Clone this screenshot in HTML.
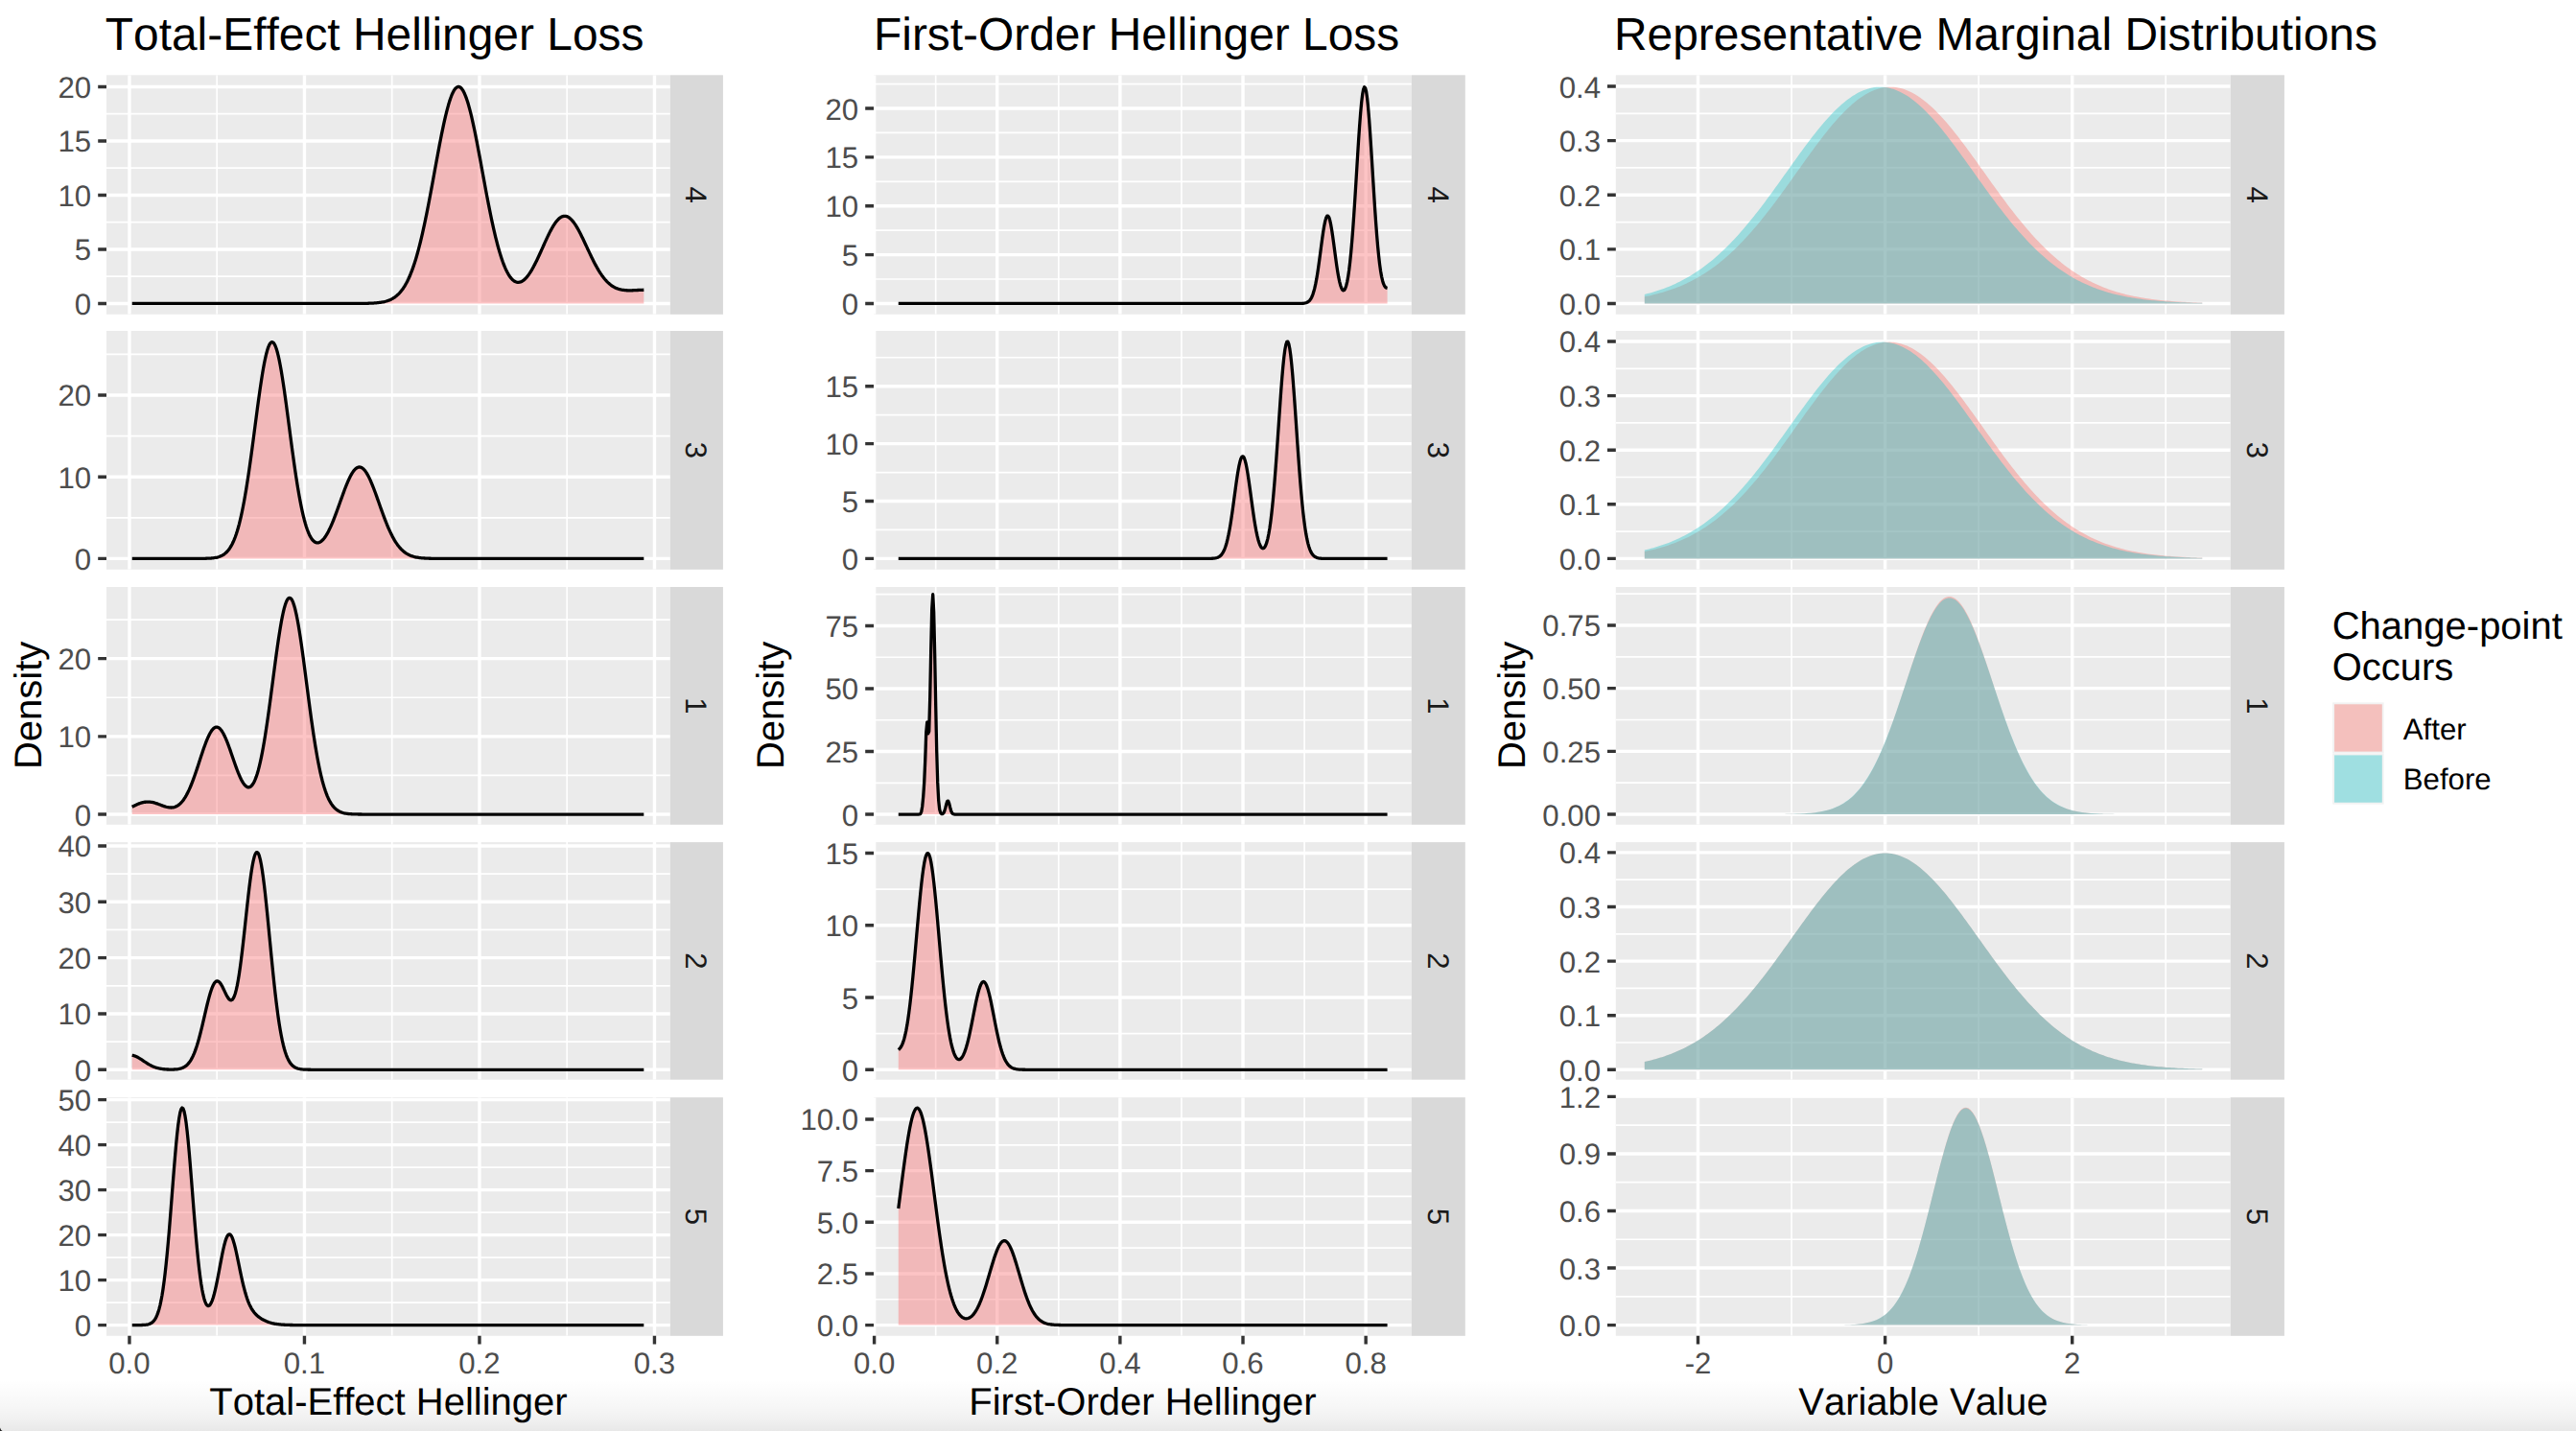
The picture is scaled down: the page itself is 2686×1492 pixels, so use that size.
<!DOCTYPE html>
<html lang="en"><head><meta charset="utf-8"><title>Hellinger loss densities</title>
<style>html,body{margin:0;padding:0;background:#fff;}body{width:2686px;height:1492px;overflow:hidden;}svg{display:block;}</style></head>
<body>
<svg width="2686" height="1492" viewBox="0 0 2686 1492" font-family='"Liberation Sans", sans-serif' style="font-kerning:none;text-rendering:geometricPrecision">
<defs><linearGradient id="shade" x1="0" y1="0" x2="0" y2="1"><stop offset="0" stop-color="#000" stop-opacity="0"/><stop offset="0.3" stop-color="#000" stop-opacity="0.018"/><stop offset="0.55" stop-color="#000" stop-opacity="0.035"/><stop offset="0.8" stop-color="#000" stop-opacity="0.06"/><stop offset="1" stop-color="#000" stop-opacity="0.09"/></linearGradient>
<clipPath id="cp00"><rect x="111" y="78.3" width="587.9" height="249.5"/></clipPath>
<clipPath id="cp01"><rect x="111" y="345" width="587.9" height="248.8"/></clipPath>
<clipPath id="cp02"><rect x="111" y="612" width="587.9" height="247.8"/></clipPath>
<clipPath id="cp03"><rect x="111" y="878.1" width="587.9" height="247.6"/></clipPath>
<clipPath id="cp04"><rect x="111" y="1144.2" width="587.9" height="248.6"/></clipPath>
<clipPath id="cp10"><rect x="911" y="78.3" width="560.9" height="249.5"/></clipPath>
<clipPath id="cp11"><rect x="911" y="345" width="560.9" height="248.8"/></clipPath>
<clipPath id="cp12"><rect x="911" y="612" width="560.9" height="247.8"/></clipPath>
<clipPath id="cp13"><rect x="911" y="878.1" width="560.9" height="247.6"/></clipPath>
<clipPath id="cp14"><rect x="911" y="1144.2" width="560.9" height="248.6"/></clipPath>
<clipPath id="cp20"><rect x="1684.8" y="78.3" width="641" height="249.5"/></clipPath>
<clipPath id="cp21"><rect x="1684.8" y="345" width="641" height="248.8"/></clipPath>
<clipPath id="cp22"><rect x="1684.8" y="612" width="641" height="247.8"/></clipPath>
<clipPath id="cp23"><rect x="1684.8" y="878.1" width="641" height="247.6"/></clipPath>
<clipPath id="cp24"><rect x="1684.8" y="1144.2" width="641" height="248.6"/></clipPath>
</defs>
<rect width="2686" height="1492" fill="#FFFFFF"/>
<text x="109.8" y="51.6" font-size="47.9" fill="#000">Total-Effect Hellinger Loss</text>
<g>
<rect x="111" y="78.3" width="587.9" height="249.5" fill="#EBEBEB"/>
<g clip-path="url(#cp00)">
<path d="M111 288.2H698.9M111 231.7H698.9M111 175.2H698.9M111 118.7H698.9M226.2 78.3V327.8M408.7 78.3V327.8M591.2 78.3V327.8" stroke="#fff" stroke-width="1.7" fill="none"/>
<path d="M111 316.45H698.9M111 259.95H698.9M111 203.45H698.9M111 146.95H698.9M111 90.45H698.9M134.95 78.3V327.8M317.45 78.3V327.8M499.95 78.3V327.8M682.45 78.3V327.8" stroke="#fff" stroke-width="3.4" fill="none"/>
<path d="M137.69 316.45L138.73 316.45L139.78 316.45L140.82 316.45L141.86 316.45L142.91 316.45L143.95 316.45L145 316.45L146.04 316.45L147.09 316.45L148.13 316.45L149.17 316.45L150.22 316.45L151.26 316.45L152.31 316.45L153.35 316.45L154.4 316.45L155.44 316.45L156.48 316.45L157.53 316.45L158.57 316.45L159.62 316.45L160.66 316.45L161.71 316.45L162.75 316.45L163.79 316.45L164.84 316.45L165.88 316.45L166.93 316.45L167.97 316.45L169.02 316.45L170.06 316.45L171.1 316.45L172.15 316.45L173.19 316.45L174.24 316.45L175.28 316.45L176.33 316.45L177.37 316.45L178.41 316.45L179.46 316.45L180.5 316.45L181.55 316.45L182.59 316.45L183.64 316.45L184.68 316.45L185.72 316.45L186.77 316.45L187.81 316.45L188.86 316.45L189.9 316.45L190.95 316.45L191.99 316.45L193.03 316.45L194.08 316.45L195.12 316.45L196.17 316.45L197.21 316.45L198.26 316.45L199.3 316.45L200.34 316.45L201.39 316.45L202.43 316.45L203.48 316.45L204.52 316.45L205.57 316.45L206.61 316.45L207.65 316.45L208.7 316.45L209.74 316.45L210.79 316.45L211.83 316.45L212.88 316.45L213.92 316.45L214.96 316.45L216.01 316.45L217.05 316.45L218.1 316.45L219.14 316.45L220.19 316.45L221.23 316.45L222.27 316.45L223.32 316.45L224.36 316.45L225.41 316.45L226.45 316.45L227.5 316.45L228.54 316.45L229.58 316.45L230.63 316.45L231.67 316.45L232.72 316.45L233.76 316.45L234.81 316.45L235.85 316.45L236.89 316.45L237.94 316.45L238.98 316.45L240.03 316.45L241.07 316.45L242.12 316.45L243.16 316.45L244.2 316.45L245.25 316.45L246.29 316.45L247.34 316.45L248.38 316.45L249.43 316.45L250.47 316.45L251.51 316.45L252.56 316.45L253.6 316.45L254.65 316.45L255.69 316.45L256.74 316.45L257.78 316.45L258.82 316.45L259.87 316.45L260.91 316.45L261.96 316.45L263 316.45L264.05 316.45L265.09 316.45L266.13 316.45L267.18 316.45L268.22 316.45L269.27 316.45L270.31 316.45L271.36 316.45L272.4 316.45L273.44 316.45L274.49 316.45L275.53 316.45L276.58 316.45L277.62 316.45L278.67 316.45L279.71 316.45L280.75 316.45L281.8 316.45L282.84 316.45L283.89 316.45L284.93 316.45L285.98 316.45L287.02 316.45L288.06 316.45L289.11 316.45L290.15 316.45L291.2 316.45L292.24 316.45L293.29 316.45L294.33 316.45L295.37 316.45L296.42 316.45L297.46 316.45L298.51 316.45L299.55 316.45L300.6 316.45L301.64 316.45L302.68 316.45L303.73 316.45L304.77 316.45L305.82 316.45L306.86 316.45L307.91 316.45L308.95 316.45L309.99 316.45L311.04 316.45L312.08 316.45L313.13 316.45L314.17 316.45L315.22 316.45L316.26 316.45L317.3 316.45L318.35 316.45L319.39 316.45L320.44 316.45L321.48 316.45L322.53 316.45L323.57 316.45L324.61 316.45L325.66 316.45L326.7 316.45L327.75 316.45L328.79 316.45L329.84 316.45L330.88 316.45L331.92 316.45L332.97 316.45L334.01 316.45L335.06 316.45L336.1 316.45L337.15 316.45L338.19 316.45L339.23 316.45L340.28 316.45L341.32 316.45L342.37 316.45L343.41 316.45L344.46 316.45L345.5 316.45L346.54 316.45L347.59 316.45L348.63 316.45L349.68 316.45L350.72 316.45L351.77 316.45L352.81 316.45L353.85 316.45L354.9 316.45L355.94 316.45L356.99 316.45L358.03 316.45L359.08 316.45L360.12 316.45L361.16 316.45L362.21 316.45L363.25 316.44L364.3 316.44L365.34 316.44L366.39 316.44L367.43 316.44L368.47 316.43L369.52 316.43L370.56 316.43L371.61 316.42L372.65 316.42L373.7 316.41L374.74 316.41L375.78 316.4L376.83 316.39L377.87 316.38L378.92 316.36L379.96 316.35L381.01 316.33L382.05 316.31L383.09 316.28L384.14 316.25L385.18 316.22L386.23 316.18L387.27 316.14L388.32 316.09L389.36 316.03L390.4 315.96L391.45 315.89L392.49 315.8L393.54 315.7L394.58 315.59L395.63 315.46L396.67 315.32L397.71 315.15L398.76 314.97L399.8 314.76L400.85 314.53L401.89 314.27L402.94 313.97L403.98 313.64L405.02 313.28L406.07 312.87L407.11 312.41L408.16 311.91L409.2 311.35L410.25 310.73L411.29 310.05L412.33 309.3L413.38 308.48L414.42 307.58L415.47 306.6L416.51 305.52L417.56 304.35L418.6 303.07L419.64 301.69L420.69 300.19L421.73 298.57L422.78 296.82L423.82 294.94L424.87 292.92L425.91 290.76L426.95 288.45L428 285.98L429.04 283.35L430.09 280.56L431.13 277.6L432.18 274.46L433.22 271.16L434.26 267.68L435.31 264.02L436.35 260.19L437.4 256.19L438.44 252.01L439.49 247.66L440.53 243.15L441.57 238.48L442.62 233.65L443.66 228.68L444.71 223.57L445.75 218.33L446.8 212.98L447.84 207.53L448.88 202L449.93 196.39L450.97 190.72L452.02 185.02L453.06 179.3L454.11 173.57L455.15 167.87L456.19 162.21L457.24 156.62L458.28 151.11L459.33 145.71L460.37 140.43L461.42 135.32L462.46 130.38L463.5 125.63L464.55 121.11L465.59 116.83L466.64 112.81L467.68 109.07L468.73 105.63L469.77 102.51L470.81 99.72L471.86 97.27L472.9 95.19L473.95 93.47L474.99 92.13L476.04 91.18L477.08 90.62L478.12 90.45L479.17 90.67L480.21 91.29L481.26 92.3L482.3 93.69L483.35 95.46L484.39 97.59L485.43 100.09L486.48 102.92L487.52 106.09L488.57 109.57L489.61 113.35L490.66 117.4L491.7 121.72L492.74 126.27L493.79 131.04L494.83 136L495.88 141.13L496.92 146.41L497.97 151.82L499.01 157.33L500.05 162.92L501.1 168.57L502.14 174.26L503.19 179.96L504.23 185.65L505.28 191.32L506.32 196.94L507.36 202.5L508.41 207.99L509.45 213.37L510.5 218.64L511.54 223.79L512.59 228.81L513.63 233.67L514.67 238.38L515.72 242.92L516.76 247.29L517.81 251.47L518.85 255.47L519.9 259.27L520.94 262.88L521.98 266.29L523.03 269.5L524.07 272.52L525.12 275.32L526.16 277.93L527.21 280.34L528.25 282.54L529.29 284.55L530.34 286.37L531.38 287.99L532.43 289.42L533.47 290.66L534.52 291.71L535.56 292.59L536.6 293.28L537.65 293.8L538.69 294.15L539.74 294.34L540.78 294.36L541.83 294.22L542.87 293.92L543.91 293.47L544.96 292.87L546 292.13L547.05 291.25L548.09 290.23L549.14 289.08L550.18 287.81L551.22 286.42L552.27 284.91L553.31 283.29L554.36 281.58L555.4 279.76L556.45 277.86L557.49 275.87L558.53 273.81L559.58 271.69L560.62 269.5L561.67 267.27L562.71 265L563.76 262.7L564.8 260.38L565.84 258.05L566.89 255.72L567.93 253.41L568.98 251.12L570.02 248.86L571.07 246.64L572.11 244.49L573.15 242.39L574.2 240.38L575.24 238.46L576.29 236.63L577.33 234.91L578.38 233.31L579.42 231.83L580.46 230.49L581.51 229.29L582.55 228.24L583.6 227.34L584.64 226.6L585.69 226.02L586.73 225.6L587.77 225.36L588.82 225.28L589.86 225.38L590.91 225.64L591.95 226.06L593 226.65L594.04 227.4L595.08 228.31L596.13 229.36L597.17 230.56L598.22 231.89L599.26 233.35L600.31 234.93L601.35 236.62L602.39 238.42L603.44 240.3L604.48 242.26L605.53 244.3L606.57 246.4L607.62 248.54L608.66 250.73L609.7 252.95L610.75 255.18L611.79 257.43L612.84 259.68L613.88 261.91L614.93 264.13L615.97 266.32L617.01 268.48L618.06 270.6L619.1 272.67L620.15 274.68L621.19 276.64L622.24 278.53L623.28 280.36L624.32 282.11L625.37 283.79L626.41 285.39L627.46 286.92L628.5 288.36L629.55 289.73L630.59 291.01L631.63 292.22L632.68 293.34L633.72 294.39L634.77 295.36L635.81 296.25L636.86 297.08L637.9 297.83L638.94 298.51L639.99 299.14L641.03 299.69L642.08 300.19L643.12 300.64L644.17 301.03L645.21 301.37L646.25 301.67L647.3 301.93L648.34 302.14L649.39 302.32L650.43 302.46L651.48 302.58L652.52 302.67L653.56 302.73L654.61 302.78L655.65 302.8L656.7 302.81L657.74 302.8L658.79 302.78L659.83 302.75L660.87 302.71L661.92 302.67L662.96 302.62L664.01 302.58L665.05 302.52L666.1 302.47L667.14 302.43L668.18 302.38L669.23 302.34L670.27 302.3L671.32 302.27L671.32 316.45L137.69 316.45Z" fill="#F96B6E" fill-opacity="0.4" stroke="none"/>
<path d="M137.69 316.45L138.73 316.45L139.78 316.45L140.82 316.45L141.86 316.45L142.91 316.45L143.95 316.45L145 316.45L146.04 316.45L147.09 316.45L148.13 316.45L149.17 316.45L150.22 316.45L151.26 316.45L152.31 316.45L153.35 316.45L154.4 316.45L155.44 316.45L156.48 316.45L157.53 316.45L158.57 316.45L159.62 316.45L160.66 316.45L161.71 316.45L162.75 316.45L163.79 316.45L164.84 316.45L165.88 316.45L166.93 316.45L167.97 316.45L169.02 316.45L170.06 316.45L171.1 316.45L172.15 316.45L173.19 316.45L174.24 316.45L175.28 316.45L176.33 316.45L177.37 316.45L178.41 316.45L179.46 316.45L180.5 316.45L181.55 316.45L182.59 316.45L183.64 316.45L184.68 316.45L185.72 316.45L186.77 316.45L187.81 316.45L188.86 316.45L189.9 316.45L190.95 316.45L191.99 316.45L193.03 316.45L194.08 316.45L195.12 316.45L196.17 316.45L197.21 316.45L198.26 316.45L199.3 316.45L200.34 316.45L201.39 316.45L202.43 316.45L203.48 316.45L204.52 316.45L205.57 316.45L206.61 316.45L207.65 316.45L208.7 316.45L209.74 316.45L210.79 316.45L211.83 316.45L212.88 316.45L213.92 316.45L214.96 316.45L216.01 316.45L217.05 316.45L218.1 316.45L219.14 316.45L220.19 316.45L221.23 316.45L222.27 316.45L223.32 316.45L224.36 316.45L225.41 316.45L226.45 316.45L227.5 316.45L228.54 316.45L229.58 316.45L230.63 316.45L231.67 316.45L232.72 316.45L233.76 316.45L234.81 316.45L235.85 316.45L236.89 316.45L237.94 316.45L238.98 316.45L240.03 316.45L241.07 316.45L242.12 316.45L243.16 316.45L244.2 316.45L245.25 316.45L246.29 316.45L247.34 316.45L248.38 316.45L249.43 316.45L250.47 316.45L251.51 316.45L252.56 316.45L253.6 316.45L254.65 316.45L255.69 316.45L256.74 316.45L257.78 316.45L258.82 316.45L259.87 316.45L260.91 316.45L261.96 316.45L263 316.45L264.05 316.45L265.09 316.45L266.13 316.45L267.18 316.45L268.22 316.45L269.27 316.45L270.31 316.45L271.36 316.45L272.4 316.45L273.44 316.45L274.49 316.45L275.53 316.45L276.58 316.45L277.62 316.45L278.67 316.45L279.71 316.45L280.75 316.45L281.8 316.45L282.84 316.45L283.89 316.45L284.93 316.45L285.98 316.45L287.02 316.45L288.06 316.45L289.11 316.45L290.15 316.45L291.2 316.45L292.24 316.45L293.29 316.45L294.33 316.45L295.37 316.45L296.42 316.45L297.46 316.45L298.51 316.45L299.55 316.45L300.6 316.45L301.64 316.45L302.68 316.45L303.73 316.45L304.77 316.45L305.82 316.45L306.86 316.45L307.91 316.45L308.95 316.45L309.99 316.45L311.04 316.45L312.08 316.45L313.13 316.45L314.17 316.45L315.22 316.45L316.26 316.45L317.3 316.45L318.35 316.45L319.39 316.45L320.44 316.45L321.48 316.45L322.53 316.45L323.57 316.45L324.61 316.45L325.66 316.45L326.7 316.45L327.75 316.45L328.79 316.45L329.84 316.45L330.88 316.45L331.92 316.45L332.97 316.45L334.01 316.45L335.06 316.45L336.1 316.45L337.15 316.45L338.19 316.45L339.23 316.45L340.28 316.45L341.32 316.45L342.37 316.45L343.41 316.45L344.46 316.45L345.5 316.45L346.54 316.45L347.59 316.45L348.63 316.45L349.68 316.45L350.72 316.45L351.77 316.45L352.81 316.45L353.85 316.45L354.9 316.45L355.94 316.45L356.99 316.45L358.03 316.45L359.08 316.45L360.12 316.45L361.16 316.45L362.21 316.45L363.25 316.44L364.3 316.44L365.34 316.44L366.39 316.44L367.43 316.44L368.47 316.43L369.52 316.43L370.56 316.43L371.61 316.42L372.65 316.42L373.7 316.41L374.74 316.41L375.78 316.4L376.83 316.39L377.87 316.38L378.92 316.36L379.96 316.35L381.01 316.33L382.05 316.31L383.09 316.28L384.14 316.25L385.18 316.22L386.23 316.18L387.27 316.14L388.32 316.09L389.36 316.03L390.4 315.96L391.45 315.89L392.49 315.8L393.54 315.7L394.58 315.59L395.63 315.46L396.67 315.32L397.71 315.15L398.76 314.97L399.8 314.76L400.85 314.53L401.89 314.27L402.94 313.97L403.98 313.64L405.02 313.28L406.07 312.87L407.11 312.41L408.16 311.91L409.2 311.35L410.25 310.73L411.29 310.05L412.33 309.3L413.38 308.48L414.42 307.58L415.47 306.6L416.51 305.52L417.56 304.35L418.6 303.07L419.64 301.69L420.69 300.19L421.73 298.57L422.78 296.82L423.82 294.94L424.87 292.92L425.91 290.76L426.95 288.45L428 285.98L429.04 283.35L430.09 280.56L431.13 277.6L432.18 274.46L433.22 271.16L434.26 267.68L435.31 264.02L436.35 260.19L437.4 256.19L438.44 252.01L439.49 247.66L440.53 243.15L441.57 238.48L442.62 233.65L443.66 228.68L444.71 223.57L445.75 218.33L446.8 212.98L447.84 207.53L448.88 202L449.93 196.39L450.97 190.72L452.02 185.02L453.06 179.3L454.11 173.57L455.15 167.87L456.19 162.21L457.24 156.62L458.28 151.11L459.33 145.71L460.37 140.43L461.42 135.32L462.46 130.38L463.5 125.63L464.55 121.11L465.59 116.83L466.64 112.81L467.68 109.07L468.73 105.63L469.77 102.51L470.81 99.72L471.86 97.27L472.9 95.19L473.95 93.47L474.99 92.13L476.04 91.18L477.08 90.62L478.12 90.45L479.17 90.67L480.21 91.29L481.26 92.3L482.3 93.69L483.35 95.46L484.39 97.59L485.43 100.09L486.48 102.92L487.52 106.09L488.57 109.57L489.61 113.35L490.66 117.4L491.7 121.72L492.74 126.27L493.79 131.04L494.83 136L495.88 141.13L496.92 146.41L497.97 151.82L499.01 157.33L500.05 162.92L501.1 168.57L502.14 174.26L503.19 179.96L504.23 185.65L505.28 191.32L506.32 196.94L507.36 202.5L508.41 207.99L509.45 213.37L510.5 218.64L511.54 223.79L512.59 228.81L513.63 233.67L514.67 238.38L515.72 242.92L516.76 247.29L517.81 251.47L518.85 255.47L519.9 259.27L520.94 262.88L521.98 266.29L523.03 269.5L524.07 272.52L525.12 275.32L526.16 277.93L527.21 280.34L528.25 282.54L529.29 284.55L530.34 286.37L531.38 287.99L532.43 289.42L533.47 290.66L534.52 291.71L535.56 292.59L536.6 293.28L537.65 293.8L538.69 294.15L539.74 294.34L540.78 294.36L541.83 294.22L542.87 293.92L543.91 293.47L544.96 292.87L546 292.13L547.05 291.25L548.09 290.23L549.14 289.08L550.18 287.81L551.22 286.42L552.27 284.91L553.31 283.29L554.36 281.58L555.4 279.76L556.45 277.86L557.49 275.87L558.53 273.81L559.58 271.69L560.62 269.5L561.67 267.27L562.71 265L563.76 262.7L564.8 260.38L565.84 258.05L566.89 255.72L567.93 253.41L568.98 251.12L570.02 248.86L571.07 246.64L572.11 244.49L573.15 242.39L574.2 240.38L575.24 238.46L576.29 236.63L577.33 234.91L578.38 233.31L579.42 231.83L580.46 230.49L581.51 229.29L582.55 228.24L583.6 227.34L584.64 226.6L585.69 226.02L586.73 225.6L587.77 225.36L588.82 225.28L589.86 225.38L590.91 225.64L591.95 226.06L593 226.65L594.04 227.4L595.08 228.31L596.13 229.36L597.17 230.56L598.22 231.89L599.26 233.35L600.31 234.93L601.35 236.62L602.39 238.42L603.44 240.3L604.48 242.26L605.53 244.3L606.57 246.4L607.62 248.54L608.66 250.73L609.7 252.95L610.75 255.18L611.79 257.43L612.84 259.68L613.88 261.91L614.93 264.13L615.97 266.32L617.01 268.48L618.06 270.6L619.1 272.67L620.15 274.68L621.19 276.64L622.24 278.53L623.28 280.36L624.32 282.11L625.37 283.79L626.41 285.39L627.46 286.92L628.5 288.36L629.55 289.73L630.59 291.01L631.63 292.22L632.68 293.34L633.72 294.39L634.77 295.36L635.81 296.25L636.86 297.08L637.9 297.83L638.94 298.51L639.99 299.14L641.03 299.69L642.08 300.19L643.12 300.64L644.17 301.03L645.21 301.37L646.25 301.67L647.3 301.93L648.34 302.14L649.39 302.32L650.43 302.46L651.48 302.58L652.52 302.67L653.56 302.73L654.61 302.78L655.65 302.8L656.7 302.81L657.74 302.8L658.79 302.78L659.83 302.75L660.87 302.71L661.92 302.67L662.96 302.62L664.01 302.58L665.05 302.52L666.1 302.47L667.14 302.43L668.18 302.38L669.23 302.34L670.27 302.3L671.32 302.27" fill="none" stroke="#000" stroke-width="3.3" stroke-linejoin="round" stroke-linecap="butt"/>
</g>
<rect x="698.9" y="78.3" width="55" height="249.5" fill="#D9D9D9"/>
<text transform="translate(726.4 203.05) rotate(90)" x="0" y="11.17" text-anchor="middle" font-size="31.2" fill="#1A1A1A">4</text>
<text x="95.2" y="327.92" text-anchor="end" font-size="31.2" fill="#4D4D4D">0</text>
<text x="95.2" y="271.42" text-anchor="end" font-size="31.2" fill="#4D4D4D">5</text>
<text x="95.2" y="214.92" text-anchor="end" font-size="31.2" fill="#4D4D4D">10</text>
<text x="95.2" y="158.42" text-anchor="end" font-size="31.2" fill="#4D4D4D">15</text>
<text x="95.2" y="101.92" text-anchor="end" font-size="31.2" fill="#4D4D4D">20</text>
<path d="M102.2 316.45H111M102.2 259.95H111M102.2 203.45H111M102.2 146.95H111M102.2 90.45H111" stroke="#333333" stroke-width="3.4" fill="none"/>
</g>
<g>
<rect x="111" y="345" width="587.9" height="248.8" fill="#EBEBEB"/>
<g clip-path="url(#cp01)">
<path d="M111 539.8H698.9M111 454.6H698.9M111 369.4H698.9M226.2 345V593.8M408.7 345V593.8M591.2 345V593.8" stroke="#fff" stroke-width="1.7" fill="none"/>
<path d="M111 582.4H698.9M111 497.2H698.9M111 412H698.9M134.95 345V593.8M317.45 345V593.8M499.95 345V593.8M682.45 345V593.8" stroke="#fff" stroke-width="3.4" fill="none"/>
<path d="M137.69 582.4L138.73 582.4L139.78 582.4L140.82 582.4L141.86 582.4L142.91 582.4L143.95 582.4L145 582.4L146.04 582.4L147.09 582.4L148.13 582.4L149.17 582.4L150.22 582.4L151.26 582.4L152.31 582.4L153.35 582.4L154.4 582.4L155.44 582.4L156.48 582.4L157.53 582.4L158.57 582.4L159.62 582.4L160.66 582.4L161.71 582.4L162.75 582.4L163.79 582.4L164.84 582.4L165.88 582.4L166.93 582.4L167.97 582.4L169.02 582.4L170.06 582.4L171.1 582.4L172.15 582.4L173.19 582.4L174.24 582.4L175.28 582.4L176.33 582.4L177.37 582.4L178.41 582.4L179.46 582.4L180.5 582.4L181.55 582.4L182.59 582.4L183.64 582.4L184.68 582.4L185.72 582.4L186.77 582.4L187.81 582.4L188.86 582.4L189.9 582.4L190.95 582.4L191.99 582.4L193.03 582.4L194.08 582.4L195.12 582.4L196.17 582.4L197.21 582.4L198.26 582.4L199.3 582.4L200.34 582.4L201.39 582.39L202.43 582.39L203.48 582.39L204.52 582.39L205.57 582.38L206.61 582.38L207.65 582.37L208.7 582.37L209.74 582.36L210.79 582.34L211.83 582.33L212.88 582.31L213.92 582.29L214.96 582.26L216.01 582.22L217.05 582.18L218.1 582.13L219.14 582.06L220.19 581.99L221.23 581.89L222.27 581.78L223.32 581.64L224.36 581.48L225.41 581.28L226.45 581.05L227.5 580.78L228.54 580.45L229.58 580.07L230.63 579.63L231.67 579.11L232.72 578.51L233.76 577.81L234.81 577.01L235.85 576.09L236.89 575.03L237.94 573.83L238.98 572.47L240.03 570.93L241.07 569.19L242.12 567.25L243.16 565.07L244.2 562.66L245.25 559.98L246.29 557.02L247.34 553.78L248.38 550.23L249.43 546.36L250.47 542.16L251.51 537.63L252.56 532.75L253.6 527.54L254.65 521.98L255.69 516.08L256.74 509.86L257.78 503.32L258.82 496.49L259.87 489.38L260.91 482.03L261.96 474.47L263 466.73L264.05 458.86L265.09 450.91L266.13 442.91L267.18 434.94L268.22 427.04L269.27 419.27L270.31 411.7L271.36 404.38L272.4 397.39L273.44 390.77L274.49 384.59L275.53 378.91L276.58 373.77L277.62 369.24L278.67 365.34L279.71 362.13L280.75 359.63L281.8 357.87L282.84 356.87L283.89 356.63L284.93 357.16L285.98 358.45L287.02 360.5L288.06 363.27L289.11 366.74L290.15 370.88L291.2 375.65L292.24 381L293.29 386.87L294.33 393.22L295.37 399.98L296.42 407.09L297.46 414.5L298.51 422.14L299.55 429.94L300.6 437.86L301.64 445.82L302.68 453.77L303.73 461.66L304.77 469.44L305.82 477.07L306.86 484.49L307.91 491.68L308.95 498.6L309.99 505.23L311.04 511.54L312.08 517.51L313.13 523.13L314.17 528.4L315.22 533.29L316.26 537.81L317.3 541.97L318.35 545.76L319.39 549.19L320.44 552.26L321.48 554.99L322.53 557.39L323.57 559.46L324.61 561.22L325.66 562.69L326.7 563.86L327.75 564.76L328.79 565.4L329.84 565.78L330.88 565.92L331.92 565.83L332.97 565.52L334.01 565L335.06 564.28L336.1 563.36L337.15 562.25L338.19 560.96L339.23 559.5L340.28 557.88L341.32 556.1L342.37 554.17L343.41 552.1L344.46 549.89L345.5 547.56L346.54 545.12L347.59 542.56L348.63 539.92L349.68 537.19L350.72 534.4L351.77 531.54L352.81 528.65L353.85 525.72L354.9 522.79L355.94 519.86L356.99 516.95L358.03 514.08L359.08 511.27L360.12 508.53L361.16 505.88L362.21 503.35L363.25 500.94L364.3 498.67L365.34 496.57L366.39 494.64L367.43 492.91L368.47 491.37L369.52 490.05L370.56 488.96L371.61 488.1L372.65 487.48L373.7 487.1L374.74 486.98L375.78 487.1L376.83 487.47L377.87 488.08L378.92 488.93L379.96 490.02L381.01 491.34L382.05 492.86L383.09 494.6L384.14 496.52L385.18 498.62L386.23 500.88L387.27 503.29L388.32 505.83L389.36 508.48L390.4 511.22L391.45 514.04L392.49 516.92L393.54 519.84L394.58 522.79L395.63 525.74L396.67 528.69L397.71 531.62L398.76 534.52L399.8 537.36L400.85 540.15L401.89 542.87L402.94 545.51L403.98 548.07L405.02 550.53L406.07 552.89L407.11 555.14L408.16 557.29L409.2 559.34L410.25 561.27L411.29 563.09L412.33 564.79L413.38 566.39L414.42 567.89L415.47 569.27L416.51 570.56L417.56 571.75L418.6 572.84L419.64 573.84L420.69 574.76L421.73 575.6L422.78 576.36L423.82 577.05L424.87 577.67L425.91 578.24L426.95 578.74L428 579.19L429.04 579.6L430.09 579.95L431.13 580.27L432.18 580.56L433.22 580.8L434.26 581.02L435.31 581.21L436.35 581.38L437.4 581.53L438.44 581.66L439.49 581.77L440.53 581.86L441.57 581.94L442.62 582.01L443.66 582.08L444.71 582.13L445.75 582.17L446.8 582.21L447.84 582.24L448.88 582.27L449.93 582.29L450.97 582.31L452.02 582.32L453.06 582.34L454.11 582.35L455.15 582.36L456.19 582.37L457.24 582.37L458.28 582.38L459.33 582.38L460.37 582.39L461.42 582.39L462.46 582.39L463.5 582.39L464.55 582.39L465.59 582.4L466.64 582.4L467.68 582.4L468.73 582.4L469.77 582.4L470.81 582.4L471.86 582.4L472.9 582.4L473.95 582.4L474.99 582.4L476.04 582.4L477.08 582.4L478.12 582.4L479.17 582.4L480.21 582.4L481.26 582.4L482.3 582.4L483.35 582.4L484.39 582.4L485.43 582.4L486.48 582.4L487.52 582.4L488.57 582.4L489.61 582.4L490.66 582.4L491.7 582.4L492.74 582.4L493.79 582.4L494.83 582.4L495.88 582.4L496.92 582.4L497.97 582.4L499.01 582.4L500.05 582.4L501.1 582.4L502.14 582.4L503.19 582.4L504.23 582.4L505.28 582.4L506.32 582.4L507.36 582.4L508.41 582.4L509.45 582.4L510.5 582.4L511.54 582.4L512.59 582.4L513.63 582.4L514.67 582.4L515.72 582.4L516.76 582.4L517.81 582.4L518.85 582.4L519.9 582.4L520.94 582.4L521.98 582.4L523.03 582.4L524.07 582.4L525.12 582.4L526.16 582.4L527.21 582.4L528.25 582.4L529.29 582.4L530.34 582.4L531.38 582.4L532.43 582.4L533.47 582.4L534.52 582.4L535.56 582.4L536.6 582.4L537.65 582.4L538.69 582.4L539.74 582.4L540.78 582.4L541.83 582.4L542.87 582.4L543.91 582.4L544.96 582.4L546 582.4L547.05 582.4L548.09 582.4L549.14 582.4L550.18 582.4L551.22 582.4L552.27 582.4L553.31 582.4L554.36 582.4L555.4 582.4L556.45 582.4L557.49 582.4L558.53 582.4L559.58 582.4L560.62 582.4L561.67 582.4L562.71 582.4L563.76 582.4L564.8 582.4L565.84 582.4L566.89 582.4L567.93 582.4L568.98 582.4L570.02 582.4L571.07 582.4L572.11 582.4L573.15 582.4L574.2 582.4L575.24 582.4L576.29 582.4L577.33 582.4L578.38 582.4L579.42 582.4L580.46 582.4L581.51 582.4L582.55 582.4L583.6 582.4L584.64 582.4L585.69 582.4L586.73 582.4L587.77 582.4L588.82 582.4L589.86 582.4L590.91 582.4L591.95 582.4L593 582.4L594.04 582.4L595.08 582.4L596.13 582.4L597.17 582.4L598.22 582.4L599.26 582.4L600.31 582.4L601.35 582.4L602.39 582.4L603.44 582.4L604.48 582.4L605.53 582.4L606.57 582.4L607.62 582.4L608.66 582.4L609.7 582.4L610.75 582.4L611.79 582.4L612.84 582.4L613.88 582.4L614.93 582.4L615.97 582.4L617.01 582.4L618.06 582.4L619.1 582.4L620.15 582.4L621.19 582.4L622.24 582.4L623.28 582.4L624.32 582.4L625.37 582.4L626.41 582.4L627.46 582.4L628.5 582.4L629.55 582.4L630.59 582.4L631.63 582.4L632.68 582.4L633.72 582.4L634.77 582.4L635.81 582.4L636.86 582.4L637.9 582.4L638.94 582.4L639.99 582.4L641.03 582.4L642.08 582.4L643.12 582.4L644.17 582.4L645.21 582.4L646.25 582.4L647.3 582.4L648.34 582.4L649.39 582.4L650.43 582.4L651.48 582.4L652.52 582.4L653.56 582.4L654.61 582.4L655.65 582.4L656.7 582.4L657.74 582.4L658.79 582.4L659.83 582.4L660.87 582.4L661.92 582.4L662.96 582.4L664.01 582.4L665.05 582.4L666.1 582.4L667.14 582.4L668.18 582.4L669.23 582.4L670.27 582.4L671.32 582.4L671.32 582.4L137.69 582.4Z" fill="#F96B6E" fill-opacity="0.4" stroke="none"/>
<path d="M137.69 582.4L138.73 582.4L139.78 582.4L140.82 582.4L141.86 582.4L142.91 582.4L143.95 582.4L145 582.4L146.04 582.4L147.09 582.4L148.13 582.4L149.17 582.4L150.22 582.4L151.26 582.4L152.31 582.4L153.35 582.4L154.4 582.4L155.44 582.4L156.48 582.4L157.53 582.4L158.57 582.4L159.62 582.4L160.66 582.4L161.71 582.4L162.75 582.4L163.79 582.4L164.84 582.4L165.88 582.4L166.93 582.4L167.97 582.4L169.02 582.4L170.06 582.4L171.1 582.4L172.15 582.4L173.19 582.4L174.24 582.4L175.28 582.4L176.33 582.4L177.37 582.4L178.41 582.4L179.46 582.4L180.5 582.4L181.55 582.4L182.59 582.4L183.64 582.4L184.68 582.4L185.72 582.4L186.77 582.4L187.81 582.4L188.86 582.4L189.9 582.4L190.95 582.4L191.99 582.4L193.03 582.4L194.08 582.4L195.12 582.4L196.17 582.4L197.21 582.4L198.26 582.4L199.3 582.4L200.34 582.4L201.39 582.39L202.43 582.39L203.48 582.39L204.52 582.39L205.57 582.38L206.61 582.38L207.65 582.37L208.7 582.37L209.74 582.36L210.79 582.34L211.83 582.33L212.88 582.31L213.92 582.29L214.96 582.26L216.01 582.22L217.05 582.18L218.1 582.13L219.14 582.06L220.19 581.99L221.23 581.89L222.27 581.78L223.32 581.64L224.36 581.48L225.41 581.28L226.45 581.05L227.5 580.78L228.54 580.45L229.58 580.07L230.63 579.63L231.67 579.11L232.72 578.51L233.76 577.81L234.81 577.01L235.85 576.09L236.89 575.03L237.94 573.83L238.98 572.47L240.03 570.93L241.07 569.19L242.12 567.25L243.16 565.07L244.2 562.66L245.25 559.98L246.29 557.02L247.34 553.78L248.38 550.23L249.43 546.36L250.47 542.16L251.51 537.63L252.56 532.75L253.6 527.54L254.65 521.98L255.69 516.08L256.74 509.86L257.78 503.32L258.82 496.49L259.87 489.38L260.91 482.03L261.96 474.47L263 466.73L264.05 458.86L265.09 450.91L266.13 442.91L267.18 434.94L268.22 427.04L269.27 419.27L270.31 411.7L271.36 404.38L272.4 397.39L273.44 390.77L274.49 384.59L275.53 378.91L276.58 373.77L277.62 369.24L278.67 365.34L279.71 362.13L280.75 359.63L281.8 357.87L282.84 356.87L283.89 356.63L284.93 357.16L285.98 358.45L287.02 360.5L288.06 363.27L289.11 366.74L290.15 370.88L291.2 375.65L292.24 381L293.29 386.87L294.33 393.22L295.37 399.98L296.42 407.09L297.46 414.5L298.51 422.14L299.55 429.94L300.6 437.86L301.64 445.82L302.68 453.77L303.73 461.66L304.77 469.44L305.82 477.07L306.86 484.49L307.91 491.68L308.95 498.6L309.99 505.23L311.04 511.54L312.08 517.51L313.13 523.13L314.17 528.4L315.22 533.29L316.26 537.81L317.3 541.97L318.35 545.76L319.39 549.19L320.44 552.26L321.48 554.99L322.53 557.39L323.57 559.46L324.61 561.22L325.66 562.69L326.7 563.86L327.75 564.76L328.79 565.4L329.84 565.78L330.88 565.92L331.92 565.83L332.97 565.52L334.01 565L335.06 564.28L336.1 563.36L337.15 562.25L338.19 560.96L339.23 559.5L340.28 557.88L341.32 556.1L342.37 554.17L343.41 552.1L344.46 549.89L345.5 547.56L346.54 545.12L347.59 542.56L348.63 539.92L349.68 537.19L350.72 534.4L351.77 531.54L352.81 528.65L353.85 525.72L354.9 522.79L355.94 519.86L356.99 516.95L358.03 514.08L359.08 511.27L360.12 508.53L361.16 505.88L362.21 503.35L363.25 500.94L364.3 498.67L365.34 496.57L366.39 494.64L367.43 492.91L368.47 491.37L369.52 490.05L370.56 488.96L371.61 488.1L372.65 487.48L373.7 487.1L374.74 486.98L375.78 487.1L376.83 487.47L377.87 488.08L378.92 488.93L379.96 490.02L381.01 491.34L382.05 492.86L383.09 494.6L384.14 496.52L385.18 498.62L386.23 500.88L387.27 503.29L388.32 505.83L389.36 508.48L390.4 511.22L391.45 514.04L392.49 516.92L393.54 519.84L394.58 522.79L395.63 525.74L396.67 528.69L397.71 531.62L398.76 534.52L399.8 537.36L400.85 540.15L401.89 542.87L402.94 545.51L403.98 548.07L405.02 550.53L406.07 552.89L407.11 555.14L408.16 557.29L409.2 559.34L410.25 561.27L411.29 563.09L412.33 564.79L413.38 566.39L414.42 567.89L415.47 569.27L416.51 570.56L417.56 571.75L418.6 572.84L419.64 573.84L420.69 574.76L421.73 575.6L422.78 576.36L423.82 577.05L424.87 577.67L425.91 578.24L426.95 578.74L428 579.19L429.04 579.6L430.09 579.95L431.13 580.27L432.18 580.56L433.22 580.8L434.26 581.02L435.31 581.21L436.35 581.38L437.4 581.53L438.44 581.66L439.49 581.77L440.53 581.86L441.57 581.94L442.62 582.01L443.66 582.08L444.71 582.13L445.75 582.17L446.8 582.21L447.84 582.24L448.88 582.27L449.93 582.29L450.97 582.31L452.02 582.32L453.06 582.34L454.11 582.35L455.15 582.36L456.19 582.37L457.24 582.37L458.28 582.38L459.33 582.38L460.37 582.39L461.42 582.39L462.46 582.39L463.5 582.39L464.55 582.39L465.59 582.4L466.64 582.4L467.68 582.4L468.73 582.4L469.77 582.4L470.81 582.4L471.86 582.4L472.9 582.4L473.95 582.4L474.99 582.4L476.04 582.4L477.08 582.4L478.12 582.4L479.17 582.4L480.21 582.4L481.26 582.4L482.3 582.4L483.35 582.4L484.39 582.4L485.43 582.4L486.48 582.4L487.52 582.4L488.57 582.4L489.61 582.4L490.66 582.4L491.7 582.4L492.74 582.4L493.79 582.4L494.83 582.4L495.88 582.4L496.92 582.4L497.97 582.4L499.01 582.4L500.05 582.4L501.1 582.4L502.14 582.4L503.19 582.4L504.23 582.4L505.28 582.4L506.32 582.4L507.36 582.4L508.41 582.4L509.45 582.4L510.5 582.4L511.54 582.4L512.59 582.4L513.63 582.4L514.67 582.4L515.72 582.4L516.76 582.4L517.81 582.4L518.85 582.4L519.9 582.4L520.94 582.4L521.98 582.4L523.03 582.4L524.07 582.4L525.12 582.4L526.16 582.4L527.21 582.4L528.25 582.4L529.29 582.4L530.34 582.4L531.38 582.4L532.43 582.4L533.47 582.4L534.52 582.4L535.56 582.4L536.6 582.4L537.65 582.4L538.69 582.4L539.74 582.4L540.78 582.4L541.83 582.4L542.87 582.4L543.91 582.4L544.96 582.4L546 582.4L547.05 582.4L548.09 582.4L549.14 582.4L550.18 582.4L551.22 582.4L552.27 582.4L553.31 582.4L554.36 582.4L555.4 582.4L556.45 582.4L557.49 582.4L558.53 582.4L559.58 582.4L560.62 582.4L561.67 582.4L562.71 582.4L563.76 582.4L564.8 582.4L565.84 582.4L566.89 582.4L567.93 582.4L568.98 582.4L570.02 582.4L571.07 582.4L572.11 582.4L573.15 582.4L574.2 582.4L575.24 582.4L576.29 582.4L577.33 582.4L578.38 582.4L579.42 582.4L580.46 582.4L581.51 582.4L582.55 582.4L583.6 582.4L584.64 582.4L585.69 582.4L586.73 582.4L587.77 582.4L588.82 582.4L589.86 582.4L590.91 582.4L591.95 582.4L593 582.4L594.04 582.4L595.08 582.4L596.13 582.4L597.17 582.4L598.22 582.4L599.26 582.4L600.31 582.4L601.35 582.4L602.39 582.4L603.44 582.4L604.48 582.4L605.53 582.4L606.57 582.4L607.62 582.4L608.66 582.4L609.7 582.4L610.75 582.4L611.79 582.4L612.84 582.4L613.88 582.4L614.93 582.4L615.97 582.4L617.01 582.4L618.06 582.4L619.1 582.4L620.15 582.4L621.19 582.4L622.24 582.4L623.28 582.4L624.32 582.4L625.37 582.4L626.41 582.4L627.46 582.4L628.5 582.4L629.55 582.4L630.59 582.4L631.63 582.4L632.68 582.4L633.72 582.4L634.77 582.4L635.81 582.4L636.86 582.4L637.9 582.4L638.94 582.4L639.99 582.4L641.03 582.4L642.08 582.4L643.12 582.4L644.17 582.4L645.21 582.4L646.25 582.4L647.3 582.4L648.34 582.4L649.39 582.4L650.43 582.4L651.48 582.4L652.52 582.4L653.56 582.4L654.61 582.4L655.65 582.4L656.7 582.4L657.74 582.4L658.79 582.4L659.83 582.4L660.87 582.4L661.92 582.4L662.96 582.4L664.01 582.4L665.05 582.4L666.1 582.4L667.14 582.4L668.18 582.4L669.23 582.4L670.27 582.4L671.32 582.4" fill="none" stroke="#000" stroke-width="3.3" stroke-linejoin="round" stroke-linecap="butt"/>
</g>
<rect x="698.9" y="345" width="55" height="248.8" fill="#D9D9D9"/>
<text transform="translate(726.4 469.4) rotate(90)" x="0" y="11.17" text-anchor="middle" font-size="31.2" fill="#1A1A1A">3</text>
<text x="95.2" y="593.87" text-anchor="end" font-size="31.2" fill="#4D4D4D">0</text>
<text x="95.2" y="508.67" text-anchor="end" font-size="31.2" fill="#4D4D4D">10</text>
<text x="95.2" y="423.47" text-anchor="end" font-size="31.2" fill="#4D4D4D">20</text>
<path d="M102.2 582.4H111M102.2 497.2H111M102.2 412H111" stroke="#333333" stroke-width="3.4" fill="none"/>
</g>
<g>
<rect x="111" y="612" width="587.9" height="247.8" fill="#EBEBEB"/>
<g clip-path="url(#cp02)">
<path d="M111 808.45H698.9M111 727.25H698.9M111 646.05H698.9M226.2 612V859.8M408.7 612V859.8M591.2 612V859.8" stroke="#fff" stroke-width="1.7" fill="none"/>
<path d="M111 849.05H698.9M111 767.85H698.9M111 686.65H698.9M134.95 612V859.8M317.45 612V859.8M499.95 612V859.8M682.45 612V859.8" stroke="#fff" stroke-width="3.4" fill="none"/>
<path d="M137.69 841.17L138.73 840.67L139.78 840.17L140.82 839.68L141.86 839.21L142.91 838.75L143.95 838.32L145 837.91L146.04 837.53L147.09 837.19L148.13 836.88L149.17 836.62L150.22 836.41L151.26 836.24L152.31 836.12L153.35 836.05L154.4 836.03L155.44 836.06L156.48 836.14L157.53 836.27L158.57 836.45L159.62 836.67L160.66 836.93L161.71 837.23L162.75 837.56L163.79 837.91L164.84 838.28L165.88 838.67L166.93 839.07L167.97 839.46L169.02 839.86L170.06 840.24L171.1 840.6L172.15 840.94L173.19 841.24L174.24 841.5L175.28 841.71L176.33 841.87L177.37 841.97L178.41 842L179.46 841.95L180.5 841.81L181.55 841.59L182.59 841.27L183.64 840.85L184.68 840.31L185.72 839.66L186.77 838.88L187.81 837.97L188.86 836.93L189.9 835.76L190.95 834.43L191.99 832.96L193.03 831.35L194.08 829.58L195.12 827.66L196.17 825.58L197.21 823.37L198.26 821L199.3 818.5L200.34 815.87L201.39 813.11L202.43 810.24L203.48 807.27L204.52 804.22L205.57 801.1L206.61 797.94L207.65 794.74L208.7 791.53L209.74 788.34L210.79 785.18L211.83 782.09L212.88 779.08L213.92 776.19L214.96 773.43L216.01 770.83L217.05 768.42L218.1 766.22L219.14 764.25L220.19 762.52L221.23 761.06L222.27 759.88L223.32 758.99L224.36 758.4L225.41 758.11L226.45 758.13L227.5 758.46L228.54 759.1L229.58 760.03L230.63 761.25L231.67 762.74L232.72 764.49L233.76 766.48L234.81 768.69L235.85 771.09L236.89 773.67L237.94 776.39L238.98 779.24L240.03 782.17L241.07 785.17L242.12 788.21L243.16 791.25L244.2 794.28L245.25 797.25L246.29 800.16L247.34 802.96L248.38 805.64L249.43 808.17L250.47 810.53L251.51 812.7L252.56 814.65L253.6 816.37L254.65 817.84L255.69 819.03L256.74 819.94L257.78 820.54L258.82 820.82L259.87 820.77L260.91 820.37L261.96 819.6L263 818.46L264.05 816.93L265.09 815L266.13 812.67L267.18 809.92L268.22 806.75L269.27 803.17L270.31 799.15L271.36 794.72L272.4 789.87L273.44 784.61L274.49 778.95L275.53 772.92L276.58 766.52L277.62 759.79L278.67 752.76L279.71 745.45L280.75 737.91L281.8 730.18L282.84 722.31L283.89 714.35L284.93 706.36L285.98 698.39L287.02 690.51L288.06 682.78L289.11 675.27L290.15 668.04L291.2 661.14L292.24 654.66L293.29 648.65L294.33 643.16L295.37 638.26L296.42 633.98L297.46 630.38L298.51 627.49L299.55 625.34L300.6 623.95L301.64 623.33L302.68 623.51L303.73 624.46L304.77 626.19L305.82 628.67L306.86 631.88L307.91 635.78L308.95 640.35L309.99 645.52L311.04 651.26L312.08 657.5L313.13 664.19L314.17 671.27L315.22 678.67L316.26 686.33L317.3 694.18L318.35 702.17L319.39 710.23L320.44 718.3L321.48 726.33L322.53 734.27L323.57 742.06L324.61 749.68L325.66 757.07L326.7 764.21L327.75 771.07L328.79 777.62L329.84 783.85L330.88 789.74L331.92 795.28L332.97 800.48L334.01 805.33L335.06 809.83L336.1 813.99L337.15 817.82L338.19 821.32L339.23 824.52L340.28 827.42L341.32 830.05L342.37 832.42L343.41 834.54L344.46 836.43L345.5 838.12L346.54 839.61L347.59 840.93L348.63 842.09L349.68 843.1L350.72 843.99L351.77 844.75L352.81 845.42L353.85 845.99L354.9 846.48L355.94 846.9L356.99 847.26L358.03 847.56L359.08 847.82L360.12 848.03L361.16 848.21L362.21 848.36L363.25 848.49L364.3 848.59L365.34 848.68L366.39 848.75L367.43 848.81L368.47 848.86L369.52 848.9L370.56 848.93L371.61 848.95L372.65 848.97L373.7 848.99L374.74 849L375.78 849.01L376.83 849.02L377.87 849.03L378.92 849.03L379.96 849.04L381.01 849.04L382.05 849.04L383.09 849.04L384.14 849.05L385.18 849.05L386.23 849.05L387.27 849.05L388.32 849.05L389.36 849.05L390.4 849.05L391.45 849.05L392.49 849.05L393.54 849.05L394.58 849.05L395.63 849.05L396.67 849.05L397.71 849.05L398.76 849.05L399.8 849.05L400.85 849.05L401.89 849.05L402.94 849.05L403.98 849.05L405.02 849.05L406.07 849.05L407.11 849.05L408.16 849.05L409.2 849.05L410.25 849.05L411.29 849.05L412.33 849.05L413.38 849.05L414.42 849.05L415.47 849.05L416.51 849.05L417.56 849.05L418.6 849.05L419.64 849.05L420.69 849.05L421.73 849.05L422.78 849.05L423.82 849.05L424.87 849.05L425.91 849.05L426.95 849.05L428 849.05L429.04 849.05L430.09 849.05L431.13 849.05L432.18 849.05L433.22 849.05L434.26 849.05L435.31 849.05L436.35 849.05L437.4 849.05L438.44 849.05L439.49 849.05L440.53 849.05L441.57 849.05L442.62 849.05L443.66 849.05L444.71 849.05L445.75 849.05L446.8 849.05L447.84 849.05L448.88 849.05L449.93 849.05L450.97 849.05L452.02 849.05L453.06 849.05L454.11 849.05L455.15 849.05L456.19 849.05L457.24 849.05L458.28 849.05L459.33 849.05L460.37 849.05L461.42 849.05L462.46 849.05L463.5 849.05L464.55 849.05L465.59 849.05L466.64 849.05L467.68 849.05L468.73 849.05L469.77 849.05L470.81 849.05L471.86 849.05L472.9 849.05L473.95 849.05L474.99 849.05L476.04 849.05L477.08 849.05L478.12 849.05L479.17 849.05L480.21 849.05L481.26 849.05L482.3 849.05L483.35 849.05L484.39 849.05L485.43 849.05L486.48 849.05L487.52 849.05L488.57 849.05L489.61 849.05L490.66 849.05L491.7 849.05L492.74 849.05L493.79 849.05L494.83 849.05L495.88 849.05L496.92 849.05L497.97 849.05L499.01 849.05L500.05 849.05L501.1 849.05L502.14 849.05L503.19 849.05L504.23 849.05L505.28 849.05L506.32 849.05L507.36 849.05L508.41 849.05L509.45 849.05L510.5 849.05L511.54 849.05L512.59 849.05L513.63 849.05L514.67 849.05L515.72 849.05L516.76 849.05L517.81 849.05L518.85 849.05L519.9 849.05L520.94 849.05L521.98 849.05L523.03 849.05L524.07 849.05L525.12 849.05L526.16 849.05L527.21 849.05L528.25 849.05L529.29 849.05L530.34 849.05L531.38 849.05L532.43 849.05L533.47 849.05L534.52 849.05L535.56 849.05L536.6 849.05L537.65 849.05L538.69 849.05L539.74 849.05L540.78 849.05L541.83 849.05L542.87 849.05L543.91 849.05L544.96 849.05L546 849.05L547.05 849.05L548.09 849.05L549.14 849.05L550.18 849.05L551.22 849.05L552.27 849.05L553.31 849.05L554.36 849.05L555.4 849.05L556.45 849.05L557.49 849.05L558.53 849.05L559.58 849.05L560.62 849.05L561.67 849.05L562.71 849.05L563.76 849.05L564.8 849.05L565.84 849.05L566.89 849.05L567.93 849.05L568.98 849.05L570.02 849.05L571.07 849.05L572.11 849.05L573.15 849.05L574.2 849.05L575.24 849.05L576.29 849.05L577.33 849.05L578.38 849.05L579.42 849.05L580.46 849.05L581.51 849.05L582.55 849.05L583.6 849.05L584.64 849.05L585.69 849.05L586.73 849.05L587.77 849.05L588.82 849.05L589.86 849.05L590.91 849.05L591.95 849.05L593 849.05L594.04 849.05L595.08 849.05L596.13 849.05L597.17 849.05L598.22 849.05L599.26 849.05L600.31 849.05L601.35 849.05L602.39 849.05L603.44 849.05L604.48 849.05L605.53 849.05L606.57 849.05L607.62 849.05L608.66 849.05L609.7 849.05L610.75 849.05L611.79 849.05L612.84 849.05L613.88 849.05L614.93 849.05L615.97 849.05L617.01 849.05L618.06 849.05L619.1 849.05L620.15 849.05L621.19 849.05L622.24 849.05L623.28 849.05L624.32 849.05L625.37 849.05L626.41 849.05L627.46 849.05L628.5 849.05L629.55 849.05L630.59 849.05L631.63 849.05L632.68 849.05L633.72 849.05L634.77 849.05L635.81 849.05L636.86 849.05L637.9 849.05L638.94 849.05L639.99 849.05L641.03 849.05L642.08 849.05L643.12 849.05L644.17 849.05L645.21 849.05L646.25 849.05L647.3 849.05L648.34 849.05L649.39 849.05L650.43 849.05L651.48 849.05L652.52 849.05L653.56 849.05L654.61 849.05L655.65 849.05L656.7 849.05L657.74 849.05L658.79 849.05L659.83 849.05L660.87 849.05L661.92 849.05L662.96 849.05L664.01 849.05L665.05 849.05L666.1 849.05L667.14 849.05L668.18 849.05L669.23 849.05L670.27 849.05L671.32 849.05L671.32 849.05L137.69 849.05Z" fill="#F96B6E" fill-opacity="0.4" stroke="none"/>
<path d="M137.69 841.17L138.73 840.67L139.78 840.17L140.82 839.68L141.86 839.21L142.91 838.75L143.95 838.32L145 837.91L146.04 837.53L147.09 837.19L148.13 836.88L149.17 836.62L150.22 836.41L151.26 836.24L152.31 836.12L153.35 836.05L154.4 836.03L155.44 836.06L156.48 836.14L157.53 836.27L158.57 836.45L159.62 836.67L160.66 836.93L161.71 837.23L162.75 837.56L163.79 837.91L164.84 838.28L165.88 838.67L166.93 839.07L167.97 839.46L169.02 839.86L170.06 840.24L171.1 840.6L172.15 840.94L173.19 841.24L174.24 841.5L175.28 841.71L176.33 841.87L177.37 841.97L178.41 842L179.46 841.95L180.5 841.81L181.55 841.59L182.59 841.27L183.64 840.85L184.68 840.31L185.72 839.66L186.77 838.88L187.81 837.97L188.86 836.93L189.9 835.76L190.95 834.43L191.99 832.96L193.03 831.35L194.08 829.58L195.12 827.66L196.17 825.58L197.21 823.37L198.26 821L199.3 818.5L200.34 815.87L201.39 813.11L202.43 810.24L203.48 807.27L204.52 804.22L205.57 801.1L206.61 797.94L207.65 794.74L208.7 791.53L209.74 788.34L210.79 785.18L211.83 782.09L212.88 779.08L213.92 776.19L214.96 773.43L216.01 770.83L217.05 768.42L218.1 766.22L219.14 764.25L220.19 762.52L221.23 761.06L222.27 759.88L223.32 758.99L224.36 758.4L225.41 758.11L226.45 758.13L227.5 758.46L228.54 759.1L229.58 760.03L230.63 761.25L231.67 762.74L232.72 764.49L233.76 766.48L234.81 768.69L235.85 771.09L236.89 773.67L237.94 776.39L238.98 779.24L240.03 782.17L241.07 785.17L242.12 788.21L243.16 791.25L244.2 794.28L245.25 797.25L246.29 800.16L247.34 802.96L248.38 805.64L249.43 808.17L250.47 810.53L251.51 812.7L252.56 814.65L253.6 816.37L254.65 817.84L255.69 819.03L256.74 819.94L257.78 820.54L258.82 820.82L259.87 820.77L260.91 820.37L261.96 819.6L263 818.46L264.05 816.93L265.09 815L266.13 812.67L267.18 809.92L268.22 806.75L269.27 803.17L270.31 799.15L271.36 794.72L272.4 789.87L273.44 784.61L274.49 778.95L275.53 772.92L276.58 766.52L277.62 759.79L278.67 752.76L279.71 745.45L280.75 737.91L281.8 730.18L282.84 722.31L283.89 714.35L284.93 706.36L285.98 698.39L287.02 690.51L288.06 682.78L289.11 675.27L290.15 668.04L291.2 661.14L292.24 654.66L293.29 648.65L294.33 643.16L295.37 638.26L296.42 633.98L297.46 630.38L298.51 627.49L299.55 625.34L300.6 623.95L301.64 623.33L302.68 623.51L303.73 624.46L304.77 626.19L305.82 628.67L306.86 631.88L307.91 635.78L308.95 640.35L309.99 645.52L311.04 651.26L312.08 657.5L313.13 664.19L314.17 671.27L315.22 678.67L316.26 686.33L317.3 694.18L318.35 702.17L319.39 710.23L320.44 718.3L321.48 726.33L322.53 734.27L323.57 742.06L324.61 749.68L325.66 757.07L326.7 764.21L327.75 771.07L328.79 777.62L329.84 783.85L330.88 789.74L331.92 795.28L332.97 800.48L334.01 805.33L335.06 809.83L336.1 813.99L337.15 817.82L338.19 821.32L339.23 824.52L340.28 827.42L341.32 830.05L342.37 832.42L343.41 834.54L344.46 836.43L345.5 838.12L346.54 839.61L347.59 840.93L348.63 842.09L349.68 843.1L350.72 843.99L351.77 844.75L352.81 845.42L353.85 845.99L354.9 846.48L355.94 846.9L356.99 847.26L358.03 847.56L359.08 847.82L360.12 848.03L361.16 848.21L362.21 848.36L363.25 848.49L364.3 848.59L365.34 848.68L366.39 848.75L367.43 848.81L368.47 848.86L369.52 848.9L370.56 848.93L371.61 848.95L372.65 848.97L373.7 848.99L374.74 849L375.78 849.01L376.83 849.02L377.87 849.03L378.92 849.03L379.96 849.04L381.01 849.04L382.05 849.04L383.09 849.04L384.14 849.05L385.18 849.05L386.23 849.05L387.27 849.05L388.32 849.05L389.36 849.05L390.4 849.05L391.45 849.05L392.49 849.05L393.54 849.05L394.58 849.05L395.63 849.05L396.67 849.05L397.71 849.05L398.76 849.05L399.8 849.05L400.85 849.05L401.89 849.05L402.94 849.05L403.98 849.05L405.02 849.05L406.07 849.05L407.11 849.05L408.16 849.05L409.2 849.05L410.25 849.05L411.29 849.05L412.33 849.05L413.38 849.05L414.42 849.05L415.47 849.05L416.51 849.05L417.56 849.05L418.6 849.05L419.64 849.05L420.69 849.05L421.73 849.05L422.78 849.05L423.82 849.05L424.87 849.05L425.91 849.05L426.95 849.05L428 849.05L429.04 849.05L430.09 849.05L431.13 849.05L432.18 849.05L433.22 849.05L434.26 849.05L435.31 849.05L436.35 849.05L437.4 849.05L438.44 849.05L439.49 849.05L440.53 849.05L441.57 849.05L442.62 849.05L443.66 849.05L444.71 849.05L445.75 849.05L446.8 849.05L447.84 849.05L448.88 849.05L449.93 849.05L450.97 849.05L452.02 849.05L453.06 849.05L454.11 849.05L455.15 849.05L456.19 849.05L457.24 849.05L458.28 849.05L459.33 849.05L460.37 849.05L461.42 849.05L462.46 849.05L463.5 849.05L464.55 849.05L465.59 849.05L466.64 849.05L467.68 849.05L468.73 849.05L469.77 849.05L470.81 849.05L471.86 849.05L472.9 849.05L473.95 849.05L474.99 849.05L476.04 849.05L477.08 849.05L478.12 849.05L479.17 849.05L480.21 849.05L481.26 849.05L482.3 849.05L483.35 849.05L484.39 849.05L485.43 849.05L486.48 849.05L487.52 849.05L488.57 849.05L489.61 849.05L490.66 849.05L491.7 849.05L492.74 849.05L493.79 849.05L494.83 849.05L495.88 849.05L496.92 849.05L497.97 849.05L499.01 849.05L500.05 849.05L501.1 849.05L502.14 849.05L503.19 849.05L504.23 849.05L505.28 849.05L506.32 849.05L507.36 849.05L508.41 849.05L509.45 849.05L510.5 849.05L511.54 849.05L512.59 849.05L513.63 849.05L514.67 849.05L515.72 849.05L516.76 849.05L517.81 849.05L518.85 849.05L519.9 849.05L520.94 849.05L521.98 849.05L523.03 849.05L524.07 849.05L525.12 849.05L526.16 849.05L527.21 849.05L528.25 849.05L529.29 849.05L530.34 849.05L531.38 849.05L532.43 849.05L533.47 849.05L534.52 849.05L535.56 849.05L536.6 849.05L537.65 849.05L538.69 849.05L539.74 849.05L540.78 849.05L541.83 849.05L542.87 849.05L543.91 849.05L544.96 849.05L546 849.05L547.05 849.05L548.09 849.05L549.14 849.05L550.18 849.05L551.22 849.05L552.27 849.05L553.31 849.05L554.36 849.05L555.4 849.05L556.45 849.05L557.49 849.05L558.53 849.05L559.58 849.05L560.62 849.05L561.67 849.05L562.71 849.05L563.76 849.05L564.8 849.05L565.84 849.05L566.89 849.05L567.93 849.05L568.98 849.05L570.02 849.05L571.07 849.05L572.11 849.05L573.15 849.05L574.2 849.05L575.24 849.05L576.29 849.05L577.33 849.05L578.38 849.05L579.42 849.05L580.46 849.05L581.51 849.05L582.55 849.05L583.6 849.05L584.64 849.05L585.69 849.05L586.73 849.05L587.77 849.05L588.82 849.05L589.86 849.05L590.91 849.05L591.95 849.05L593 849.05L594.04 849.05L595.08 849.05L596.13 849.05L597.17 849.05L598.22 849.05L599.26 849.05L600.31 849.05L601.35 849.05L602.39 849.05L603.44 849.05L604.48 849.05L605.53 849.05L606.57 849.05L607.62 849.05L608.66 849.05L609.7 849.05L610.75 849.05L611.79 849.05L612.84 849.05L613.88 849.05L614.93 849.05L615.97 849.05L617.01 849.05L618.06 849.05L619.1 849.05L620.15 849.05L621.19 849.05L622.24 849.05L623.28 849.05L624.32 849.05L625.37 849.05L626.41 849.05L627.46 849.05L628.5 849.05L629.55 849.05L630.59 849.05L631.63 849.05L632.68 849.05L633.72 849.05L634.77 849.05L635.81 849.05L636.86 849.05L637.9 849.05L638.94 849.05L639.99 849.05L641.03 849.05L642.08 849.05L643.12 849.05L644.17 849.05L645.21 849.05L646.25 849.05L647.3 849.05L648.34 849.05L649.39 849.05L650.43 849.05L651.48 849.05L652.52 849.05L653.56 849.05L654.61 849.05L655.65 849.05L656.7 849.05L657.74 849.05L658.79 849.05L659.83 849.05L660.87 849.05L661.92 849.05L662.96 849.05L664.01 849.05L665.05 849.05L666.1 849.05L667.14 849.05L668.18 849.05L669.23 849.05L670.27 849.05L671.32 849.05" fill="none" stroke="#000" stroke-width="3.3" stroke-linejoin="round" stroke-linecap="butt"/>
</g>
<rect x="698.9" y="612" width="55" height="247.8" fill="#D9D9D9"/>
<text transform="translate(726.4 735.9) rotate(90)" x="0" y="11.17" text-anchor="middle" font-size="31.2" fill="#1A1A1A">1</text>
<text x="95.2" y="860.52" text-anchor="end" font-size="31.2" fill="#4D4D4D">0</text>
<text x="95.2" y="779.32" text-anchor="end" font-size="31.2" fill="#4D4D4D">10</text>
<text x="95.2" y="698.12" text-anchor="end" font-size="31.2" fill="#4D4D4D">20</text>
<path d="M102.2 849.05H111M102.2 767.85H111M102.2 686.65H111" stroke="#333333" stroke-width="3.4" fill="none"/>
</g>
<g>
<rect x="111" y="878.1" width="587.9" height="247.6" fill="#EBEBEB"/>
<g clip-path="url(#cp03)">
<path d="M111 1086.13H698.9M111 1027.79H698.9M111 969.45H698.9M111 911.11H698.9M226.2 878.1V1125.7M408.7 878.1V1125.7M591.2 878.1V1125.7" stroke="#fff" stroke-width="1.7" fill="none"/>
<path d="M111 1115.3H698.9M111 1056.96H698.9M111 998.62H698.9M111 940.28H698.9M111 881.94H698.9M134.95 878.1V1125.7M317.45 878.1V1125.7M499.95 878.1V1125.7M682.45 878.1V1125.7" stroke="#fff" stroke-width="3.4" fill="none"/>
<path d="M137.69 1100.27L138.73 1100.46L139.78 1100.74L140.82 1101.09L141.86 1101.52L142.91 1102.01L143.95 1102.56L145 1103.16L146.04 1103.8L147.09 1104.46L148.13 1105.15L149.17 1105.85L150.22 1106.55L151.26 1107.25L152.31 1107.93L153.35 1108.59L154.4 1109.24L155.44 1109.85L156.48 1110.42L157.53 1110.97L158.57 1111.47L159.62 1111.94L160.66 1112.36L161.71 1112.75L162.75 1113.1L163.79 1113.41L164.84 1113.69L165.88 1113.93L166.93 1114.14L167.97 1114.33L169.02 1114.49L170.06 1114.62L171.1 1114.74L172.15 1114.84L173.19 1114.91L174.24 1114.98L175.28 1115.02L176.33 1115.06L177.37 1115.08L178.41 1115.09L179.46 1115.08L180.5 1115.06L181.55 1115.02L182.59 1114.96L183.64 1114.88L184.68 1114.77L185.72 1114.62L186.77 1114.44L187.81 1114.2L188.86 1113.91L189.9 1113.55L190.95 1113.11L191.99 1112.57L193.03 1111.93L194.08 1111.16L195.12 1110.24L196.17 1109.16L197.21 1107.9L198.26 1106.45L199.3 1104.77L200.34 1102.87L201.39 1100.71L202.43 1098.3L203.48 1095.62L204.52 1092.67L205.57 1089.45L206.61 1085.96L207.65 1082.23L208.7 1078.28L209.74 1074.12L210.79 1069.8L211.83 1065.37L212.88 1060.86L213.92 1056.34L214.96 1051.87L216.01 1047.5L217.05 1043.32L218.1 1039.37L219.14 1035.74L220.19 1032.46L221.23 1029.61L222.27 1027.22L223.32 1025.34L224.36 1023.98L225.41 1023.15L226.45 1022.87L227.5 1023.1L228.54 1023.81L229.58 1024.97L230.63 1026.5L231.67 1028.35L232.72 1030.42L233.76 1032.62L234.81 1034.85L235.85 1037.01L236.89 1038.98L237.94 1040.65L238.98 1041.92L240.03 1042.69L241.07 1042.86L242.12 1042.34L243.16 1041.06L244.2 1038.97L245.25 1036.01L246.29 1032.16L247.34 1027.42L248.38 1021.8L249.43 1015.34L250.47 1008.08L251.51 1000.12L252.56 991.53L253.6 982.45L254.65 972.99L255.69 963.32L256.74 953.58L257.78 943.95L258.82 934.6L259.87 925.7L260.91 917.42L261.96 909.93L263 903.37L264.05 897.88L265.09 893.58L266.13 890.56L267.18 888.89L268.22 888.61L269.27 889.72L270.31 892.23L271.36 896.08L272.4 901.21L273.44 907.52L274.49 914.92L275.53 923.26L276.58 932.41L277.62 942.22L278.67 952.53L279.71 963.19L280.75 974.05L281.8 984.96L282.84 995.78L283.89 1006.39L284.93 1016.69L285.98 1026.57L287.02 1035.97L288.06 1044.81L289.11 1053.07L290.15 1060.7L291.2 1067.7L292.24 1074.07L293.29 1079.8L294.33 1084.93L295.37 1089.49L296.42 1093.5L297.46 1097L298.51 1100.03L299.55 1102.65L300.6 1104.88L301.64 1106.77L302.68 1108.36L303.73 1109.69L304.77 1110.8L305.82 1111.71L306.86 1112.45L307.91 1113.05L308.95 1113.54L309.99 1113.93L311.04 1114.24L312.08 1114.49L313.13 1114.68L314.17 1114.83L315.22 1114.95L316.26 1115.03L317.3 1115.1L318.35 1115.15L319.39 1115.19L320.44 1115.22L321.48 1115.24L322.53 1115.26L323.57 1115.27L324.61 1115.28L325.66 1115.29L326.7 1115.29L327.75 1115.29L328.79 1115.29L329.84 1115.3L330.88 1115.3L331.92 1115.3L332.97 1115.3L334.01 1115.3L335.06 1115.3L336.1 1115.3L337.15 1115.3L338.19 1115.3L339.23 1115.3L340.28 1115.3L341.32 1115.3L342.37 1115.3L343.41 1115.3L344.46 1115.3L345.5 1115.3L346.54 1115.3L347.59 1115.3L348.63 1115.3L349.68 1115.3L350.72 1115.3L351.77 1115.3L352.81 1115.3L353.85 1115.3L354.9 1115.3L355.94 1115.3L356.99 1115.3L358.03 1115.3L359.08 1115.3L360.12 1115.3L361.16 1115.3L362.21 1115.3L363.25 1115.3L364.3 1115.3L365.34 1115.3L366.39 1115.3L367.43 1115.3L368.47 1115.3L369.52 1115.3L370.56 1115.3L371.61 1115.3L372.65 1115.3L373.7 1115.3L374.74 1115.3L375.78 1115.3L376.83 1115.3L377.87 1115.3L378.92 1115.3L379.96 1115.3L381.01 1115.3L382.05 1115.3L383.09 1115.3L384.14 1115.3L385.18 1115.3L386.23 1115.3L387.27 1115.3L388.32 1115.3L389.36 1115.3L390.4 1115.3L391.45 1115.3L392.49 1115.3L393.54 1115.3L394.58 1115.3L395.63 1115.3L396.67 1115.3L397.71 1115.3L398.76 1115.3L399.8 1115.3L400.85 1115.3L401.89 1115.3L402.94 1115.3L403.98 1115.3L405.02 1115.3L406.07 1115.3L407.11 1115.3L408.16 1115.3L409.2 1115.3L410.25 1115.3L411.29 1115.3L412.33 1115.3L413.38 1115.3L414.42 1115.3L415.47 1115.3L416.51 1115.3L417.56 1115.3L418.6 1115.3L419.64 1115.3L420.69 1115.3L421.73 1115.3L422.78 1115.3L423.82 1115.3L424.87 1115.3L425.91 1115.3L426.95 1115.3L428 1115.3L429.04 1115.3L430.09 1115.3L431.13 1115.3L432.18 1115.3L433.22 1115.3L434.26 1115.3L435.31 1115.3L436.35 1115.3L437.4 1115.3L438.44 1115.3L439.49 1115.3L440.53 1115.3L441.57 1115.3L442.62 1115.3L443.66 1115.3L444.71 1115.3L445.75 1115.3L446.8 1115.3L447.84 1115.3L448.88 1115.3L449.93 1115.3L450.97 1115.3L452.02 1115.3L453.06 1115.3L454.11 1115.3L455.15 1115.3L456.19 1115.3L457.24 1115.3L458.28 1115.3L459.33 1115.3L460.37 1115.3L461.42 1115.3L462.46 1115.3L463.5 1115.3L464.55 1115.3L465.59 1115.3L466.64 1115.3L467.68 1115.3L468.73 1115.3L469.77 1115.3L470.81 1115.3L471.86 1115.3L472.9 1115.3L473.95 1115.3L474.99 1115.3L476.04 1115.3L477.08 1115.3L478.12 1115.3L479.17 1115.3L480.21 1115.3L481.26 1115.3L482.3 1115.3L483.35 1115.3L484.39 1115.3L485.43 1115.3L486.48 1115.3L487.52 1115.3L488.57 1115.3L489.61 1115.3L490.66 1115.3L491.7 1115.3L492.74 1115.3L493.79 1115.3L494.83 1115.3L495.88 1115.3L496.92 1115.3L497.97 1115.3L499.01 1115.3L500.05 1115.3L501.1 1115.3L502.14 1115.3L503.19 1115.3L504.23 1115.3L505.28 1115.3L506.32 1115.3L507.36 1115.3L508.41 1115.3L509.45 1115.3L510.5 1115.3L511.54 1115.3L512.59 1115.3L513.63 1115.3L514.67 1115.3L515.72 1115.3L516.76 1115.3L517.81 1115.3L518.85 1115.3L519.9 1115.3L520.94 1115.3L521.98 1115.3L523.03 1115.3L524.07 1115.3L525.12 1115.3L526.16 1115.3L527.21 1115.3L528.25 1115.3L529.29 1115.3L530.34 1115.3L531.38 1115.3L532.43 1115.3L533.47 1115.3L534.52 1115.3L535.56 1115.3L536.6 1115.3L537.65 1115.3L538.69 1115.3L539.74 1115.3L540.78 1115.3L541.83 1115.3L542.87 1115.3L543.91 1115.3L544.96 1115.3L546 1115.3L547.05 1115.3L548.09 1115.3L549.14 1115.3L550.18 1115.3L551.22 1115.3L552.27 1115.3L553.31 1115.3L554.36 1115.3L555.4 1115.3L556.45 1115.3L557.49 1115.3L558.53 1115.3L559.58 1115.3L560.62 1115.3L561.67 1115.3L562.71 1115.3L563.76 1115.3L564.8 1115.3L565.84 1115.3L566.89 1115.3L567.93 1115.3L568.98 1115.3L570.02 1115.3L571.07 1115.3L572.11 1115.3L573.15 1115.3L574.2 1115.3L575.24 1115.3L576.29 1115.3L577.33 1115.3L578.38 1115.3L579.42 1115.3L580.46 1115.3L581.51 1115.3L582.55 1115.3L583.6 1115.3L584.64 1115.3L585.69 1115.3L586.73 1115.3L587.77 1115.3L588.82 1115.3L589.86 1115.3L590.91 1115.3L591.95 1115.3L593 1115.3L594.04 1115.3L595.08 1115.3L596.13 1115.3L597.17 1115.3L598.22 1115.3L599.26 1115.3L600.31 1115.3L601.35 1115.3L602.39 1115.3L603.44 1115.3L604.48 1115.3L605.53 1115.3L606.57 1115.3L607.62 1115.3L608.66 1115.3L609.7 1115.3L610.75 1115.3L611.79 1115.3L612.84 1115.3L613.88 1115.3L614.93 1115.3L615.97 1115.3L617.01 1115.3L618.06 1115.3L619.1 1115.3L620.15 1115.3L621.19 1115.3L622.24 1115.3L623.28 1115.3L624.32 1115.3L625.37 1115.3L626.41 1115.3L627.46 1115.3L628.5 1115.3L629.55 1115.3L630.59 1115.3L631.63 1115.3L632.68 1115.3L633.72 1115.3L634.77 1115.3L635.81 1115.3L636.86 1115.3L637.9 1115.3L638.94 1115.3L639.99 1115.3L641.03 1115.3L642.08 1115.3L643.12 1115.3L644.17 1115.3L645.21 1115.3L646.25 1115.3L647.3 1115.3L648.34 1115.3L649.39 1115.3L650.43 1115.3L651.48 1115.3L652.52 1115.3L653.56 1115.3L654.61 1115.3L655.65 1115.3L656.7 1115.3L657.74 1115.3L658.79 1115.3L659.83 1115.3L660.87 1115.3L661.92 1115.3L662.96 1115.3L664.01 1115.3L665.05 1115.3L666.1 1115.3L667.14 1115.3L668.18 1115.3L669.23 1115.3L670.27 1115.3L671.32 1115.3L671.32 1115.3L137.69 1115.3Z" fill="#F96B6E" fill-opacity="0.4" stroke="none"/>
<path d="M137.69 1100.27L138.73 1100.46L139.78 1100.74L140.82 1101.09L141.86 1101.52L142.91 1102.01L143.95 1102.56L145 1103.16L146.04 1103.8L147.09 1104.46L148.13 1105.15L149.17 1105.85L150.22 1106.55L151.26 1107.25L152.31 1107.93L153.35 1108.59L154.4 1109.24L155.44 1109.85L156.48 1110.42L157.53 1110.97L158.57 1111.47L159.62 1111.94L160.66 1112.36L161.71 1112.75L162.75 1113.1L163.79 1113.41L164.84 1113.69L165.88 1113.93L166.93 1114.14L167.97 1114.33L169.02 1114.49L170.06 1114.62L171.1 1114.74L172.15 1114.84L173.19 1114.91L174.24 1114.98L175.28 1115.02L176.33 1115.06L177.37 1115.08L178.41 1115.09L179.46 1115.08L180.5 1115.06L181.55 1115.02L182.59 1114.96L183.64 1114.88L184.68 1114.77L185.72 1114.62L186.77 1114.44L187.81 1114.2L188.86 1113.91L189.9 1113.55L190.95 1113.11L191.99 1112.57L193.03 1111.93L194.08 1111.16L195.12 1110.24L196.17 1109.16L197.21 1107.9L198.26 1106.45L199.3 1104.77L200.34 1102.87L201.39 1100.71L202.43 1098.3L203.48 1095.62L204.52 1092.67L205.57 1089.45L206.61 1085.96L207.65 1082.23L208.7 1078.28L209.74 1074.12L210.79 1069.8L211.83 1065.37L212.88 1060.86L213.92 1056.34L214.96 1051.87L216.01 1047.5L217.05 1043.32L218.1 1039.37L219.14 1035.74L220.19 1032.46L221.23 1029.61L222.27 1027.22L223.32 1025.34L224.36 1023.98L225.41 1023.15L226.45 1022.87L227.5 1023.1L228.54 1023.81L229.58 1024.97L230.63 1026.5L231.67 1028.35L232.72 1030.42L233.76 1032.62L234.81 1034.85L235.85 1037.01L236.89 1038.98L237.94 1040.65L238.98 1041.92L240.03 1042.69L241.07 1042.86L242.12 1042.34L243.16 1041.06L244.2 1038.97L245.25 1036.01L246.29 1032.16L247.34 1027.42L248.38 1021.8L249.43 1015.34L250.47 1008.08L251.51 1000.12L252.56 991.53L253.6 982.45L254.65 972.99L255.69 963.32L256.74 953.58L257.78 943.95L258.82 934.6L259.87 925.7L260.91 917.42L261.96 909.93L263 903.37L264.05 897.88L265.09 893.58L266.13 890.56L267.18 888.89L268.22 888.61L269.27 889.72L270.31 892.23L271.36 896.08L272.4 901.21L273.44 907.52L274.49 914.92L275.53 923.26L276.58 932.41L277.62 942.22L278.67 952.53L279.71 963.19L280.75 974.05L281.8 984.96L282.84 995.78L283.89 1006.39L284.93 1016.69L285.98 1026.57L287.02 1035.97L288.06 1044.81L289.11 1053.07L290.15 1060.7L291.2 1067.7L292.24 1074.07L293.29 1079.8L294.33 1084.93L295.37 1089.49L296.42 1093.5L297.46 1097L298.51 1100.03L299.55 1102.65L300.6 1104.88L301.64 1106.77L302.68 1108.36L303.73 1109.69L304.77 1110.8L305.82 1111.71L306.86 1112.45L307.91 1113.05L308.95 1113.54L309.99 1113.93L311.04 1114.24L312.08 1114.49L313.13 1114.68L314.17 1114.83L315.22 1114.95L316.26 1115.03L317.3 1115.1L318.35 1115.15L319.39 1115.19L320.44 1115.22L321.48 1115.24L322.53 1115.26L323.57 1115.27L324.61 1115.28L325.66 1115.29L326.7 1115.29L327.75 1115.29L328.79 1115.29L329.84 1115.3L330.88 1115.3L331.92 1115.3L332.97 1115.3L334.01 1115.3L335.06 1115.3L336.1 1115.3L337.15 1115.3L338.19 1115.3L339.23 1115.3L340.28 1115.3L341.32 1115.3L342.37 1115.3L343.41 1115.3L344.46 1115.3L345.5 1115.3L346.54 1115.3L347.59 1115.3L348.63 1115.3L349.68 1115.3L350.72 1115.3L351.77 1115.3L352.81 1115.3L353.85 1115.3L354.9 1115.3L355.94 1115.3L356.99 1115.3L358.03 1115.3L359.08 1115.3L360.12 1115.3L361.16 1115.3L362.21 1115.3L363.25 1115.3L364.3 1115.3L365.34 1115.3L366.39 1115.3L367.43 1115.3L368.47 1115.3L369.52 1115.3L370.56 1115.3L371.61 1115.3L372.65 1115.3L373.7 1115.3L374.74 1115.3L375.78 1115.3L376.83 1115.3L377.87 1115.3L378.92 1115.3L379.96 1115.3L381.01 1115.3L382.05 1115.3L383.09 1115.3L384.14 1115.3L385.18 1115.3L386.23 1115.3L387.27 1115.3L388.32 1115.3L389.36 1115.3L390.4 1115.3L391.45 1115.3L392.49 1115.3L393.54 1115.3L394.58 1115.3L395.63 1115.3L396.67 1115.3L397.71 1115.3L398.76 1115.3L399.8 1115.3L400.85 1115.3L401.89 1115.3L402.94 1115.3L403.98 1115.3L405.02 1115.3L406.07 1115.3L407.11 1115.3L408.16 1115.3L409.2 1115.3L410.25 1115.3L411.29 1115.3L412.33 1115.3L413.38 1115.3L414.42 1115.3L415.47 1115.3L416.51 1115.3L417.56 1115.3L418.6 1115.3L419.64 1115.3L420.69 1115.3L421.73 1115.3L422.78 1115.3L423.82 1115.3L424.87 1115.3L425.91 1115.3L426.95 1115.3L428 1115.3L429.04 1115.3L430.09 1115.3L431.13 1115.3L432.18 1115.3L433.22 1115.3L434.26 1115.3L435.31 1115.3L436.35 1115.3L437.4 1115.3L438.44 1115.3L439.49 1115.3L440.53 1115.3L441.57 1115.3L442.62 1115.3L443.66 1115.3L444.71 1115.3L445.75 1115.3L446.8 1115.3L447.84 1115.3L448.88 1115.3L449.93 1115.3L450.97 1115.3L452.02 1115.3L453.06 1115.3L454.11 1115.3L455.15 1115.3L456.19 1115.3L457.24 1115.3L458.28 1115.3L459.33 1115.3L460.37 1115.3L461.42 1115.3L462.46 1115.3L463.5 1115.3L464.55 1115.3L465.59 1115.3L466.64 1115.3L467.68 1115.3L468.73 1115.3L469.77 1115.3L470.81 1115.3L471.86 1115.3L472.9 1115.3L473.95 1115.3L474.99 1115.3L476.04 1115.3L477.08 1115.3L478.12 1115.3L479.17 1115.3L480.21 1115.3L481.26 1115.3L482.3 1115.3L483.35 1115.3L484.39 1115.3L485.43 1115.3L486.48 1115.3L487.52 1115.3L488.57 1115.3L489.61 1115.3L490.66 1115.3L491.7 1115.3L492.74 1115.3L493.79 1115.3L494.83 1115.3L495.88 1115.3L496.92 1115.3L497.97 1115.3L499.01 1115.3L500.05 1115.3L501.1 1115.3L502.14 1115.3L503.19 1115.3L504.23 1115.3L505.28 1115.3L506.32 1115.3L507.36 1115.3L508.41 1115.3L509.45 1115.3L510.5 1115.3L511.54 1115.3L512.59 1115.3L513.63 1115.3L514.67 1115.3L515.72 1115.3L516.76 1115.3L517.81 1115.3L518.85 1115.3L519.9 1115.3L520.94 1115.3L521.98 1115.3L523.03 1115.3L524.07 1115.3L525.12 1115.3L526.16 1115.3L527.21 1115.3L528.25 1115.3L529.29 1115.3L530.34 1115.3L531.38 1115.3L532.43 1115.3L533.47 1115.3L534.52 1115.3L535.56 1115.3L536.6 1115.3L537.65 1115.3L538.69 1115.3L539.74 1115.3L540.78 1115.3L541.83 1115.3L542.87 1115.3L543.91 1115.3L544.96 1115.3L546 1115.3L547.05 1115.3L548.09 1115.3L549.14 1115.3L550.18 1115.3L551.22 1115.3L552.27 1115.3L553.31 1115.3L554.36 1115.3L555.4 1115.3L556.45 1115.3L557.49 1115.3L558.53 1115.3L559.58 1115.3L560.62 1115.3L561.67 1115.3L562.71 1115.3L563.76 1115.3L564.8 1115.3L565.84 1115.3L566.89 1115.3L567.93 1115.3L568.98 1115.3L570.02 1115.3L571.07 1115.3L572.11 1115.3L573.15 1115.3L574.2 1115.3L575.24 1115.3L576.29 1115.3L577.33 1115.3L578.38 1115.3L579.42 1115.3L580.46 1115.3L581.51 1115.3L582.55 1115.3L583.6 1115.3L584.64 1115.3L585.69 1115.3L586.73 1115.3L587.77 1115.3L588.82 1115.3L589.86 1115.3L590.91 1115.3L591.95 1115.3L593 1115.3L594.04 1115.3L595.08 1115.3L596.13 1115.3L597.17 1115.3L598.22 1115.3L599.26 1115.3L600.31 1115.3L601.35 1115.3L602.39 1115.3L603.44 1115.3L604.48 1115.3L605.53 1115.3L606.57 1115.3L607.62 1115.3L608.66 1115.3L609.7 1115.3L610.75 1115.3L611.79 1115.3L612.84 1115.3L613.88 1115.3L614.93 1115.3L615.97 1115.3L617.01 1115.3L618.06 1115.3L619.1 1115.3L620.15 1115.3L621.19 1115.3L622.24 1115.3L623.28 1115.3L624.32 1115.3L625.37 1115.3L626.41 1115.3L627.46 1115.3L628.5 1115.3L629.55 1115.3L630.59 1115.3L631.63 1115.3L632.68 1115.3L633.72 1115.3L634.77 1115.3L635.81 1115.3L636.86 1115.3L637.9 1115.3L638.94 1115.3L639.99 1115.3L641.03 1115.3L642.08 1115.3L643.12 1115.3L644.17 1115.3L645.21 1115.3L646.25 1115.3L647.3 1115.3L648.34 1115.3L649.39 1115.3L650.43 1115.3L651.48 1115.3L652.52 1115.3L653.56 1115.3L654.61 1115.3L655.65 1115.3L656.7 1115.3L657.74 1115.3L658.79 1115.3L659.83 1115.3L660.87 1115.3L661.92 1115.3L662.96 1115.3L664.01 1115.3L665.05 1115.3L666.1 1115.3L667.14 1115.3L668.18 1115.3L669.23 1115.3L670.27 1115.3L671.32 1115.3" fill="none" stroke="#000" stroke-width="3.3" stroke-linejoin="round" stroke-linecap="butt"/>
</g>
<rect x="698.9" y="878.1" width="55" height="247.6" fill="#D9D9D9"/>
<text transform="translate(726.4 1001.9) rotate(90)" x="0" y="11.17" text-anchor="middle" font-size="31.2" fill="#1A1A1A">2</text>
<text x="95.2" y="1126.77" text-anchor="end" font-size="31.2" fill="#4D4D4D">0</text>
<text x="95.2" y="1068.43" text-anchor="end" font-size="31.2" fill="#4D4D4D">10</text>
<text x="95.2" y="1010.09" text-anchor="end" font-size="31.2" fill="#4D4D4D">20</text>
<text x="95.2" y="951.75" text-anchor="end" font-size="31.2" fill="#4D4D4D">30</text>
<text x="95.2" y="893.41" text-anchor="end" font-size="31.2" fill="#4D4D4D">40</text>
<path d="M102.2 1115.3H111M102.2 1056.96H111M102.2 998.62H111M102.2 940.28H111M102.2 881.94H111" stroke="#333333" stroke-width="3.4" fill="none"/>
</g>
<g>
<rect x="111" y="1144.2" width="587.9" height="248.6" fill="#EBEBEB"/>
<g clip-path="url(#cp04)">
<path d="M111 1358.1H698.9M111 1311.1H698.9M111 1264.1H698.9M111 1217.1H698.9M111 1170.1H698.9M226.2 1144.2V1392.8M408.7 1144.2V1392.8M591.2 1144.2V1392.8" stroke="#fff" stroke-width="1.7" fill="none"/>
<path d="M111 1381.6H698.9M111 1334.6H698.9M111 1287.6H698.9M111 1240.6H698.9M111 1193.6H698.9M111 1146.6H698.9M134.95 1144.2V1392.8M317.45 1144.2V1392.8M499.95 1144.2V1392.8M682.45 1144.2V1392.8" stroke="#fff" stroke-width="3.4" fill="none"/>
<path d="M137.69 1381.6L138.73 1381.6L139.78 1381.6L140.82 1381.6L141.86 1381.59L142.91 1381.59L143.95 1381.58L145 1381.57L146.04 1381.56L147.09 1381.54L148.13 1381.51L149.17 1381.47L150.22 1381.41L151.26 1381.33L152.31 1381.21L153.35 1381.05L154.4 1380.82L155.44 1380.52L156.48 1380.12L157.53 1379.59L158.57 1378.89L159.62 1377.98L160.66 1376.82L161.71 1375.34L162.75 1373.49L163.79 1371.19L164.84 1368.36L165.88 1364.93L166.93 1360.82L167.97 1355.95L169.02 1350.23L170.06 1343.62L171.1 1336.06L172.15 1327.52L173.19 1318L174.24 1307.53L175.28 1296.17L176.33 1284.03L177.37 1271.23L178.41 1257.97L179.46 1244.46L180.5 1230.95L181.55 1217.7L182.59 1205.02L183.64 1193.19L184.68 1182.53L185.72 1173.29L186.77 1165.74L187.81 1160.08L188.86 1156.46L189.9 1155.01L190.95 1155.75L191.99 1158.66L193.03 1163.66L194.08 1170.6L195.12 1179.29L196.17 1189.49L197.21 1200.93L198.26 1213.31L199.3 1226.33L200.34 1239.7L201.39 1253.14L202.43 1266.37L203.48 1279.17L204.52 1291.35L205.57 1302.74L206.61 1313.21L207.65 1322.69L208.7 1331.12L209.74 1338.47L210.79 1344.74L211.83 1349.96L212.88 1354.15L213.92 1357.36L214.96 1359.63L216.01 1361.01L217.05 1361.54L218.1 1361.26L219.14 1360.23L220.19 1358.47L221.23 1356.02L222.27 1352.94L223.32 1349.27L224.36 1345.07L225.41 1340.4L226.45 1335.34L227.5 1329.99L228.54 1324.46L229.58 1318.86L230.63 1313.33L231.67 1308L232.72 1303.01L233.76 1298.5L234.81 1294.58L235.85 1291.38L236.89 1288.98L237.94 1287.45L238.98 1286.82L240.03 1287.12L241.07 1288.31L242.12 1290.35L243.16 1293.17L244.2 1296.67L245.25 1300.74L246.29 1305.25L247.34 1310.09L248.38 1315.12L249.43 1320.24L250.47 1325.32L251.51 1330.27L252.56 1335.03L253.6 1339.52L254.65 1343.71L255.69 1347.56L256.74 1351.07L257.78 1354.24L258.82 1357.07L259.87 1359.6L260.91 1361.83L261.96 1363.81L263 1365.55L264.05 1367.09L265.09 1368.46L266.13 1369.67L267.18 1370.76L268.22 1371.74L269.27 1372.63L270.31 1373.43L271.36 1374.17L272.4 1374.85L273.44 1375.48L274.49 1376.06L275.53 1376.59L276.58 1377.08L277.62 1377.54L278.67 1377.96L279.71 1378.35L280.75 1378.71L281.8 1379.03L282.84 1379.33L283.89 1379.6L284.93 1379.84L285.98 1380.06L287.02 1380.26L288.06 1380.43L289.11 1380.59L290.15 1380.73L291.2 1380.85L292.24 1380.96L293.29 1381.05L294.33 1381.13L295.37 1381.2L296.42 1381.27L297.46 1381.32L298.51 1381.36L299.55 1381.4L300.6 1381.44L301.64 1381.46L302.68 1381.49L303.73 1381.51L304.77 1381.52L305.82 1381.54L306.86 1381.55L307.91 1381.56L308.95 1381.57L309.99 1381.57L311.04 1381.58L312.08 1381.58L313.13 1381.59L314.17 1381.59L315.22 1381.59L316.26 1381.59L317.3 1381.59L318.35 1381.6L319.39 1381.6L320.44 1381.6L321.48 1381.6L322.53 1381.6L323.57 1381.6L324.61 1381.6L325.66 1381.6L326.7 1381.6L327.75 1381.6L328.79 1381.6L329.84 1381.6L330.88 1381.6L331.92 1381.6L332.97 1381.6L334.01 1381.6L335.06 1381.6L336.1 1381.6L337.15 1381.6L338.19 1381.6L339.23 1381.6L340.28 1381.6L341.32 1381.6L342.37 1381.6L343.41 1381.6L344.46 1381.6L345.5 1381.6L346.54 1381.6L347.59 1381.6L348.63 1381.6L349.68 1381.6L350.72 1381.6L351.77 1381.6L352.81 1381.6L353.85 1381.6L354.9 1381.6L355.94 1381.6L356.99 1381.6L358.03 1381.6L359.08 1381.6L360.12 1381.6L361.16 1381.6L362.21 1381.6L363.25 1381.6L364.3 1381.6L365.34 1381.6L366.39 1381.6L367.43 1381.6L368.47 1381.6L369.52 1381.6L370.56 1381.6L371.61 1381.6L372.65 1381.6L373.7 1381.6L374.74 1381.6L375.78 1381.6L376.83 1381.6L377.87 1381.6L378.92 1381.6L379.96 1381.6L381.01 1381.6L382.05 1381.6L383.09 1381.6L384.14 1381.6L385.18 1381.6L386.23 1381.6L387.27 1381.6L388.32 1381.6L389.36 1381.6L390.4 1381.6L391.45 1381.6L392.49 1381.6L393.54 1381.6L394.58 1381.6L395.63 1381.6L396.67 1381.6L397.71 1381.6L398.76 1381.6L399.8 1381.6L400.85 1381.6L401.89 1381.6L402.94 1381.6L403.98 1381.6L405.02 1381.6L406.07 1381.6L407.11 1381.6L408.16 1381.6L409.2 1381.6L410.25 1381.6L411.29 1381.6L412.33 1381.6L413.38 1381.6L414.42 1381.6L415.47 1381.6L416.51 1381.6L417.56 1381.6L418.6 1381.6L419.64 1381.6L420.69 1381.6L421.73 1381.6L422.78 1381.6L423.82 1381.6L424.87 1381.6L425.91 1381.6L426.95 1381.6L428 1381.6L429.04 1381.6L430.09 1381.6L431.13 1381.6L432.18 1381.6L433.22 1381.6L434.26 1381.6L435.31 1381.6L436.35 1381.6L437.4 1381.6L438.44 1381.6L439.49 1381.6L440.53 1381.6L441.57 1381.6L442.62 1381.6L443.66 1381.6L444.71 1381.6L445.75 1381.6L446.8 1381.6L447.84 1381.6L448.88 1381.6L449.93 1381.6L450.97 1381.6L452.02 1381.6L453.06 1381.6L454.11 1381.6L455.15 1381.6L456.19 1381.6L457.24 1381.6L458.28 1381.6L459.33 1381.6L460.37 1381.6L461.42 1381.6L462.46 1381.6L463.5 1381.6L464.55 1381.6L465.59 1381.6L466.64 1381.6L467.68 1381.6L468.73 1381.6L469.77 1381.6L470.81 1381.6L471.86 1381.6L472.9 1381.6L473.95 1381.6L474.99 1381.6L476.04 1381.6L477.08 1381.6L478.12 1381.6L479.17 1381.6L480.21 1381.6L481.26 1381.6L482.3 1381.6L483.35 1381.6L484.39 1381.6L485.43 1381.6L486.48 1381.6L487.52 1381.6L488.57 1381.6L489.61 1381.6L490.66 1381.6L491.7 1381.6L492.74 1381.6L493.79 1381.6L494.83 1381.6L495.88 1381.6L496.92 1381.6L497.97 1381.6L499.01 1381.6L500.05 1381.6L501.1 1381.6L502.14 1381.6L503.19 1381.6L504.23 1381.6L505.28 1381.6L506.32 1381.6L507.36 1381.6L508.41 1381.6L509.45 1381.6L510.5 1381.6L511.54 1381.6L512.59 1381.6L513.63 1381.6L514.67 1381.6L515.72 1381.6L516.76 1381.6L517.81 1381.6L518.85 1381.6L519.9 1381.6L520.94 1381.6L521.98 1381.6L523.03 1381.6L524.07 1381.6L525.12 1381.6L526.16 1381.6L527.21 1381.6L528.25 1381.6L529.29 1381.6L530.34 1381.6L531.38 1381.6L532.43 1381.6L533.47 1381.6L534.52 1381.6L535.56 1381.6L536.6 1381.6L537.65 1381.6L538.69 1381.6L539.74 1381.6L540.78 1381.6L541.83 1381.6L542.87 1381.6L543.91 1381.6L544.96 1381.6L546 1381.6L547.05 1381.6L548.09 1381.6L549.14 1381.6L550.18 1381.6L551.22 1381.6L552.27 1381.6L553.31 1381.6L554.36 1381.6L555.4 1381.6L556.45 1381.6L557.49 1381.6L558.53 1381.6L559.58 1381.6L560.62 1381.6L561.67 1381.6L562.71 1381.6L563.76 1381.6L564.8 1381.6L565.84 1381.6L566.89 1381.6L567.93 1381.6L568.98 1381.6L570.02 1381.6L571.07 1381.6L572.11 1381.6L573.15 1381.6L574.2 1381.6L575.24 1381.6L576.29 1381.6L577.33 1381.6L578.38 1381.6L579.42 1381.6L580.46 1381.6L581.51 1381.6L582.55 1381.6L583.6 1381.6L584.64 1381.6L585.69 1381.6L586.73 1381.6L587.77 1381.6L588.82 1381.6L589.86 1381.6L590.91 1381.6L591.95 1381.6L593 1381.6L594.04 1381.6L595.08 1381.6L596.13 1381.6L597.17 1381.6L598.22 1381.6L599.26 1381.6L600.31 1381.6L601.35 1381.6L602.39 1381.6L603.44 1381.6L604.48 1381.6L605.53 1381.6L606.57 1381.6L607.62 1381.6L608.66 1381.6L609.7 1381.6L610.75 1381.6L611.79 1381.6L612.84 1381.6L613.88 1381.6L614.93 1381.6L615.97 1381.6L617.01 1381.6L618.06 1381.6L619.1 1381.6L620.15 1381.6L621.19 1381.6L622.24 1381.6L623.28 1381.6L624.32 1381.6L625.37 1381.6L626.41 1381.6L627.46 1381.6L628.5 1381.6L629.55 1381.6L630.59 1381.6L631.63 1381.6L632.68 1381.6L633.72 1381.6L634.77 1381.6L635.81 1381.6L636.86 1381.6L637.9 1381.6L638.94 1381.6L639.99 1381.6L641.03 1381.6L642.08 1381.6L643.12 1381.6L644.17 1381.6L645.21 1381.6L646.25 1381.6L647.3 1381.6L648.34 1381.6L649.39 1381.6L650.43 1381.6L651.48 1381.6L652.52 1381.6L653.56 1381.6L654.61 1381.6L655.65 1381.6L656.7 1381.6L657.74 1381.6L658.79 1381.6L659.83 1381.6L660.87 1381.6L661.92 1381.6L662.96 1381.6L664.01 1381.6L665.05 1381.6L666.1 1381.6L667.14 1381.6L668.18 1381.6L669.23 1381.6L670.27 1381.6L671.32 1381.6L671.32 1381.6L137.69 1381.6Z" fill="#F96B6E" fill-opacity="0.4" stroke="none"/>
<path d="M137.69 1381.6L138.73 1381.6L139.78 1381.6L140.82 1381.6L141.86 1381.59L142.91 1381.59L143.95 1381.58L145 1381.57L146.04 1381.56L147.09 1381.54L148.13 1381.51L149.17 1381.47L150.22 1381.41L151.26 1381.33L152.31 1381.21L153.35 1381.05L154.4 1380.82L155.44 1380.52L156.48 1380.12L157.53 1379.59L158.57 1378.89L159.62 1377.98L160.66 1376.82L161.71 1375.34L162.75 1373.49L163.79 1371.19L164.84 1368.36L165.88 1364.93L166.93 1360.82L167.97 1355.95L169.02 1350.23L170.06 1343.62L171.1 1336.06L172.15 1327.52L173.19 1318L174.24 1307.53L175.28 1296.17L176.33 1284.03L177.37 1271.23L178.41 1257.97L179.46 1244.46L180.5 1230.95L181.55 1217.7L182.59 1205.02L183.64 1193.19L184.68 1182.53L185.72 1173.29L186.77 1165.74L187.81 1160.08L188.86 1156.46L189.9 1155.01L190.95 1155.75L191.99 1158.66L193.03 1163.66L194.08 1170.6L195.12 1179.29L196.17 1189.49L197.21 1200.93L198.26 1213.31L199.3 1226.33L200.34 1239.7L201.39 1253.14L202.43 1266.37L203.48 1279.17L204.52 1291.35L205.57 1302.74L206.61 1313.21L207.65 1322.69L208.7 1331.12L209.74 1338.47L210.79 1344.74L211.83 1349.96L212.88 1354.15L213.92 1357.36L214.96 1359.63L216.01 1361.01L217.05 1361.54L218.1 1361.26L219.14 1360.23L220.19 1358.47L221.23 1356.02L222.27 1352.94L223.32 1349.27L224.36 1345.07L225.41 1340.4L226.45 1335.34L227.5 1329.99L228.54 1324.46L229.58 1318.86L230.63 1313.33L231.67 1308L232.72 1303.01L233.76 1298.5L234.81 1294.58L235.85 1291.38L236.89 1288.98L237.94 1287.45L238.98 1286.82L240.03 1287.12L241.07 1288.31L242.12 1290.35L243.16 1293.17L244.2 1296.67L245.25 1300.74L246.29 1305.25L247.34 1310.09L248.38 1315.12L249.43 1320.24L250.47 1325.32L251.51 1330.27L252.56 1335.03L253.6 1339.52L254.65 1343.71L255.69 1347.56L256.74 1351.07L257.78 1354.24L258.82 1357.07L259.87 1359.6L260.91 1361.83L261.96 1363.81L263 1365.55L264.05 1367.09L265.09 1368.46L266.13 1369.67L267.18 1370.76L268.22 1371.74L269.27 1372.63L270.31 1373.43L271.36 1374.17L272.4 1374.85L273.44 1375.48L274.49 1376.06L275.53 1376.59L276.58 1377.08L277.62 1377.54L278.67 1377.96L279.71 1378.35L280.75 1378.71L281.8 1379.03L282.84 1379.33L283.89 1379.6L284.93 1379.84L285.98 1380.06L287.02 1380.26L288.06 1380.43L289.11 1380.59L290.15 1380.73L291.2 1380.85L292.24 1380.96L293.29 1381.05L294.33 1381.13L295.37 1381.2L296.42 1381.27L297.46 1381.32L298.51 1381.36L299.55 1381.4L300.6 1381.44L301.64 1381.46L302.68 1381.49L303.73 1381.51L304.77 1381.52L305.82 1381.54L306.86 1381.55L307.91 1381.56L308.95 1381.57L309.99 1381.57L311.04 1381.58L312.08 1381.58L313.13 1381.59L314.17 1381.59L315.22 1381.59L316.26 1381.59L317.3 1381.59L318.35 1381.6L319.39 1381.6L320.44 1381.6L321.48 1381.6L322.53 1381.6L323.57 1381.6L324.61 1381.6L325.66 1381.6L326.7 1381.6L327.75 1381.6L328.79 1381.6L329.84 1381.6L330.88 1381.6L331.92 1381.6L332.97 1381.6L334.01 1381.6L335.06 1381.6L336.1 1381.6L337.15 1381.6L338.19 1381.6L339.23 1381.6L340.28 1381.6L341.32 1381.6L342.37 1381.6L343.41 1381.6L344.46 1381.6L345.5 1381.6L346.54 1381.6L347.59 1381.6L348.63 1381.6L349.68 1381.6L350.72 1381.6L351.77 1381.6L352.81 1381.6L353.85 1381.6L354.9 1381.6L355.94 1381.6L356.99 1381.6L358.03 1381.6L359.08 1381.6L360.12 1381.6L361.16 1381.6L362.21 1381.6L363.25 1381.6L364.3 1381.6L365.34 1381.6L366.39 1381.6L367.43 1381.6L368.47 1381.6L369.52 1381.6L370.56 1381.6L371.61 1381.6L372.65 1381.6L373.7 1381.6L374.74 1381.6L375.78 1381.6L376.83 1381.6L377.87 1381.6L378.92 1381.6L379.96 1381.6L381.01 1381.6L382.05 1381.6L383.09 1381.6L384.14 1381.6L385.18 1381.6L386.23 1381.6L387.27 1381.6L388.32 1381.6L389.36 1381.6L390.4 1381.6L391.45 1381.6L392.49 1381.6L393.54 1381.6L394.58 1381.6L395.63 1381.6L396.67 1381.6L397.71 1381.6L398.76 1381.6L399.8 1381.6L400.85 1381.6L401.89 1381.6L402.94 1381.6L403.98 1381.6L405.02 1381.6L406.07 1381.6L407.11 1381.6L408.16 1381.6L409.2 1381.6L410.25 1381.6L411.29 1381.6L412.33 1381.6L413.38 1381.6L414.42 1381.6L415.47 1381.6L416.51 1381.6L417.56 1381.6L418.6 1381.6L419.64 1381.6L420.69 1381.6L421.73 1381.6L422.78 1381.6L423.82 1381.6L424.87 1381.6L425.91 1381.6L426.95 1381.6L428 1381.6L429.04 1381.6L430.09 1381.6L431.13 1381.6L432.18 1381.6L433.22 1381.6L434.26 1381.6L435.31 1381.6L436.35 1381.6L437.4 1381.6L438.44 1381.6L439.49 1381.6L440.53 1381.6L441.57 1381.6L442.62 1381.6L443.66 1381.6L444.71 1381.6L445.75 1381.6L446.8 1381.6L447.84 1381.6L448.88 1381.6L449.93 1381.6L450.97 1381.6L452.02 1381.6L453.06 1381.6L454.11 1381.6L455.15 1381.6L456.19 1381.6L457.24 1381.6L458.28 1381.6L459.33 1381.6L460.37 1381.6L461.42 1381.6L462.46 1381.6L463.5 1381.6L464.55 1381.6L465.59 1381.6L466.64 1381.6L467.68 1381.6L468.73 1381.6L469.77 1381.6L470.81 1381.6L471.86 1381.6L472.9 1381.6L473.95 1381.6L474.99 1381.6L476.04 1381.6L477.08 1381.6L478.12 1381.6L479.17 1381.6L480.21 1381.6L481.26 1381.6L482.3 1381.6L483.35 1381.6L484.39 1381.6L485.43 1381.6L486.48 1381.6L487.52 1381.6L488.57 1381.6L489.61 1381.6L490.66 1381.6L491.7 1381.6L492.74 1381.6L493.79 1381.6L494.83 1381.6L495.88 1381.6L496.92 1381.6L497.97 1381.6L499.01 1381.6L500.05 1381.6L501.1 1381.6L502.14 1381.6L503.19 1381.6L504.23 1381.6L505.28 1381.6L506.32 1381.6L507.36 1381.6L508.41 1381.6L509.45 1381.6L510.5 1381.6L511.54 1381.6L512.59 1381.6L513.63 1381.6L514.67 1381.6L515.72 1381.6L516.76 1381.6L517.81 1381.6L518.85 1381.6L519.9 1381.6L520.94 1381.6L521.98 1381.6L523.03 1381.6L524.07 1381.6L525.12 1381.6L526.16 1381.6L527.21 1381.6L528.25 1381.6L529.29 1381.6L530.34 1381.6L531.38 1381.6L532.43 1381.6L533.47 1381.6L534.52 1381.6L535.56 1381.6L536.6 1381.6L537.65 1381.6L538.69 1381.6L539.74 1381.6L540.78 1381.6L541.83 1381.6L542.87 1381.6L543.91 1381.6L544.96 1381.6L546 1381.6L547.05 1381.6L548.09 1381.6L549.14 1381.6L550.18 1381.6L551.22 1381.6L552.27 1381.6L553.31 1381.6L554.36 1381.6L555.4 1381.6L556.45 1381.6L557.49 1381.6L558.53 1381.6L559.58 1381.6L560.62 1381.6L561.67 1381.6L562.71 1381.6L563.76 1381.6L564.8 1381.6L565.84 1381.6L566.89 1381.6L567.93 1381.6L568.98 1381.6L570.02 1381.6L571.07 1381.6L572.11 1381.6L573.15 1381.6L574.2 1381.6L575.24 1381.6L576.29 1381.6L577.33 1381.6L578.38 1381.6L579.42 1381.6L580.46 1381.6L581.51 1381.6L582.55 1381.6L583.6 1381.6L584.64 1381.6L585.69 1381.6L586.73 1381.6L587.77 1381.6L588.82 1381.6L589.86 1381.6L590.91 1381.6L591.95 1381.6L593 1381.6L594.04 1381.6L595.08 1381.6L596.13 1381.6L597.17 1381.6L598.22 1381.6L599.26 1381.6L600.31 1381.6L601.35 1381.6L602.39 1381.6L603.44 1381.6L604.48 1381.6L605.53 1381.6L606.57 1381.6L607.62 1381.6L608.66 1381.6L609.7 1381.6L610.75 1381.6L611.79 1381.6L612.84 1381.6L613.88 1381.6L614.93 1381.6L615.97 1381.6L617.01 1381.6L618.06 1381.6L619.1 1381.6L620.15 1381.6L621.19 1381.6L622.24 1381.6L623.28 1381.6L624.32 1381.6L625.37 1381.6L626.41 1381.6L627.46 1381.6L628.5 1381.6L629.55 1381.6L630.59 1381.6L631.63 1381.6L632.68 1381.6L633.72 1381.6L634.77 1381.6L635.81 1381.6L636.86 1381.6L637.9 1381.6L638.94 1381.6L639.99 1381.6L641.03 1381.6L642.08 1381.6L643.12 1381.6L644.17 1381.6L645.21 1381.6L646.25 1381.6L647.3 1381.6L648.34 1381.6L649.39 1381.6L650.43 1381.6L651.48 1381.6L652.52 1381.6L653.56 1381.6L654.61 1381.6L655.65 1381.6L656.7 1381.6L657.74 1381.6L658.79 1381.6L659.83 1381.6L660.87 1381.6L661.92 1381.6L662.96 1381.6L664.01 1381.6L665.05 1381.6L666.1 1381.6L667.14 1381.6L668.18 1381.6L669.23 1381.6L670.27 1381.6L671.32 1381.6" fill="none" stroke="#000" stroke-width="3.3" stroke-linejoin="round" stroke-linecap="butt"/>
</g>
<rect x="698.9" y="1144.2" width="55" height="248.6" fill="#D9D9D9"/>
<text transform="translate(726.4 1268.5) rotate(90)" x="0" y="11.17" text-anchor="middle" font-size="31.2" fill="#1A1A1A">5</text>
<text x="95.2" y="1393.07" text-anchor="end" font-size="31.2" fill="#4D4D4D">0</text>
<text x="95.2" y="1346.07" text-anchor="end" font-size="31.2" fill="#4D4D4D">10</text>
<text x="95.2" y="1299.07" text-anchor="end" font-size="31.2" fill="#4D4D4D">20</text>
<text x="95.2" y="1252.07" text-anchor="end" font-size="31.2" fill="#4D4D4D">30</text>
<text x="95.2" y="1205.07" text-anchor="end" font-size="31.2" fill="#4D4D4D">40</text>
<text x="95.2" y="1158.07" text-anchor="end" font-size="31.2" fill="#4D4D4D">50</text>
<path d="M102.2 1381.6H111M102.2 1334.6H111M102.2 1287.6H111M102.2 1240.6H111M102.2 1193.6H111M102.2 1146.6H111" stroke="#333333" stroke-width="3.4" fill="none"/>
</g>
<text x="134.95" y="1431.8" text-anchor="middle" font-size="31.2" fill="#4D4D4D">0.0</text>
<text x="317.45" y="1431.8" text-anchor="middle" font-size="31.2" fill="#4D4D4D">0.1</text>
<text x="499.95" y="1431.8" text-anchor="middle" font-size="31.2" fill="#4D4D4D">0.2</text>
<text x="682.45" y="1431.8" text-anchor="middle" font-size="31.2" fill="#4D4D4D">0.3</text>
<path d="M134.95 1392.8V1401.6M317.45 1392.8V1401.6M499.95 1392.8V1401.6M682.45 1392.8V1401.6" stroke="#333333" stroke-width="3.4" fill="none"/>
<text x="404.95" y="1475.1" text-anchor="middle" font-size="40.0" fill="#000">Total-Effect Hellinger</text>
<text transform="translate(43 735.4) rotate(-90)" text-anchor="middle" font-size="40.0" fill="#000">Density</text>
<text x="911" y="51.6" font-size="47.9" fill="#000">First-Order Hellinger Loss</text>
<g>
<rect x="911" y="78.3" width="560.9" height="249.5" fill="#EBEBEB"/>
<g clip-path="url(#cp10)">
<path d="M911 291.02H1471.9M911 240.17H1471.9M911 189.32H1471.9M911 138.47H1471.9M911 87.62H1471.9M975.67 78.3V327.8M1103.81 78.3V327.8M1231.95 78.3V327.8M1360.09 78.3V327.8" stroke="#fff" stroke-width="1.7" fill="none"/>
<path d="M911 316.45H1471.9M911 265.6H1471.9M911 214.75H1471.9M911 163.9H1471.9M911 113.05H1471.9M911.6 78.3V327.8M1039.74 78.3V327.8M1167.88 78.3V327.8M1296.02 78.3V327.8M1424.16 78.3V327.8" stroke="#fff" stroke-width="3.4" fill="none"/>
<path d="M936.78 316.45L937.78 316.45L938.77 316.45L939.77 316.45L940.77 316.45L941.77 316.45L942.77 316.45L943.76 316.45L944.76 316.45L945.76 316.45L946.76 316.45L947.75 316.45L948.75 316.45L949.75 316.45L950.75 316.45L951.74 316.45L952.74 316.45L953.74 316.45L954.74 316.45L955.74 316.45L956.73 316.45L957.73 316.45L958.73 316.45L959.73 316.45L960.72 316.45L961.72 316.45L962.72 316.45L963.72 316.45L964.71 316.45L965.71 316.45L966.71 316.45L967.71 316.45L968.7 316.45L969.7 316.45L970.7 316.45L971.7 316.45L972.7 316.45L973.69 316.45L974.69 316.45L975.69 316.45L976.69 316.45L977.68 316.45L978.68 316.45L979.68 316.45L980.68 316.45L981.67 316.45L982.67 316.45L983.67 316.45L984.67 316.45L985.66 316.45L986.66 316.45L987.66 316.45L988.66 316.45L989.66 316.45L990.65 316.45L991.65 316.45L992.65 316.45L993.65 316.45L994.64 316.45L995.64 316.45L996.64 316.45L997.64 316.45L998.63 316.45L999.63 316.45L1000.63 316.45L1001.63 316.45L1002.63 316.45L1003.62 316.45L1004.62 316.45L1005.62 316.45L1006.62 316.45L1007.61 316.45L1008.61 316.45L1009.61 316.45L1010.61 316.45L1011.6 316.45L1012.6 316.45L1013.6 316.45L1014.6 316.45L1015.59 316.45L1016.59 316.45L1017.59 316.45L1018.59 316.45L1019.59 316.45L1020.58 316.45L1021.58 316.45L1022.58 316.45L1023.58 316.45L1024.57 316.45L1025.57 316.45L1026.57 316.45L1027.57 316.45L1028.56 316.45L1029.56 316.45L1030.56 316.45L1031.56 316.45L1032.56 316.45L1033.55 316.45L1034.55 316.45L1035.55 316.45L1036.55 316.45L1037.54 316.45L1038.54 316.45L1039.54 316.45L1040.54 316.45L1041.53 316.45L1042.53 316.45L1043.53 316.45L1044.53 316.45L1045.52 316.45L1046.52 316.45L1047.52 316.45L1048.52 316.45L1049.52 316.45L1050.51 316.45L1051.51 316.45L1052.51 316.45L1053.51 316.45L1054.5 316.45L1055.5 316.45L1056.5 316.45L1057.5 316.45L1058.49 316.45L1059.49 316.45L1060.49 316.45L1061.49 316.45L1062.48 316.45L1063.48 316.45L1064.48 316.45L1065.48 316.45L1066.48 316.45L1067.47 316.45L1068.47 316.45L1069.47 316.45L1070.47 316.45L1071.46 316.45L1072.46 316.45L1073.46 316.45L1074.46 316.45L1075.45 316.45L1076.45 316.45L1077.45 316.45L1078.45 316.45L1079.45 316.45L1080.44 316.45L1081.44 316.45L1082.44 316.45L1083.44 316.45L1084.43 316.45L1085.43 316.45L1086.43 316.45L1087.43 316.45L1088.42 316.45L1089.42 316.45L1090.42 316.45L1091.42 316.45L1092.41 316.45L1093.41 316.45L1094.41 316.45L1095.41 316.45L1096.41 316.45L1097.4 316.45L1098.4 316.45L1099.4 316.45L1100.4 316.45L1101.39 316.45L1102.39 316.45L1103.39 316.45L1104.39 316.45L1105.38 316.45L1106.38 316.45L1107.38 316.45L1108.38 316.45L1109.37 316.45L1110.37 316.45L1111.37 316.45L1112.37 316.45L1113.37 316.45L1114.36 316.45L1115.36 316.45L1116.36 316.45L1117.36 316.45L1118.35 316.45L1119.35 316.45L1120.35 316.45L1121.35 316.45L1122.34 316.45L1123.34 316.45L1124.34 316.45L1125.34 316.45L1126.34 316.45L1127.33 316.45L1128.33 316.45L1129.33 316.45L1130.33 316.45L1131.32 316.45L1132.32 316.45L1133.32 316.45L1134.32 316.45L1135.31 316.45L1136.31 316.45L1137.31 316.45L1138.31 316.45L1139.3 316.45L1140.3 316.45L1141.3 316.45L1142.3 316.45L1143.3 316.45L1144.29 316.45L1145.29 316.45L1146.29 316.45L1147.29 316.45L1148.28 316.45L1149.28 316.45L1150.28 316.45L1151.28 316.45L1152.27 316.45L1153.27 316.45L1154.27 316.45L1155.27 316.45L1156.27 316.45L1157.26 316.45L1158.26 316.45L1159.26 316.45L1160.26 316.45L1161.25 316.45L1162.25 316.45L1163.25 316.45L1164.25 316.45L1165.24 316.45L1166.24 316.45L1167.24 316.45L1168.24 316.45L1169.23 316.45L1170.23 316.45L1171.23 316.45L1172.23 316.45L1173.23 316.45L1174.22 316.45L1175.22 316.45L1176.22 316.45L1177.22 316.45L1178.21 316.45L1179.21 316.45L1180.21 316.45L1181.21 316.45L1182.2 316.45L1183.2 316.45L1184.2 316.45L1185.2 316.45L1186.19 316.45L1187.19 316.45L1188.19 316.45L1189.19 316.45L1190.19 316.45L1191.18 316.45L1192.18 316.45L1193.18 316.45L1194.18 316.45L1195.17 316.45L1196.17 316.45L1197.17 316.45L1198.17 316.45L1199.16 316.45L1200.16 316.45L1201.16 316.45L1202.16 316.45L1203.16 316.45L1204.15 316.45L1205.15 316.45L1206.15 316.45L1207.15 316.45L1208.14 316.45L1209.14 316.45L1210.14 316.45L1211.14 316.45L1212.13 316.45L1213.13 316.45L1214.13 316.45L1215.13 316.45L1216.12 316.45L1217.12 316.45L1218.12 316.45L1219.12 316.45L1220.12 316.45L1221.11 316.45L1222.11 316.45L1223.11 316.45L1224.11 316.45L1225.1 316.45L1226.1 316.45L1227.1 316.45L1228.1 316.45L1229.09 316.45L1230.09 316.45L1231.09 316.45L1232.09 316.45L1233.08 316.45L1234.08 316.45L1235.08 316.45L1236.08 316.45L1237.08 316.45L1238.07 316.45L1239.07 316.45L1240.07 316.45L1241.07 316.45L1242.06 316.45L1243.06 316.45L1244.06 316.45L1245.06 316.45L1246.05 316.45L1247.05 316.45L1248.05 316.45L1249.05 316.45L1250.05 316.45L1251.04 316.45L1252.04 316.45L1253.04 316.45L1254.04 316.45L1255.03 316.45L1256.03 316.45L1257.03 316.45L1258.03 316.45L1259.02 316.45L1260.02 316.45L1261.02 316.45L1262.02 316.45L1263.01 316.45L1264.01 316.45L1265.01 316.45L1266.01 316.45L1267.01 316.45L1268 316.45L1269 316.45L1270 316.45L1271 316.45L1271.99 316.45L1272.99 316.45L1273.99 316.45L1274.99 316.45L1275.98 316.45L1276.98 316.45L1277.98 316.45L1278.98 316.45L1279.98 316.45L1280.97 316.45L1281.97 316.45L1282.97 316.45L1283.97 316.45L1284.96 316.45L1285.96 316.45L1286.96 316.45L1287.96 316.45L1288.95 316.45L1289.95 316.45L1290.95 316.45L1291.95 316.45L1292.94 316.45L1293.94 316.45L1294.94 316.45L1295.94 316.45L1296.94 316.45L1297.93 316.45L1298.93 316.45L1299.93 316.45L1300.93 316.45L1301.92 316.45L1302.92 316.45L1303.92 316.45L1304.92 316.45L1305.91 316.45L1306.91 316.45L1307.91 316.45L1308.91 316.45L1309.9 316.45L1310.9 316.45L1311.9 316.45L1312.9 316.45L1313.9 316.45L1314.89 316.45L1315.89 316.45L1316.89 316.45L1317.89 316.45L1318.88 316.45L1319.88 316.45L1320.88 316.45L1321.88 316.45L1322.87 316.45L1323.87 316.45L1324.87 316.45L1325.87 316.45L1326.87 316.45L1327.86 316.45L1328.86 316.45L1329.86 316.45L1330.86 316.45L1331.85 316.45L1332.85 316.45L1333.85 316.45L1334.85 316.45L1335.84 316.45L1336.84 316.45L1337.84 316.45L1338.84 316.45L1339.83 316.45L1340.83 316.45L1341.83 316.45L1342.83 316.45L1343.83 316.45L1344.82 316.45L1345.82 316.45L1346.82 316.45L1347.82 316.45L1348.81 316.45L1349.81 316.45L1350.81 316.45L1351.81 316.45L1352.8 316.44L1353.8 316.44L1354.8 316.43L1355.8 316.41L1356.79 316.38L1357.79 316.34L1358.79 316.27L1359.79 316.16L1360.79 315.99L1361.78 315.73L1362.78 315.36L1363.78 314.82L1364.78 314.06L1365.77 313.02L1366.77 311.61L1367.77 309.76L1368.77 307.37L1369.76 304.35L1370.76 300.64L1371.76 296.17L1372.76 290.93L1373.76 284.95L1374.75 278.29L1375.75 271.09L1376.75 263.55L1377.75 255.91L1378.74 248.48L1379.74 241.57L1380.74 235.51L1381.74 230.6L1382.73 227.11L1383.73 225.23L1384.73 225.05L1385.73 226.6L1386.72 229.78L1387.72 234.41L1388.72 240.24L1389.72 246.98L1390.72 254.29L1391.71 261.83L1392.71 269.3L1393.71 276.41L1394.71 282.93L1395.7 288.7L1396.7 293.57L1397.7 297.46L1398.7 300.32L1399.69 302.11L1400.69 302.8L1401.69 302.37L1402.69 300.77L1403.69 297.95L1404.68 293.85L1405.68 288.39L1406.68 281.5L1407.68 273.13L1408.67 263.24L1409.67 251.85L1410.67 239.03L1411.67 224.92L1412.66 209.74L1413.66 193.79L1414.66 177.45L1415.66 161.17L1416.65 145.45L1417.65 130.82L1418.65 117.8L1419.65 106.9L1420.65 98.54L1421.64 93.09L1422.64 90.75L1423.64 91.64L1424.64 95.71L1425.63 102.79L1426.63 112.58L1427.63 124.68L1428.63 138.62L1429.62 153.87L1430.62 169.89L1431.62 186.16L1432.62 202.2L1433.61 217.58L1434.61 231.98L1435.61 245.11L1436.61 256.82L1437.61 266.99L1438.6 275.61L1439.6 282.7L1440.6 288.37L1441.6 292.72L1442.59 295.91L1443.59 298.1L1444.59 299.46L1445.59 300.16L1446.58 300.37L1446.58 316.45L936.78 316.45Z" fill="#F96B6E" fill-opacity="0.4" stroke="none"/>
<path d="M936.78 316.45L937.78 316.45L938.77 316.45L939.77 316.45L940.77 316.45L941.77 316.45L942.77 316.45L943.76 316.45L944.76 316.45L945.76 316.45L946.76 316.45L947.75 316.45L948.75 316.45L949.75 316.45L950.75 316.45L951.74 316.45L952.74 316.45L953.74 316.45L954.74 316.45L955.74 316.45L956.73 316.45L957.73 316.45L958.73 316.45L959.73 316.45L960.72 316.45L961.72 316.45L962.72 316.45L963.72 316.45L964.71 316.45L965.71 316.45L966.71 316.45L967.71 316.45L968.7 316.45L969.7 316.45L970.7 316.45L971.7 316.45L972.7 316.45L973.69 316.45L974.69 316.45L975.69 316.45L976.69 316.45L977.68 316.45L978.68 316.45L979.68 316.45L980.68 316.45L981.67 316.45L982.67 316.45L983.67 316.45L984.67 316.45L985.66 316.45L986.66 316.45L987.66 316.45L988.66 316.45L989.66 316.45L990.65 316.45L991.65 316.45L992.65 316.45L993.65 316.45L994.64 316.45L995.64 316.45L996.64 316.45L997.64 316.45L998.63 316.45L999.63 316.45L1000.63 316.45L1001.63 316.45L1002.63 316.45L1003.62 316.45L1004.62 316.45L1005.62 316.45L1006.62 316.45L1007.61 316.45L1008.61 316.45L1009.61 316.45L1010.61 316.45L1011.6 316.45L1012.6 316.45L1013.6 316.45L1014.6 316.45L1015.59 316.45L1016.59 316.45L1017.59 316.45L1018.59 316.45L1019.59 316.45L1020.58 316.45L1021.58 316.45L1022.58 316.45L1023.58 316.45L1024.57 316.45L1025.57 316.45L1026.57 316.45L1027.57 316.45L1028.56 316.45L1029.56 316.45L1030.56 316.45L1031.56 316.45L1032.56 316.45L1033.55 316.45L1034.55 316.45L1035.55 316.45L1036.55 316.45L1037.54 316.45L1038.54 316.45L1039.54 316.45L1040.54 316.45L1041.53 316.45L1042.53 316.45L1043.53 316.45L1044.53 316.45L1045.52 316.45L1046.52 316.45L1047.52 316.45L1048.52 316.45L1049.52 316.45L1050.51 316.45L1051.51 316.45L1052.51 316.45L1053.51 316.45L1054.5 316.45L1055.5 316.45L1056.5 316.45L1057.5 316.45L1058.49 316.45L1059.49 316.45L1060.49 316.45L1061.49 316.45L1062.48 316.45L1063.48 316.45L1064.48 316.45L1065.48 316.45L1066.48 316.45L1067.47 316.45L1068.47 316.45L1069.47 316.45L1070.47 316.45L1071.46 316.45L1072.46 316.45L1073.46 316.45L1074.46 316.45L1075.45 316.45L1076.45 316.45L1077.45 316.45L1078.45 316.45L1079.45 316.45L1080.44 316.45L1081.44 316.45L1082.44 316.45L1083.44 316.45L1084.43 316.45L1085.43 316.45L1086.43 316.45L1087.43 316.45L1088.42 316.45L1089.42 316.45L1090.42 316.45L1091.42 316.45L1092.41 316.45L1093.41 316.45L1094.41 316.45L1095.41 316.45L1096.41 316.45L1097.4 316.45L1098.4 316.45L1099.4 316.45L1100.4 316.45L1101.39 316.45L1102.39 316.45L1103.39 316.45L1104.39 316.45L1105.38 316.45L1106.38 316.45L1107.38 316.45L1108.38 316.45L1109.37 316.45L1110.37 316.45L1111.37 316.45L1112.37 316.45L1113.37 316.45L1114.36 316.45L1115.36 316.45L1116.36 316.45L1117.36 316.45L1118.35 316.45L1119.35 316.45L1120.35 316.45L1121.35 316.45L1122.34 316.45L1123.34 316.45L1124.34 316.45L1125.34 316.45L1126.34 316.45L1127.33 316.45L1128.33 316.45L1129.33 316.45L1130.33 316.45L1131.32 316.45L1132.32 316.45L1133.32 316.45L1134.32 316.45L1135.31 316.45L1136.31 316.45L1137.31 316.45L1138.31 316.45L1139.3 316.45L1140.3 316.45L1141.3 316.45L1142.3 316.45L1143.3 316.45L1144.29 316.45L1145.29 316.45L1146.29 316.45L1147.29 316.45L1148.28 316.45L1149.28 316.45L1150.28 316.45L1151.28 316.45L1152.27 316.45L1153.27 316.45L1154.27 316.45L1155.27 316.45L1156.27 316.45L1157.26 316.45L1158.26 316.45L1159.26 316.45L1160.26 316.45L1161.25 316.45L1162.25 316.45L1163.25 316.45L1164.25 316.45L1165.24 316.45L1166.24 316.45L1167.24 316.45L1168.24 316.45L1169.23 316.45L1170.23 316.45L1171.23 316.45L1172.23 316.45L1173.23 316.45L1174.22 316.45L1175.22 316.45L1176.22 316.45L1177.22 316.45L1178.21 316.45L1179.21 316.45L1180.21 316.45L1181.21 316.45L1182.2 316.45L1183.2 316.45L1184.2 316.45L1185.2 316.45L1186.19 316.45L1187.19 316.45L1188.19 316.45L1189.19 316.45L1190.19 316.45L1191.18 316.45L1192.18 316.45L1193.18 316.45L1194.18 316.45L1195.17 316.45L1196.17 316.45L1197.17 316.45L1198.17 316.45L1199.16 316.45L1200.16 316.45L1201.16 316.45L1202.16 316.45L1203.16 316.45L1204.15 316.45L1205.15 316.45L1206.15 316.45L1207.15 316.45L1208.14 316.45L1209.14 316.45L1210.14 316.45L1211.14 316.45L1212.13 316.45L1213.13 316.45L1214.13 316.45L1215.13 316.45L1216.12 316.45L1217.12 316.45L1218.12 316.45L1219.12 316.45L1220.12 316.45L1221.11 316.45L1222.11 316.45L1223.11 316.45L1224.11 316.45L1225.1 316.45L1226.1 316.45L1227.1 316.45L1228.1 316.45L1229.09 316.45L1230.09 316.45L1231.09 316.45L1232.09 316.45L1233.08 316.45L1234.08 316.45L1235.08 316.45L1236.08 316.45L1237.08 316.45L1238.07 316.45L1239.07 316.45L1240.07 316.45L1241.07 316.45L1242.06 316.45L1243.06 316.45L1244.06 316.45L1245.06 316.45L1246.05 316.45L1247.05 316.45L1248.05 316.45L1249.05 316.45L1250.05 316.45L1251.04 316.45L1252.04 316.45L1253.04 316.45L1254.04 316.45L1255.03 316.45L1256.03 316.45L1257.03 316.45L1258.03 316.45L1259.02 316.45L1260.02 316.45L1261.02 316.45L1262.02 316.45L1263.01 316.45L1264.01 316.45L1265.01 316.45L1266.01 316.45L1267.01 316.45L1268 316.45L1269 316.45L1270 316.45L1271 316.45L1271.99 316.45L1272.99 316.45L1273.99 316.45L1274.99 316.45L1275.98 316.45L1276.98 316.45L1277.98 316.45L1278.98 316.45L1279.98 316.45L1280.97 316.45L1281.97 316.45L1282.97 316.45L1283.97 316.45L1284.96 316.45L1285.96 316.45L1286.96 316.45L1287.96 316.45L1288.95 316.45L1289.95 316.45L1290.95 316.45L1291.95 316.45L1292.94 316.45L1293.94 316.45L1294.94 316.45L1295.94 316.45L1296.94 316.45L1297.93 316.45L1298.93 316.45L1299.93 316.45L1300.93 316.45L1301.92 316.45L1302.92 316.45L1303.92 316.45L1304.92 316.45L1305.91 316.45L1306.91 316.45L1307.91 316.45L1308.91 316.45L1309.9 316.45L1310.9 316.45L1311.9 316.45L1312.9 316.45L1313.9 316.45L1314.89 316.45L1315.89 316.45L1316.89 316.45L1317.89 316.45L1318.88 316.45L1319.88 316.45L1320.88 316.45L1321.88 316.45L1322.87 316.45L1323.87 316.45L1324.87 316.45L1325.87 316.45L1326.87 316.45L1327.86 316.45L1328.86 316.45L1329.86 316.45L1330.86 316.45L1331.85 316.45L1332.85 316.45L1333.85 316.45L1334.85 316.45L1335.84 316.45L1336.84 316.45L1337.84 316.45L1338.84 316.45L1339.83 316.45L1340.83 316.45L1341.83 316.45L1342.83 316.45L1343.83 316.45L1344.82 316.45L1345.82 316.45L1346.82 316.45L1347.82 316.45L1348.81 316.45L1349.81 316.45L1350.81 316.45L1351.81 316.45L1352.8 316.44L1353.8 316.44L1354.8 316.43L1355.8 316.41L1356.79 316.38L1357.79 316.34L1358.79 316.27L1359.79 316.16L1360.79 315.99L1361.78 315.73L1362.78 315.36L1363.78 314.82L1364.78 314.06L1365.77 313.02L1366.77 311.61L1367.77 309.76L1368.77 307.37L1369.76 304.35L1370.76 300.64L1371.76 296.17L1372.76 290.93L1373.76 284.95L1374.75 278.29L1375.75 271.09L1376.75 263.55L1377.75 255.91L1378.74 248.48L1379.74 241.57L1380.74 235.51L1381.74 230.6L1382.73 227.11L1383.73 225.23L1384.73 225.05L1385.73 226.6L1386.72 229.78L1387.72 234.41L1388.72 240.24L1389.72 246.98L1390.72 254.29L1391.71 261.83L1392.71 269.3L1393.71 276.41L1394.71 282.93L1395.7 288.7L1396.7 293.57L1397.7 297.46L1398.7 300.32L1399.69 302.11L1400.69 302.8L1401.69 302.37L1402.69 300.77L1403.69 297.95L1404.68 293.85L1405.68 288.39L1406.68 281.5L1407.68 273.13L1408.67 263.24L1409.67 251.85L1410.67 239.03L1411.67 224.92L1412.66 209.74L1413.66 193.79L1414.66 177.45L1415.66 161.17L1416.65 145.45L1417.65 130.82L1418.65 117.8L1419.65 106.9L1420.65 98.54L1421.64 93.09L1422.64 90.75L1423.64 91.64L1424.64 95.71L1425.63 102.79L1426.63 112.58L1427.63 124.68L1428.63 138.62L1429.62 153.87L1430.62 169.89L1431.62 186.16L1432.62 202.2L1433.61 217.58L1434.61 231.98L1435.61 245.11L1436.61 256.82L1437.61 266.99L1438.6 275.61L1439.6 282.7L1440.6 288.37L1441.6 292.72L1442.59 295.91L1443.59 298.1L1444.59 299.46L1445.59 300.16L1446.58 300.37" fill="none" stroke="#000" stroke-width="3.3" stroke-linejoin="round" stroke-linecap="butt"/>
</g>
<rect x="1471.9" y="78.3" width="55.9" height="249.5" fill="#D9D9D9"/>
<text transform="translate(1499.85 203.05) rotate(90)" x="0" y="11.17" text-anchor="middle" font-size="31.2" fill="#1A1A1A">4</text>
<text x="895.2" y="327.92" text-anchor="end" font-size="31.2" fill="#4D4D4D">0</text>
<text x="895.2" y="277.07" text-anchor="end" font-size="31.2" fill="#4D4D4D">5</text>
<text x="895.2" y="226.22" text-anchor="end" font-size="31.2" fill="#4D4D4D">10</text>
<text x="895.2" y="175.37" text-anchor="end" font-size="31.2" fill="#4D4D4D">15</text>
<text x="895.2" y="124.52" text-anchor="end" font-size="31.2" fill="#4D4D4D">20</text>
<path d="M902.2 316.45H911M902.2 265.6H911M902.2 214.75H911M902.2 163.9H911M902.2 113.05H911" stroke="#333333" stroke-width="3.4" fill="none"/>
</g>
<g>
<rect x="911" y="345" width="560.9" height="248.8" fill="#EBEBEB"/>
<g clip-path="url(#cp11)">
<path d="M911 552.45H1471.9M911 492.55H1471.9M911 432.65H1471.9M911 372.75H1471.9M975.67 345V593.8M1103.81 345V593.8M1231.95 345V593.8M1360.09 345V593.8" stroke="#fff" stroke-width="1.7" fill="none"/>
<path d="M911 582.4H1471.9M911 522.5H1471.9M911 462.6H1471.9M911 402.7H1471.9M911.6 345V593.8M1039.74 345V593.8M1167.88 345V593.8M1296.02 345V593.8M1424.16 345V593.8" stroke="#fff" stroke-width="3.4" fill="none"/>
<path d="M936.78 582.4L937.78 582.4L938.77 582.4L939.77 582.4L940.77 582.4L941.77 582.4L942.77 582.4L943.76 582.4L944.76 582.4L945.76 582.4L946.76 582.4L947.75 582.4L948.75 582.4L949.75 582.4L950.75 582.4L951.74 582.4L952.74 582.4L953.74 582.4L954.74 582.4L955.74 582.4L956.73 582.4L957.73 582.4L958.73 582.4L959.73 582.4L960.72 582.4L961.72 582.4L962.72 582.4L963.72 582.4L964.71 582.4L965.71 582.4L966.71 582.4L967.71 582.4L968.7 582.4L969.7 582.4L970.7 582.4L971.7 582.4L972.7 582.4L973.69 582.4L974.69 582.4L975.69 582.4L976.69 582.4L977.68 582.4L978.68 582.4L979.68 582.4L980.68 582.4L981.67 582.4L982.67 582.4L983.67 582.4L984.67 582.4L985.66 582.4L986.66 582.4L987.66 582.4L988.66 582.4L989.66 582.4L990.65 582.4L991.65 582.4L992.65 582.4L993.65 582.4L994.64 582.4L995.64 582.4L996.64 582.4L997.64 582.4L998.63 582.4L999.63 582.4L1000.63 582.4L1001.63 582.4L1002.63 582.4L1003.62 582.4L1004.62 582.4L1005.62 582.4L1006.62 582.4L1007.61 582.4L1008.61 582.4L1009.61 582.4L1010.61 582.4L1011.6 582.4L1012.6 582.4L1013.6 582.4L1014.6 582.4L1015.59 582.4L1016.59 582.4L1017.59 582.4L1018.59 582.4L1019.59 582.4L1020.58 582.4L1021.58 582.4L1022.58 582.4L1023.58 582.4L1024.57 582.4L1025.57 582.4L1026.57 582.4L1027.57 582.4L1028.56 582.4L1029.56 582.4L1030.56 582.4L1031.56 582.4L1032.56 582.4L1033.55 582.4L1034.55 582.4L1035.55 582.4L1036.55 582.4L1037.54 582.4L1038.54 582.4L1039.54 582.4L1040.54 582.4L1041.53 582.4L1042.53 582.4L1043.53 582.4L1044.53 582.4L1045.52 582.4L1046.52 582.4L1047.52 582.4L1048.52 582.4L1049.52 582.4L1050.51 582.4L1051.51 582.4L1052.51 582.4L1053.51 582.4L1054.5 582.4L1055.5 582.4L1056.5 582.4L1057.5 582.4L1058.49 582.4L1059.49 582.4L1060.49 582.4L1061.49 582.4L1062.48 582.4L1063.48 582.4L1064.48 582.4L1065.48 582.4L1066.48 582.4L1067.47 582.4L1068.47 582.4L1069.47 582.4L1070.47 582.4L1071.46 582.4L1072.46 582.4L1073.46 582.4L1074.46 582.4L1075.45 582.4L1076.45 582.4L1077.45 582.4L1078.45 582.4L1079.45 582.4L1080.44 582.4L1081.44 582.4L1082.44 582.4L1083.44 582.4L1084.43 582.4L1085.43 582.4L1086.43 582.4L1087.43 582.4L1088.42 582.4L1089.42 582.4L1090.42 582.4L1091.42 582.4L1092.41 582.4L1093.41 582.4L1094.41 582.4L1095.41 582.4L1096.41 582.4L1097.4 582.4L1098.4 582.4L1099.4 582.4L1100.4 582.4L1101.39 582.4L1102.39 582.4L1103.39 582.4L1104.39 582.4L1105.38 582.4L1106.38 582.4L1107.38 582.4L1108.38 582.4L1109.37 582.4L1110.37 582.4L1111.37 582.4L1112.37 582.4L1113.37 582.4L1114.36 582.4L1115.36 582.4L1116.36 582.4L1117.36 582.4L1118.35 582.4L1119.35 582.4L1120.35 582.4L1121.35 582.4L1122.34 582.4L1123.34 582.4L1124.34 582.4L1125.34 582.4L1126.34 582.4L1127.33 582.4L1128.33 582.4L1129.33 582.4L1130.33 582.4L1131.32 582.4L1132.32 582.4L1133.32 582.4L1134.32 582.4L1135.31 582.4L1136.31 582.4L1137.31 582.4L1138.31 582.4L1139.3 582.4L1140.3 582.4L1141.3 582.4L1142.3 582.4L1143.3 582.4L1144.29 582.4L1145.29 582.4L1146.29 582.4L1147.29 582.4L1148.28 582.4L1149.28 582.4L1150.28 582.4L1151.28 582.4L1152.27 582.4L1153.27 582.4L1154.27 582.4L1155.27 582.4L1156.27 582.4L1157.26 582.4L1158.26 582.4L1159.26 582.4L1160.26 582.4L1161.25 582.4L1162.25 582.4L1163.25 582.4L1164.25 582.4L1165.24 582.4L1166.24 582.4L1167.24 582.4L1168.24 582.4L1169.23 582.4L1170.23 582.4L1171.23 582.4L1172.23 582.4L1173.23 582.4L1174.22 582.4L1175.22 582.4L1176.22 582.4L1177.22 582.4L1178.21 582.4L1179.21 582.4L1180.21 582.4L1181.21 582.4L1182.2 582.4L1183.2 582.4L1184.2 582.4L1185.2 582.4L1186.19 582.4L1187.19 582.4L1188.19 582.4L1189.19 582.4L1190.19 582.4L1191.18 582.4L1192.18 582.4L1193.18 582.4L1194.18 582.4L1195.17 582.4L1196.17 582.4L1197.17 582.4L1198.17 582.4L1199.16 582.4L1200.16 582.4L1201.16 582.4L1202.16 582.4L1203.16 582.4L1204.15 582.4L1205.15 582.4L1206.15 582.4L1207.15 582.4L1208.14 582.4L1209.14 582.4L1210.14 582.4L1211.14 582.4L1212.13 582.4L1213.13 582.4L1214.13 582.4L1215.13 582.4L1216.12 582.4L1217.12 582.4L1218.12 582.4L1219.12 582.4L1220.12 582.4L1221.11 582.4L1222.11 582.4L1223.11 582.4L1224.11 582.4L1225.1 582.4L1226.1 582.4L1227.1 582.4L1228.1 582.4L1229.09 582.4L1230.09 582.4L1231.09 582.4L1232.09 582.4L1233.08 582.4L1234.08 582.4L1235.08 582.4L1236.08 582.4L1237.08 582.4L1238.07 582.4L1239.07 582.4L1240.07 582.4L1241.07 582.4L1242.06 582.4L1243.06 582.4L1244.06 582.4L1245.06 582.4L1246.05 582.4L1247.05 582.4L1248.05 582.4L1249.05 582.4L1250.05 582.4L1251.04 582.4L1252.04 582.4L1253.04 582.4L1254.04 582.4L1255.03 582.4L1256.03 582.4L1257.03 582.4L1258.03 582.39L1259.02 582.39L1260.02 582.38L1261.02 582.37L1262.02 582.35L1263.01 582.32L1264.01 582.27L1265.01 582.21L1266.01 582.11L1267.01 581.97L1268 581.78L1269 581.51L1270 581.14L1271 580.63L1271.99 579.95L1272.99 579.06L1273.99 577.91L1274.99 576.43L1275.98 574.58L1276.98 572.29L1277.98 569.5L1278.98 566.16L1279.98 562.22L1280.97 557.66L1281.97 552.47L1282.97 546.66L1283.97 540.3L1284.96 533.46L1285.96 526.25L1286.96 518.84L1287.96 511.41L1288.95 504.14L1289.95 497.28L1290.95 491.04L1291.95 485.64L1292.94 481.27L1293.94 478.1L1294.94 476.25L1295.94 475.8L1296.94 476.76L1297.93 479.1L1298.93 482.71L1299.93 487.48L1300.93 493.2L1301.92 499.69L1302.92 506.71L1303.92 514.05L1304.92 521.47L1305.91 528.79L1306.91 535.83L1307.91 542.43L1308.91 548.49L1309.9 553.92L1310.9 558.66L1311.9 562.69L1312.9 565.98L1313.9 568.53L1314.89 570.36L1315.89 571.45L1316.89 571.8L1317.89 571.41L1318.88 570.24L1319.88 568.25L1320.88 565.38L1321.88 561.59L1322.87 556.79L1323.87 550.92L1324.87 543.92L1325.87 535.74L1326.87 526.37L1327.86 515.82L1328.86 504.14L1329.86 491.43L1330.86 477.86L1331.85 463.63L1332.85 448.99L1333.85 434.28L1334.85 419.81L1335.84 405.99L1336.84 393.18L1337.84 381.76L1338.84 372.1L1339.83 364.5L1340.83 359.21L1341.83 356.42L1342.83 356.21L1343.83 358.6L1344.82 363.5L1345.82 370.75L1346.82 380.11L1347.82 391.27L1348.81 403.89L1349.81 417.58L1350.81 431.97L1351.81 446.68L1352.8 461.35L1353.8 475.67L1354.8 489.38L1355.8 502.26L1356.79 514.15L1357.79 524.94L1358.79 534.58L1359.79 543.05L1360.79 550.4L1361.78 556.67L1362.78 561.95L1363.78 566.34L1364.78 569.93L1365.77 572.82L1366.77 575.13L1367.77 576.95L1368.77 578.36L1369.76 579.44L1370.76 580.25L1371.76 580.86L1372.76 581.31L1373.76 581.64L1374.75 581.87L1375.75 582.04L1376.75 582.16L1377.75 582.24L1378.74 582.29L1379.74 582.33L1380.74 582.35L1381.74 582.37L1382.73 582.38L1383.73 582.39L1384.73 582.39L1385.73 582.4L1386.72 582.4L1387.72 582.4L1388.72 582.4L1389.72 582.4L1390.72 582.4L1391.71 582.4L1392.71 582.4L1393.71 582.4L1394.71 582.4L1395.7 582.4L1396.7 582.4L1397.7 582.4L1398.7 582.4L1399.69 582.4L1400.69 582.4L1401.69 582.4L1402.69 582.4L1403.69 582.4L1404.68 582.4L1405.68 582.4L1406.68 582.4L1407.68 582.4L1408.67 582.4L1409.67 582.4L1410.67 582.4L1411.67 582.4L1412.66 582.4L1413.66 582.4L1414.66 582.4L1415.66 582.4L1416.65 582.4L1417.65 582.4L1418.65 582.4L1419.65 582.4L1420.65 582.4L1421.64 582.4L1422.64 582.4L1423.64 582.4L1424.64 582.4L1425.63 582.4L1426.63 582.4L1427.63 582.4L1428.63 582.4L1429.62 582.4L1430.62 582.4L1431.62 582.4L1432.62 582.4L1433.61 582.4L1434.61 582.4L1435.61 582.4L1436.61 582.4L1437.61 582.4L1438.6 582.4L1439.6 582.4L1440.6 582.4L1441.6 582.4L1442.59 582.4L1443.59 582.4L1444.59 582.4L1445.59 582.4L1446.58 582.4L1446.58 582.4L936.78 582.4Z" fill="#F96B6E" fill-opacity="0.4" stroke="none"/>
<path d="M936.78 582.4L937.78 582.4L938.77 582.4L939.77 582.4L940.77 582.4L941.77 582.4L942.77 582.4L943.76 582.4L944.76 582.4L945.76 582.4L946.76 582.4L947.75 582.4L948.75 582.4L949.75 582.4L950.75 582.4L951.74 582.4L952.74 582.4L953.74 582.4L954.74 582.4L955.74 582.4L956.73 582.4L957.73 582.4L958.73 582.4L959.73 582.4L960.72 582.4L961.72 582.4L962.72 582.4L963.72 582.4L964.71 582.4L965.71 582.4L966.71 582.4L967.71 582.4L968.7 582.4L969.7 582.4L970.7 582.4L971.7 582.4L972.7 582.4L973.69 582.4L974.69 582.4L975.69 582.4L976.69 582.4L977.68 582.4L978.68 582.4L979.68 582.4L980.68 582.4L981.67 582.4L982.67 582.4L983.67 582.4L984.67 582.4L985.66 582.4L986.66 582.4L987.66 582.4L988.66 582.4L989.66 582.4L990.65 582.4L991.65 582.4L992.65 582.4L993.65 582.4L994.64 582.4L995.64 582.4L996.64 582.4L997.64 582.4L998.63 582.4L999.63 582.4L1000.63 582.4L1001.63 582.4L1002.63 582.4L1003.62 582.4L1004.62 582.4L1005.62 582.4L1006.62 582.4L1007.61 582.4L1008.61 582.4L1009.61 582.4L1010.61 582.4L1011.6 582.4L1012.6 582.4L1013.6 582.4L1014.6 582.4L1015.59 582.4L1016.59 582.4L1017.59 582.4L1018.59 582.4L1019.59 582.4L1020.58 582.4L1021.58 582.4L1022.58 582.4L1023.58 582.4L1024.57 582.4L1025.57 582.4L1026.57 582.4L1027.57 582.4L1028.56 582.4L1029.56 582.4L1030.56 582.4L1031.56 582.4L1032.56 582.4L1033.55 582.4L1034.55 582.4L1035.55 582.4L1036.55 582.4L1037.54 582.4L1038.54 582.4L1039.54 582.4L1040.54 582.4L1041.53 582.4L1042.53 582.4L1043.53 582.4L1044.53 582.4L1045.52 582.4L1046.52 582.4L1047.52 582.4L1048.52 582.4L1049.52 582.4L1050.51 582.4L1051.51 582.4L1052.51 582.4L1053.51 582.4L1054.5 582.4L1055.5 582.4L1056.5 582.4L1057.5 582.4L1058.49 582.4L1059.49 582.4L1060.49 582.4L1061.49 582.4L1062.48 582.4L1063.48 582.4L1064.48 582.4L1065.48 582.4L1066.48 582.4L1067.47 582.4L1068.47 582.4L1069.47 582.4L1070.47 582.4L1071.46 582.4L1072.46 582.4L1073.46 582.4L1074.46 582.4L1075.45 582.4L1076.45 582.4L1077.45 582.4L1078.45 582.4L1079.45 582.4L1080.44 582.4L1081.44 582.4L1082.44 582.4L1083.44 582.4L1084.43 582.4L1085.43 582.4L1086.43 582.4L1087.43 582.4L1088.42 582.4L1089.42 582.4L1090.42 582.4L1091.42 582.4L1092.41 582.4L1093.41 582.4L1094.41 582.4L1095.41 582.4L1096.41 582.4L1097.4 582.4L1098.4 582.4L1099.4 582.4L1100.4 582.4L1101.39 582.4L1102.39 582.4L1103.39 582.4L1104.39 582.4L1105.38 582.4L1106.38 582.4L1107.38 582.4L1108.38 582.4L1109.37 582.4L1110.37 582.4L1111.37 582.4L1112.37 582.4L1113.37 582.4L1114.36 582.4L1115.36 582.4L1116.36 582.4L1117.36 582.4L1118.35 582.4L1119.35 582.4L1120.35 582.4L1121.35 582.4L1122.34 582.4L1123.34 582.4L1124.34 582.4L1125.34 582.4L1126.34 582.4L1127.33 582.4L1128.33 582.4L1129.33 582.4L1130.33 582.4L1131.32 582.4L1132.32 582.4L1133.32 582.4L1134.32 582.4L1135.31 582.4L1136.31 582.4L1137.31 582.4L1138.31 582.4L1139.3 582.4L1140.3 582.4L1141.3 582.4L1142.3 582.4L1143.3 582.4L1144.29 582.4L1145.29 582.4L1146.29 582.4L1147.29 582.4L1148.28 582.4L1149.28 582.4L1150.28 582.4L1151.28 582.4L1152.27 582.4L1153.27 582.4L1154.27 582.4L1155.27 582.4L1156.27 582.4L1157.26 582.4L1158.26 582.4L1159.26 582.4L1160.26 582.4L1161.25 582.4L1162.25 582.4L1163.25 582.4L1164.25 582.4L1165.24 582.4L1166.24 582.4L1167.24 582.4L1168.24 582.4L1169.23 582.4L1170.23 582.4L1171.23 582.4L1172.23 582.4L1173.23 582.4L1174.22 582.4L1175.22 582.4L1176.22 582.4L1177.22 582.4L1178.21 582.4L1179.21 582.4L1180.21 582.4L1181.21 582.4L1182.2 582.4L1183.2 582.4L1184.2 582.4L1185.2 582.4L1186.19 582.4L1187.19 582.4L1188.19 582.4L1189.19 582.4L1190.19 582.4L1191.18 582.4L1192.18 582.4L1193.18 582.4L1194.18 582.4L1195.17 582.4L1196.17 582.4L1197.17 582.4L1198.17 582.4L1199.16 582.4L1200.16 582.4L1201.16 582.4L1202.16 582.4L1203.16 582.4L1204.15 582.4L1205.15 582.4L1206.15 582.4L1207.15 582.4L1208.14 582.4L1209.14 582.4L1210.14 582.4L1211.14 582.4L1212.13 582.4L1213.13 582.4L1214.13 582.4L1215.13 582.4L1216.12 582.4L1217.12 582.4L1218.12 582.4L1219.12 582.4L1220.12 582.4L1221.11 582.4L1222.11 582.4L1223.11 582.4L1224.11 582.4L1225.1 582.4L1226.1 582.4L1227.1 582.4L1228.1 582.4L1229.09 582.4L1230.09 582.4L1231.09 582.4L1232.09 582.4L1233.08 582.4L1234.08 582.4L1235.08 582.4L1236.08 582.4L1237.08 582.4L1238.07 582.4L1239.07 582.4L1240.07 582.4L1241.07 582.4L1242.06 582.4L1243.06 582.4L1244.06 582.4L1245.06 582.4L1246.05 582.4L1247.05 582.4L1248.05 582.4L1249.05 582.4L1250.05 582.4L1251.04 582.4L1252.04 582.4L1253.04 582.4L1254.04 582.4L1255.03 582.4L1256.03 582.4L1257.03 582.4L1258.03 582.39L1259.02 582.39L1260.02 582.38L1261.02 582.37L1262.02 582.35L1263.01 582.32L1264.01 582.27L1265.01 582.21L1266.01 582.11L1267.01 581.97L1268 581.78L1269 581.51L1270 581.14L1271 580.63L1271.99 579.95L1272.99 579.06L1273.99 577.91L1274.99 576.43L1275.98 574.58L1276.98 572.29L1277.98 569.5L1278.98 566.16L1279.98 562.22L1280.97 557.66L1281.97 552.47L1282.97 546.66L1283.97 540.3L1284.96 533.46L1285.96 526.25L1286.96 518.84L1287.96 511.41L1288.95 504.14L1289.95 497.28L1290.95 491.04L1291.95 485.64L1292.94 481.27L1293.94 478.1L1294.94 476.25L1295.94 475.8L1296.94 476.76L1297.93 479.1L1298.93 482.71L1299.93 487.48L1300.93 493.2L1301.92 499.69L1302.92 506.71L1303.92 514.05L1304.92 521.47L1305.91 528.79L1306.91 535.83L1307.91 542.43L1308.91 548.49L1309.9 553.92L1310.9 558.66L1311.9 562.69L1312.9 565.98L1313.9 568.53L1314.89 570.36L1315.89 571.45L1316.89 571.8L1317.89 571.41L1318.88 570.24L1319.88 568.25L1320.88 565.38L1321.88 561.59L1322.87 556.79L1323.87 550.92L1324.87 543.92L1325.87 535.74L1326.87 526.37L1327.86 515.82L1328.86 504.14L1329.86 491.43L1330.86 477.86L1331.85 463.63L1332.85 448.99L1333.85 434.28L1334.85 419.81L1335.84 405.99L1336.84 393.18L1337.84 381.76L1338.84 372.1L1339.83 364.5L1340.83 359.21L1341.83 356.42L1342.83 356.21L1343.83 358.6L1344.82 363.5L1345.82 370.75L1346.82 380.11L1347.82 391.27L1348.81 403.89L1349.81 417.58L1350.81 431.97L1351.81 446.68L1352.8 461.35L1353.8 475.67L1354.8 489.38L1355.8 502.26L1356.79 514.15L1357.79 524.94L1358.79 534.58L1359.79 543.05L1360.79 550.4L1361.78 556.67L1362.78 561.95L1363.78 566.34L1364.78 569.93L1365.77 572.82L1366.77 575.13L1367.77 576.95L1368.77 578.36L1369.76 579.44L1370.76 580.25L1371.76 580.86L1372.76 581.31L1373.76 581.64L1374.75 581.87L1375.75 582.04L1376.75 582.16L1377.75 582.24L1378.74 582.29L1379.74 582.33L1380.74 582.35L1381.74 582.37L1382.73 582.38L1383.73 582.39L1384.73 582.39L1385.73 582.4L1386.72 582.4L1387.72 582.4L1388.72 582.4L1389.72 582.4L1390.72 582.4L1391.71 582.4L1392.71 582.4L1393.71 582.4L1394.71 582.4L1395.7 582.4L1396.7 582.4L1397.7 582.4L1398.7 582.4L1399.69 582.4L1400.69 582.4L1401.69 582.4L1402.69 582.4L1403.69 582.4L1404.68 582.4L1405.68 582.4L1406.68 582.4L1407.68 582.4L1408.67 582.4L1409.67 582.4L1410.67 582.4L1411.67 582.4L1412.66 582.4L1413.66 582.4L1414.66 582.4L1415.66 582.4L1416.65 582.4L1417.65 582.4L1418.65 582.4L1419.65 582.4L1420.65 582.4L1421.64 582.4L1422.64 582.4L1423.64 582.4L1424.64 582.4L1425.63 582.4L1426.63 582.4L1427.63 582.4L1428.63 582.4L1429.62 582.4L1430.62 582.4L1431.62 582.4L1432.62 582.4L1433.61 582.4L1434.61 582.4L1435.61 582.4L1436.61 582.4L1437.61 582.4L1438.6 582.4L1439.6 582.4L1440.6 582.4L1441.6 582.4L1442.59 582.4L1443.59 582.4L1444.59 582.4L1445.59 582.4L1446.58 582.4" fill="none" stroke="#000" stroke-width="3.3" stroke-linejoin="round" stroke-linecap="butt"/>
</g>
<rect x="1471.9" y="345" width="55.9" height="248.8" fill="#D9D9D9"/>
<text transform="translate(1499.85 469.4) rotate(90)" x="0" y="11.17" text-anchor="middle" font-size="31.2" fill="#1A1A1A">3</text>
<text x="895.2" y="593.87" text-anchor="end" font-size="31.2" fill="#4D4D4D">0</text>
<text x="895.2" y="533.97" text-anchor="end" font-size="31.2" fill="#4D4D4D">5</text>
<text x="895.2" y="474.07" text-anchor="end" font-size="31.2" fill="#4D4D4D">10</text>
<text x="895.2" y="414.17" text-anchor="end" font-size="31.2" fill="#4D4D4D">15</text>
<path d="M902.2 582.4H911M902.2 522.5H911M902.2 462.6H911M902.2 402.7H911" stroke="#333333" stroke-width="3.4" fill="none"/>
</g>
<g>
<rect x="911" y="612" width="560.9" height="247.8" fill="#EBEBEB"/>
<g clip-path="url(#cp12)">
<path d="M911 816.29H1471.9M911 750.76H1471.9M911 685.24H1471.9M911 619.71H1471.9M975.67 612V859.8M1103.81 612V859.8M1231.95 612V859.8M1360.09 612V859.8" stroke="#fff" stroke-width="1.7" fill="none"/>
<path d="M911 849.05H1471.9M911 783.52H1471.9M911 718H1471.9M911 652.47H1471.9M911.6 612V859.8M1039.74 612V859.8M1167.88 612V859.8M1296.02 612V859.8M1424.16 612V859.8" stroke="#fff" stroke-width="3.4" fill="none"/>
<path d="M936.78 849.05L937.78 849.05L938.77 849.05L939.77 849.05L940.77 849.05L941.77 849.05L942.77 849.05L943.76 849.05L944.76 849.05L945.76 849.05L946.76 849.05L947.75 849.05L948.75 849.05L949.75 849.05L950.75 849.05L951.74 849.05L952.74 849.05L953.74 849.05L954.74 849.05L955.74 849.05L956.73 849.05L957.73 849.04L958.73 848.97L959.73 848.48L960.72 846.4L961.72 840.67L962.72 830.32L963.72 815.66L964.71 792.81L965.71 763.72L966.71 752.9L967.71 764.87L968.7 762.62L969.7 727.79L970.7 677.21L971.7 635.1L972.7 619.74L973.69 637.83L974.69 681.84L975.69 735.3L976.69 782.55L977.68 815.64L978.68 834.62L979.68 843.7L980.68 847.33L981.67 848.51L982.67 848.62L983.67 847.94L984.67 846.13L985.66 842.89L986.66 838.8L987.66 835.59L988.66 835.1L989.66 837.64L990.65 841.68L991.65 845.3L992.65 847.54L993.65 848.57L994.64 848.93L995.64 849.03L996.64 849.05L997.64 849.05L998.63 849.05L999.63 849.05L1000.63 849.05L1001.63 849.05L1002.63 849.05L1003.62 849.05L1004.62 849.05L1005.62 849.05L1006.62 849.05L1007.61 849.05L1008.61 849.05L1009.61 849.05L1010.61 849.05L1011.6 849.05L1012.6 849.05L1013.6 849.05L1014.6 849.05L1015.59 849.05L1016.59 849.05L1017.59 849.05L1018.59 849.05L1019.59 849.05L1020.58 849.05L1021.58 849.05L1022.58 849.05L1023.58 849.05L1024.57 849.05L1025.57 849.05L1026.57 849.05L1027.57 849.05L1028.56 849.05L1029.56 849.05L1030.56 849.05L1031.56 849.05L1032.56 849.05L1033.55 849.05L1034.55 849.05L1035.55 849.05L1036.55 849.05L1037.54 849.05L1038.54 849.05L1039.54 849.05L1040.54 849.05L1041.53 849.05L1042.53 849.05L1043.53 849.05L1044.53 849.05L1045.52 849.05L1046.52 849.05L1047.52 849.05L1048.52 849.05L1049.52 849.05L1050.51 849.05L1051.51 849.05L1052.51 849.05L1053.51 849.05L1054.5 849.05L1055.5 849.05L1056.5 849.05L1057.5 849.05L1058.49 849.05L1059.49 849.05L1060.49 849.05L1061.49 849.05L1062.48 849.05L1063.48 849.05L1064.48 849.05L1065.48 849.05L1066.48 849.05L1067.47 849.05L1068.47 849.05L1069.47 849.05L1070.47 849.05L1071.46 849.05L1072.46 849.05L1073.46 849.05L1074.46 849.05L1075.45 849.05L1076.45 849.05L1077.45 849.05L1078.45 849.05L1079.45 849.05L1080.44 849.05L1081.44 849.05L1082.44 849.05L1083.44 849.05L1084.43 849.05L1085.43 849.05L1086.43 849.05L1087.43 849.05L1088.42 849.05L1089.42 849.05L1090.42 849.05L1091.42 849.05L1092.41 849.05L1093.41 849.05L1094.41 849.05L1095.41 849.05L1096.41 849.05L1097.4 849.05L1098.4 849.05L1099.4 849.05L1100.4 849.05L1101.39 849.05L1102.39 849.05L1103.39 849.05L1104.39 849.05L1105.38 849.05L1106.38 849.05L1107.38 849.05L1108.38 849.05L1109.37 849.05L1110.37 849.05L1111.37 849.05L1112.37 849.05L1113.37 849.05L1114.36 849.05L1115.36 849.05L1116.36 849.05L1117.36 849.05L1118.35 849.05L1119.35 849.05L1120.35 849.05L1121.35 849.05L1122.34 849.05L1123.34 849.05L1124.34 849.05L1125.34 849.05L1126.34 849.05L1127.33 849.05L1128.33 849.05L1129.33 849.05L1130.33 849.05L1131.32 849.05L1132.32 849.05L1133.32 849.05L1134.32 849.05L1135.31 849.05L1136.31 849.05L1137.31 849.05L1138.31 849.05L1139.3 849.05L1140.3 849.05L1141.3 849.05L1142.3 849.05L1143.3 849.05L1144.29 849.05L1145.29 849.05L1146.29 849.05L1147.29 849.05L1148.28 849.05L1149.28 849.05L1150.28 849.05L1151.28 849.05L1152.27 849.05L1153.27 849.05L1154.27 849.05L1155.27 849.05L1156.27 849.05L1157.26 849.05L1158.26 849.05L1159.26 849.05L1160.26 849.05L1161.25 849.05L1162.25 849.05L1163.25 849.05L1164.25 849.05L1165.24 849.05L1166.24 849.05L1167.24 849.05L1168.24 849.05L1169.23 849.05L1170.23 849.05L1171.23 849.05L1172.23 849.05L1173.23 849.05L1174.22 849.05L1175.22 849.05L1176.22 849.05L1177.22 849.05L1178.21 849.05L1179.21 849.05L1180.21 849.05L1181.21 849.05L1182.2 849.05L1183.2 849.05L1184.2 849.05L1185.2 849.05L1186.19 849.05L1187.19 849.05L1188.19 849.05L1189.19 849.05L1190.19 849.05L1191.18 849.05L1192.18 849.05L1193.18 849.05L1194.18 849.05L1195.17 849.05L1196.17 849.05L1197.17 849.05L1198.17 849.05L1199.16 849.05L1200.16 849.05L1201.16 849.05L1202.16 849.05L1203.16 849.05L1204.15 849.05L1205.15 849.05L1206.15 849.05L1207.15 849.05L1208.14 849.05L1209.14 849.05L1210.14 849.05L1211.14 849.05L1212.13 849.05L1213.13 849.05L1214.13 849.05L1215.13 849.05L1216.12 849.05L1217.12 849.05L1218.12 849.05L1219.12 849.05L1220.12 849.05L1221.11 849.05L1222.11 849.05L1223.11 849.05L1224.11 849.05L1225.1 849.05L1226.1 849.05L1227.1 849.05L1228.1 849.05L1229.09 849.05L1230.09 849.05L1231.09 849.05L1232.09 849.05L1233.08 849.05L1234.08 849.05L1235.08 849.05L1236.08 849.05L1237.08 849.05L1238.07 849.05L1239.07 849.05L1240.07 849.05L1241.07 849.05L1242.06 849.05L1243.06 849.05L1244.06 849.05L1245.06 849.05L1246.05 849.05L1247.05 849.05L1248.05 849.05L1249.05 849.05L1250.05 849.05L1251.04 849.05L1252.04 849.05L1253.04 849.05L1254.04 849.05L1255.03 849.05L1256.03 849.05L1257.03 849.05L1258.03 849.05L1259.02 849.05L1260.02 849.05L1261.02 849.05L1262.02 849.05L1263.01 849.05L1264.01 849.05L1265.01 849.05L1266.01 849.05L1267.01 849.05L1268 849.05L1269 849.05L1270 849.05L1271 849.05L1271.99 849.05L1272.99 849.05L1273.99 849.05L1274.99 849.05L1275.98 849.05L1276.98 849.05L1277.98 849.05L1278.98 849.05L1279.98 849.05L1280.97 849.05L1281.97 849.05L1282.97 849.05L1283.97 849.05L1284.96 849.05L1285.96 849.05L1286.96 849.05L1287.96 849.05L1288.95 849.05L1289.95 849.05L1290.95 849.05L1291.95 849.05L1292.94 849.05L1293.94 849.05L1294.94 849.05L1295.94 849.05L1296.94 849.05L1297.93 849.05L1298.93 849.05L1299.93 849.05L1300.93 849.05L1301.92 849.05L1302.92 849.05L1303.92 849.05L1304.92 849.05L1305.91 849.05L1306.91 849.05L1307.91 849.05L1308.91 849.05L1309.9 849.05L1310.9 849.05L1311.9 849.05L1312.9 849.05L1313.9 849.05L1314.89 849.05L1315.89 849.05L1316.89 849.05L1317.89 849.05L1318.88 849.05L1319.88 849.05L1320.88 849.05L1321.88 849.05L1322.87 849.05L1323.87 849.05L1324.87 849.05L1325.87 849.05L1326.87 849.05L1327.86 849.05L1328.86 849.05L1329.86 849.05L1330.86 849.05L1331.85 849.05L1332.85 849.05L1333.85 849.05L1334.85 849.05L1335.84 849.05L1336.84 849.05L1337.84 849.05L1338.84 849.05L1339.83 849.05L1340.83 849.05L1341.83 849.05L1342.83 849.05L1343.83 849.05L1344.82 849.05L1345.82 849.05L1346.82 849.05L1347.82 849.05L1348.81 849.05L1349.81 849.05L1350.81 849.05L1351.81 849.05L1352.8 849.05L1353.8 849.05L1354.8 849.05L1355.8 849.05L1356.79 849.05L1357.79 849.05L1358.79 849.05L1359.79 849.05L1360.79 849.05L1361.78 849.05L1362.78 849.05L1363.78 849.05L1364.78 849.05L1365.77 849.05L1366.77 849.05L1367.77 849.05L1368.77 849.05L1369.76 849.05L1370.76 849.05L1371.76 849.05L1372.76 849.05L1373.76 849.05L1374.75 849.05L1375.75 849.05L1376.75 849.05L1377.75 849.05L1378.74 849.05L1379.74 849.05L1380.74 849.05L1381.74 849.05L1382.73 849.05L1383.73 849.05L1384.73 849.05L1385.73 849.05L1386.72 849.05L1387.72 849.05L1388.72 849.05L1389.72 849.05L1390.72 849.05L1391.71 849.05L1392.71 849.05L1393.71 849.05L1394.71 849.05L1395.7 849.05L1396.7 849.05L1397.7 849.05L1398.7 849.05L1399.69 849.05L1400.69 849.05L1401.69 849.05L1402.69 849.05L1403.69 849.05L1404.68 849.05L1405.68 849.05L1406.68 849.05L1407.68 849.05L1408.67 849.05L1409.67 849.05L1410.67 849.05L1411.67 849.05L1412.66 849.05L1413.66 849.05L1414.66 849.05L1415.66 849.05L1416.65 849.05L1417.65 849.05L1418.65 849.05L1419.65 849.05L1420.65 849.05L1421.64 849.05L1422.64 849.05L1423.64 849.05L1424.64 849.05L1425.63 849.05L1426.63 849.05L1427.63 849.05L1428.63 849.05L1429.62 849.05L1430.62 849.05L1431.62 849.05L1432.62 849.05L1433.61 849.05L1434.61 849.05L1435.61 849.05L1436.61 849.05L1437.61 849.05L1438.6 849.05L1439.6 849.05L1440.6 849.05L1441.6 849.05L1442.59 849.05L1443.59 849.05L1444.59 849.05L1445.59 849.05L1446.58 849.05L1446.58 849.05L936.78 849.05Z" fill="#F96B6E" fill-opacity="0.4" stroke="none"/>
<path d="M936.78 849.05L937.78 849.05L938.77 849.05L939.77 849.05L940.77 849.05L941.77 849.05L942.77 849.05L943.76 849.05L944.76 849.05L945.76 849.05L946.76 849.05L947.75 849.05L948.75 849.05L949.75 849.05L950.75 849.05L951.74 849.05L952.74 849.05L953.74 849.05L954.74 849.05L955.74 849.05L956.73 849.05L957.73 849.04L958.73 848.97L959.73 848.48L960.72 846.4L961.72 840.67L962.72 830.32L963.72 815.66L964.71 792.81L965.71 763.72L966.71 752.9L967.71 764.87L968.7 762.62L969.7 727.79L970.7 677.21L971.7 635.1L972.7 619.74L973.69 637.83L974.69 681.84L975.69 735.3L976.69 782.55L977.68 815.64L978.68 834.62L979.68 843.7L980.68 847.33L981.67 848.51L982.67 848.62L983.67 847.94L984.67 846.13L985.66 842.89L986.66 838.8L987.66 835.59L988.66 835.1L989.66 837.64L990.65 841.68L991.65 845.3L992.65 847.54L993.65 848.57L994.64 848.93L995.64 849.03L996.64 849.05L997.64 849.05L998.63 849.05L999.63 849.05L1000.63 849.05L1001.63 849.05L1002.63 849.05L1003.62 849.05L1004.62 849.05L1005.62 849.05L1006.62 849.05L1007.61 849.05L1008.61 849.05L1009.61 849.05L1010.61 849.05L1011.6 849.05L1012.6 849.05L1013.6 849.05L1014.6 849.05L1015.59 849.05L1016.59 849.05L1017.59 849.05L1018.59 849.05L1019.59 849.05L1020.58 849.05L1021.58 849.05L1022.58 849.05L1023.58 849.05L1024.57 849.05L1025.57 849.05L1026.57 849.05L1027.57 849.05L1028.56 849.05L1029.56 849.05L1030.56 849.05L1031.56 849.05L1032.56 849.05L1033.55 849.05L1034.55 849.05L1035.55 849.05L1036.55 849.05L1037.54 849.05L1038.54 849.05L1039.54 849.05L1040.54 849.05L1041.53 849.05L1042.53 849.05L1043.53 849.05L1044.53 849.05L1045.52 849.05L1046.52 849.05L1047.52 849.05L1048.52 849.05L1049.52 849.05L1050.51 849.05L1051.51 849.05L1052.51 849.05L1053.51 849.05L1054.5 849.05L1055.5 849.05L1056.5 849.05L1057.5 849.05L1058.49 849.05L1059.49 849.05L1060.49 849.05L1061.49 849.05L1062.48 849.05L1063.48 849.05L1064.48 849.05L1065.48 849.05L1066.48 849.05L1067.47 849.05L1068.47 849.05L1069.47 849.05L1070.47 849.05L1071.46 849.05L1072.46 849.05L1073.46 849.05L1074.46 849.05L1075.45 849.05L1076.45 849.05L1077.45 849.05L1078.45 849.05L1079.45 849.05L1080.44 849.05L1081.44 849.05L1082.44 849.05L1083.44 849.05L1084.43 849.05L1085.43 849.05L1086.43 849.05L1087.43 849.05L1088.42 849.05L1089.42 849.05L1090.42 849.05L1091.42 849.05L1092.41 849.05L1093.41 849.05L1094.41 849.05L1095.41 849.05L1096.41 849.05L1097.4 849.05L1098.4 849.05L1099.4 849.05L1100.4 849.05L1101.39 849.05L1102.39 849.05L1103.39 849.05L1104.39 849.05L1105.38 849.05L1106.38 849.05L1107.38 849.05L1108.38 849.05L1109.37 849.05L1110.37 849.05L1111.37 849.05L1112.37 849.05L1113.37 849.05L1114.36 849.05L1115.36 849.05L1116.36 849.05L1117.36 849.05L1118.35 849.05L1119.35 849.05L1120.35 849.05L1121.35 849.05L1122.34 849.05L1123.34 849.05L1124.34 849.05L1125.34 849.05L1126.34 849.05L1127.33 849.05L1128.33 849.05L1129.33 849.05L1130.33 849.05L1131.32 849.05L1132.32 849.05L1133.32 849.05L1134.32 849.05L1135.31 849.05L1136.31 849.05L1137.31 849.05L1138.31 849.05L1139.3 849.05L1140.3 849.05L1141.3 849.05L1142.3 849.05L1143.3 849.05L1144.29 849.05L1145.29 849.05L1146.29 849.05L1147.29 849.05L1148.28 849.05L1149.28 849.05L1150.28 849.05L1151.28 849.05L1152.27 849.05L1153.27 849.05L1154.27 849.05L1155.27 849.05L1156.27 849.05L1157.26 849.05L1158.26 849.05L1159.26 849.05L1160.26 849.05L1161.25 849.05L1162.25 849.05L1163.25 849.05L1164.25 849.05L1165.24 849.05L1166.24 849.05L1167.24 849.05L1168.24 849.05L1169.23 849.05L1170.23 849.05L1171.23 849.05L1172.23 849.05L1173.23 849.05L1174.22 849.05L1175.22 849.05L1176.22 849.05L1177.22 849.05L1178.21 849.05L1179.21 849.05L1180.21 849.05L1181.21 849.05L1182.2 849.05L1183.2 849.05L1184.2 849.05L1185.2 849.05L1186.19 849.05L1187.19 849.05L1188.19 849.05L1189.19 849.05L1190.19 849.05L1191.18 849.05L1192.18 849.05L1193.18 849.05L1194.18 849.05L1195.17 849.05L1196.17 849.05L1197.17 849.05L1198.17 849.05L1199.16 849.05L1200.16 849.05L1201.16 849.05L1202.16 849.05L1203.16 849.05L1204.15 849.05L1205.15 849.05L1206.15 849.05L1207.15 849.05L1208.14 849.05L1209.14 849.05L1210.14 849.05L1211.14 849.05L1212.13 849.05L1213.13 849.05L1214.13 849.05L1215.13 849.05L1216.12 849.05L1217.12 849.05L1218.12 849.05L1219.12 849.05L1220.12 849.05L1221.11 849.05L1222.11 849.05L1223.11 849.05L1224.11 849.05L1225.1 849.05L1226.1 849.05L1227.1 849.05L1228.1 849.05L1229.09 849.05L1230.09 849.05L1231.09 849.05L1232.09 849.05L1233.08 849.05L1234.08 849.05L1235.08 849.05L1236.08 849.05L1237.08 849.05L1238.07 849.05L1239.07 849.05L1240.07 849.05L1241.07 849.05L1242.06 849.05L1243.06 849.05L1244.06 849.05L1245.06 849.05L1246.05 849.05L1247.05 849.05L1248.05 849.05L1249.05 849.05L1250.05 849.05L1251.04 849.05L1252.04 849.05L1253.04 849.05L1254.04 849.05L1255.03 849.05L1256.03 849.05L1257.03 849.05L1258.03 849.05L1259.02 849.05L1260.02 849.05L1261.02 849.05L1262.02 849.05L1263.01 849.05L1264.01 849.05L1265.01 849.05L1266.01 849.05L1267.01 849.05L1268 849.05L1269 849.05L1270 849.05L1271 849.05L1271.99 849.05L1272.99 849.05L1273.99 849.05L1274.99 849.05L1275.98 849.05L1276.98 849.05L1277.98 849.05L1278.98 849.05L1279.98 849.05L1280.97 849.05L1281.97 849.05L1282.97 849.05L1283.97 849.05L1284.96 849.05L1285.96 849.05L1286.96 849.05L1287.96 849.05L1288.95 849.05L1289.95 849.05L1290.95 849.05L1291.95 849.05L1292.94 849.05L1293.94 849.05L1294.94 849.05L1295.94 849.05L1296.94 849.05L1297.93 849.05L1298.93 849.05L1299.93 849.05L1300.93 849.05L1301.92 849.05L1302.92 849.05L1303.92 849.05L1304.92 849.05L1305.91 849.05L1306.91 849.05L1307.91 849.05L1308.91 849.05L1309.9 849.05L1310.9 849.05L1311.9 849.05L1312.9 849.05L1313.9 849.05L1314.89 849.05L1315.89 849.05L1316.89 849.05L1317.89 849.05L1318.88 849.05L1319.88 849.05L1320.88 849.05L1321.88 849.05L1322.87 849.05L1323.87 849.05L1324.87 849.05L1325.87 849.05L1326.87 849.05L1327.86 849.05L1328.86 849.05L1329.86 849.05L1330.86 849.05L1331.85 849.05L1332.85 849.05L1333.85 849.05L1334.85 849.05L1335.84 849.05L1336.84 849.05L1337.84 849.05L1338.84 849.05L1339.83 849.05L1340.83 849.05L1341.83 849.05L1342.83 849.05L1343.83 849.05L1344.82 849.05L1345.82 849.05L1346.82 849.05L1347.82 849.05L1348.81 849.05L1349.81 849.05L1350.81 849.05L1351.81 849.05L1352.8 849.05L1353.8 849.05L1354.8 849.05L1355.8 849.05L1356.79 849.05L1357.79 849.05L1358.79 849.05L1359.79 849.05L1360.79 849.05L1361.78 849.05L1362.78 849.05L1363.78 849.05L1364.78 849.05L1365.77 849.05L1366.77 849.05L1367.77 849.05L1368.77 849.05L1369.76 849.05L1370.76 849.05L1371.76 849.05L1372.76 849.05L1373.76 849.05L1374.75 849.05L1375.75 849.05L1376.75 849.05L1377.75 849.05L1378.74 849.05L1379.74 849.05L1380.74 849.05L1381.74 849.05L1382.73 849.05L1383.73 849.05L1384.73 849.05L1385.73 849.05L1386.72 849.05L1387.72 849.05L1388.72 849.05L1389.72 849.05L1390.72 849.05L1391.71 849.05L1392.71 849.05L1393.71 849.05L1394.71 849.05L1395.7 849.05L1396.7 849.05L1397.7 849.05L1398.7 849.05L1399.69 849.05L1400.69 849.05L1401.69 849.05L1402.69 849.05L1403.69 849.05L1404.68 849.05L1405.68 849.05L1406.68 849.05L1407.68 849.05L1408.67 849.05L1409.67 849.05L1410.67 849.05L1411.67 849.05L1412.66 849.05L1413.66 849.05L1414.66 849.05L1415.66 849.05L1416.65 849.05L1417.65 849.05L1418.65 849.05L1419.65 849.05L1420.65 849.05L1421.64 849.05L1422.64 849.05L1423.64 849.05L1424.64 849.05L1425.63 849.05L1426.63 849.05L1427.63 849.05L1428.63 849.05L1429.62 849.05L1430.62 849.05L1431.62 849.05L1432.62 849.05L1433.61 849.05L1434.61 849.05L1435.61 849.05L1436.61 849.05L1437.61 849.05L1438.6 849.05L1439.6 849.05L1440.6 849.05L1441.6 849.05L1442.59 849.05L1443.59 849.05L1444.59 849.05L1445.59 849.05L1446.58 849.05" fill="none" stroke="#000" stroke-width="3.3" stroke-linejoin="round" stroke-linecap="butt"/>
</g>
<rect x="1471.9" y="612" width="55.9" height="247.8" fill="#D9D9D9"/>
<text transform="translate(1499.85 735.9) rotate(90)" x="0" y="11.17" text-anchor="middle" font-size="31.2" fill="#1A1A1A">1</text>
<text x="895.2" y="860.52" text-anchor="end" font-size="31.2" fill="#4D4D4D">0</text>
<text x="895.2" y="794.99" text-anchor="end" font-size="31.2" fill="#4D4D4D">25</text>
<text x="895.2" y="729.47" text-anchor="end" font-size="31.2" fill="#4D4D4D">50</text>
<text x="895.2" y="663.94" text-anchor="end" font-size="31.2" fill="#4D4D4D">75</text>
<path d="M902.2 849.05H911M902.2 783.52H911M902.2 718H911M902.2 652.47H911" stroke="#333333" stroke-width="3.4" fill="none"/>
</g>
<g>
<rect x="911" y="878.1" width="560.9" height="247.6" fill="#EBEBEB"/>
<g clip-path="url(#cp13)">
<path d="M911 1077.67H1471.9M911 1002.42H1471.9M911 927.17H1471.9M975.67 878.1V1125.7M1103.81 878.1V1125.7M1231.95 878.1V1125.7M1360.09 878.1V1125.7" stroke="#fff" stroke-width="1.7" fill="none"/>
<path d="M911 1115.3H1471.9M911 1040.05H1471.9M911 964.8H1471.9M911 889.55H1471.9M911.6 878.1V1125.7M1039.74 878.1V1125.7M1167.88 878.1V1125.7M1296.02 878.1V1125.7M1424.16 878.1V1125.7" stroke="#fff" stroke-width="3.4" fill="none"/>
<path d="M936.78 1094.58L937.78 1093.68L938.77 1092.51L939.77 1090.96L940.77 1088.94L941.77 1086.37L942.77 1083.17L943.76 1079.27L944.76 1074.61L945.76 1069.15L946.76 1062.88L947.75 1055.79L948.75 1047.89L949.75 1039.22L950.75 1029.84L951.74 1019.81L952.74 1009.23L953.74 998.23L954.74 986.93L955.74 975.48L956.73 964.05L957.73 952.83L958.73 941.98L959.73 931.71L960.72 922.19L961.72 913.61L962.72 906.13L963.72 899.9L964.71 895.06L965.71 891.69L966.71 889.88L967.71 889.65L968.7 891.02L969.7 893.95L970.7 898.39L971.7 904.24L972.7 911.38L973.69 919.67L974.69 928.95L975.69 939.04L976.69 949.76L977.68 960.93L978.68 972.35L979.68 983.87L980.68 995.31L981.67 1006.52L982.67 1017.38L983.67 1027.76L984.67 1037.59L985.66 1046.79L986.66 1055.31L987.66 1063.11L988.66 1070.18L989.66 1076.52L990.65 1082.14L991.65 1087.05L992.65 1091.29L993.65 1094.88L994.64 1097.87L995.64 1100.27L996.64 1102.12L997.64 1103.46L998.63 1104.3L999.63 1104.66L1000.63 1104.56L1001.63 1104.01L1002.63 1103.01L1003.62 1101.58L1004.62 1099.71L1005.62 1097.41L1006.62 1094.67L1007.61 1091.53L1008.61 1087.98L1009.61 1084.05L1010.61 1079.78L1011.6 1075.2L1012.6 1070.38L1013.6 1065.38L1014.6 1060.27L1015.59 1055.14L1016.59 1050.09L1017.59 1045.2L1018.59 1040.59L1019.59 1036.36L1020.58 1032.59L1021.58 1029.39L1022.58 1026.82L1023.58 1024.95L1024.57 1023.83L1025.57 1023.5L1026.57 1023.94L1027.57 1025.17L1028.56 1027.13L1029.56 1029.8L1030.56 1033.09L1031.56 1036.93L1032.56 1041.23L1033.55 1045.89L1034.55 1050.82L1035.55 1055.91L1036.55 1061.06L1037.54 1066.19L1038.54 1071.22L1039.54 1076.07L1040.54 1080.68L1041.53 1085.02L1042.53 1089.04L1043.53 1092.71L1044.53 1096.05L1045.52 1099.02L1046.52 1101.66L1047.52 1103.97L1048.52 1105.96L1049.52 1107.68L1050.51 1109.13L1051.51 1110.34L1052.51 1111.36L1053.51 1112.19L1054.5 1112.86L1055.5 1113.41L1056.5 1113.85L1057.5 1114.19L1058.49 1114.46L1059.49 1114.67L1060.49 1114.83L1061.49 1114.96L1062.48 1115.05L1063.48 1115.12L1064.48 1115.17L1065.48 1115.21L1066.48 1115.23L1067.47 1115.25L1068.47 1115.27L1069.47 1115.28L1070.47 1115.29L1071.46 1115.29L1072.46 1115.29L1073.46 1115.3L1074.46 1115.3L1075.45 1115.3L1076.45 1115.3L1077.45 1115.3L1078.45 1115.3L1079.45 1115.3L1080.44 1115.3L1081.44 1115.3L1082.44 1115.3L1083.44 1115.3L1084.43 1115.3L1085.43 1115.3L1086.43 1115.3L1087.43 1115.3L1088.42 1115.3L1089.42 1115.3L1090.42 1115.3L1091.42 1115.3L1092.41 1115.3L1093.41 1115.3L1094.41 1115.3L1095.41 1115.3L1096.41 1115.3L1097.4 1115.3L1098.4 1115.3L1099.4 1115.3L1100.4 1115.3L1101.39 1115.3L1102.39 1115.3L1103.39 1115.3L1104.39 1115.3L1105.38 1115.3L1106.38 1115.3L1107.38 1115.3L1108.38 1115.3L1109.37 1115.3L1110.37 1115.3L1111.37 1115.3L1112.37 1115.3L1113.37 1115.3L1114.36 1115.3L1115.36 1115.3L1116.36 1115.3L1117.36 1115.3L1118.35 1115.3L1119.35 1115.3L1120.35 1115.3L1121.35 1115.3L1122.34 1115.3L1123.34 1115.3L1124.34 1115.3L1125.34 1115.3L1126.34 1115.3L1127.33 1115.3L1128.33 1115.3L1129.33 1115.3L1130.33 1115.3L1131.32 1115.3L1132.32 1115.3L1133.32 1115.3L1134.32 1115.3L1135.31 1115.3L1136.31 1115.3L1137.31 1115.3L1138.31 1115.3L1139.3 1115.3L1140.3 1115.3L1141.3 1115.3L1142.3 1115.3L1143.3 1115.3L1144.29 1115.3L1145.29 1115.3L1146.29 1115.3L1147.29 1115.3L1148.28 1115.3L1149.28 1115.3L1150.28 1115.3L1151.28 1115.3L1152.27 1115.3L1153.27 1115.3L1154.27 1115.3L1155.27 1115.3L1156.27 1115.3L1157.26 1115.3L1158.26 1115.3L1159.26 1115.3L1160.26 1115.3L1161.25 1115.3L1162.25 1115.3L1163.25 1115.3L1164.25 1115.3L1165.24 1115.3L1166.24 1115.3L1167.24 1115.3L1168.24 1115.3L1169.23 1115.3L1170.23 1115.3L1171.23 1115.3L1172.23 1115.3L1173.23 1115.3L1174.22 1115.3L1175.22 1115.3L1176.22 1115.3L1177.22 1115.3L1178.21 1115.3L1179.21 1115.3L1180.21 1115.3L1181.21 1115.3L1182.2 1115.3L1183.2 1115.3L1184.2 1115.3L1185.2 1115.3L1186.19 1115.3L1187.19 1115.3L1188.19 1115.3L1189.19 1115.3L1190.19 1115.3L1191.18 1115.3L1192.18 1115.3L1193.18 1115.3L1194.18 1115.3L1195.17 1115.3L1196.17 1115.3L1197.17 1115.3L1198.17 1115.3L1199.16 1115.3L1200.16 1115.3L1201.16 1115.3L1202.16 1115.3L1203.16 1115.3L1204.15 1115.3L1205.15 1115.3L1206.15 1115.3L1207.15 1115.3L1208.14 1115.3L1209.14 1115.3L1210.14 1115.3L1211.14 1115.3L1212.13 1115.3L1213.13 1115.3L1214.13 1115.3L1215.13 1115.3L1216.12 1115.3L1217.12 1115.3L1218.12 1115.3L1219.12 1115.3L1220.12 1115.3L1221.11 1115.3L1222.11 1115.3L1223.11 1115.3L1224.11 1115.3L1225.1 1115.3L1226.1 1115.3L1227.1 1115.3L1228.1 1115.3L1229.09 1115.3L1230.09 1115.3L1231.09 1115.3L1232.09 1115.3L1233.08 1115.3L1234.08 1115.3L1235.08 1115.3L1236.08 1115.3L1237.08 1115.3L1238.07 1115.3L1239.07 1115.3L1240.07 1115.3L1241.07 1115.3L1242.06 1115.3L1243.06 1115.3L1244.06 1115.3L1245.06 1115.3L1246.05 1115.3L1247.05 1115.3L1248.05 1115.3L1249.05 1115.3L1250.05 1115.3L1251.04 1115.3L1252.04 1115.3L1253.04 1115.3L1254.04 1115.3L1255.03 1115.3L1256.03 1115.3L1257.03 1115.3L1258.03 1115.3L1259.02 1115.3L1260.02 1115.3L1261.02 1115.3L1262.02 1115.3L1263.01 1115.3L1264.01 1115.3L1265.01 1115.3L1266.01 1115.3L1267.01 1115.3L1268 1115.3L1269 1115.3L1270 1115.3L1271 1115.3L1271.99 1115.3L1272.99 1115.3L1273.99 1115.3L1274.99 1115.3L1275.98 1115.3L1276.98 1115.3L1277.98 1115.3L1278.98 1115.3L1279.98 1115.3L1280.97 1115.3L1281.97 1115.3L1282.97 1115.3L1283.97 1115.3L1284.96 1115.3L1285.96 1115.3L1286.96 1115.3L1287.96 1115.3L1288.95 1115.3L1289.95 1115.3L1290.95 1115.3L1291.95 1115.3L1292.94 1115.3L1293.94 1115.3L1294.94 1115.3L1295.94 1115.3L1296.94 1115.3L1297.93 1115.3L1298.93 1115.3L1299.93 1115.3L1300.93 1115.3L1301.92 1115.3L1302.92 1115.3L1303.92 1115.3L1304.92 1115.3L1305.91 1115.3L1306.91 1115.3L1307.91 1115.3L1308.91 1115.3L1309.9 1115.3L1310.9 1115.3L1311.9 1115.3L1312.9 1115.3L1313.9 1115.3L1314.89 1115.3L1315.89 1115.3L1316.89 1115.3L1317.89 1115.3L1318.88 1115.3L1319.88 1115.3L1320.88 1115.3L1321.88 1115.3L1322.87 1115.3L1323.87 1115.3L1324.87 1115.3L1325.87 1115.3L1326.87 1115.3L1327.86 1115.3L1328.86 1115.3L1329.86 1115.3L1330.86 1115.3L1331.85 1115.3L1332.85 1115.3L1333.85 1115.3L1334.85 1115.3L1335.84 1115.3L1336.84 1115.3L1337.84 1115.3L1338.84 1115.3L1339.83 1115.3L1340.83 1115.3L1341.83 1115.3L1342.83 1115.3L1343.83 1115.3L1344.82 1115.3L1345.82 1115.3L1346.82 1115.3L1347.82 1115.3L1348.81 1115.3L1349.81 1115.3L1350.81 1115.3L1351.81 1115.3L1352.8 1115.3L1353.8 1115.3L1354.8 1115.3L1355.8 1115.3L1356.79 1115.3L1357.79 1115.3L1358.79 1115.3L1359.79 1115.3L1360.79 1115.3L1361.78 1115.3L1362.78 1115.3L1363.78 1115.3L1364.78 1115.3L1365.77 1115.3L1366.77 1115.3L1367.77 1115.3L1368.77 1115.3L1369.76 1115.3L1370.76 1115.3L1371.76 1115.3L1372.76 1115.3L1373.76 1115.3L1374.75 1115.3L1375.75 1115.3L1376.75 1115.3L1377.75 1115.3L1378.74 1115.3L1379.74 1115.3L1380.74 1115.3L1381.74 1115.3L1382.73 1115.3L1383.73 1115.3L1384.73 1115.3L1385.73 1115.3L1386.72 1115.3L1387.72 1115.3L1388.72 1115.3L1389.72 1115.3L1390.72 1115.3L1391.71 1115.3L1392.71 1115.3L1393.71 1115.3L1394.71 1115.3L1395.7 1115.3L1396.7 1115.3L1397.7 1115.3L1398.7 1115.3L1399.69 1115.3L1400.69 1115.3L1401.69 1115.3L1402.69 1115.3L1403.69 1115.3L1404.68 1115.3L1405.68 1115.3L1406.68 1115.3L1407.68 1115.3L1408.67 1115.3L1409.67 1115.3L1410.67 1115.3L1411.67 1115.3L1412.66 1115.3L1413.66 1115.3L1414.66 1115.3L1415.66 1115.3L1416.65 1115.3L1417.65 1115.3L1418.65 1115.3L1419.65 1115.3L1420.65 1115.3L1421.64 1115.3L1422.64 1115.3L1423.64 1115.3L1424.64 1115.3L1425.63 1115.3L1426.63 1115.3L1427.63 1115.3L1428.63 1115.3L1429.62 1115.3L1430.62 1115.3L1431.62 1115.3L1432.62 1115.3L1433.61 1115.3L1434.61 1115.3L1435.61 1115.3L1436.61 1115.3L1437.61 1115.3L1438.6 1115.3L1439.6 1115.3L1440.6 1115.3L1441.6 1115.3L1442.59 1115.3L1443.59 1115.3L1444.59 1115.3L1445.59 1115.3L1446.58 1115.3L1446.58 1115.3L936.78 1115.3Z" fill="#F96B6E" fill-opacity="0.4" stroke="none"/>
<path d="M936.78 1094.58L937.78 1093.68L938.77 1092.51L939.77 1090.96L940.77 1088.94L941.77 1086.37L942.77 1083.17L943.76 1079.27L944.76 1074.61L945.76 1069.15L946.76 1062.88L947.75 1055.79L948.75 1047.89L949.75 1039.22L950.75 1029.84L951.74 1019.81L952.74 1009.23L953.74 998.23L954.74 986.93L955.74 975.48L956.73 964.05L957.73 952.83L958.73 941.98L959.73 931.71L960.72 922.19L961.72 913.61L962.72 906.13L963.72 899.9L964.71 895.06L965.71 891.69L966.71 889.88L967.71 889.65L968.7 891.02L969.7 893.95L970.7 898.39L971.7 904.24L972.7 911.38L973.69 919.67L974.69 928.95L975.69 939.04L976.69 949.76L977.68 960.93L978.68 972.35L979.68 983.87L980.68 995.31L981.67 1006.52L982.67 1017.38L983.67 1027.76L984.67 1037.59L985.66 1046.79L986.66 1055.31L987.66 1063.11L988.66 1070.18L989.66 1076.52L990.65 1082.14L991.65 1087.05L992.65 1091.29L993.65 1094.88L994.64 1097.87L995.64 1100.27L996.64 1102.12L997.64 1103.46L998.63 1104.3L999.63 1104.66L1000.63 1104.56L1001.63 1104.01L1002.63 1103.01L1003.62 1101.58L1004.62 1099.71L1005.62 1097.41L1006.62 1094.67L1007.61 1091.53L1008.61 1087.98L1009.61 1084.05L1010.61 1079.78L1011.6 1075.2L1012.6 1070.38L1013.6 1065.38L1014.6 1060.27L1015.59 1055.14L1016.59 1050.09L1017.59 1045.2L1018.59 1040.59L1019.59 1036.36L1020.58 1032.59L1021.58 1029.39L1022.58 1026.82L1023.58 1024.95L1024.57 1023.83L1025.57 1023.5L1026.57 1023.94L1027.57 1025.17L1028.56 1027.13L1029.56 1029.8L1030.56 1033.09L1031.56 1036.93L1032.56 1041.23L1033.55 1045.89L1034.55 1050.82L1035.55 1055.91L1036.55 1061.06L1037.54 1066.19L1038.54 1071.22L1039.54 1076.07L1040.54 1080.68L1041.53 1085.02L1042.53 1089.04L1043.53 1092.71L1044.53 1096.05L1045.52 1099.02L1046.52 1101.66L1047.52 1103.97L1048.52 1105.96L1049.52 1107.68L1050.51 1109.13L1051.51 1110.34L1052.51 1111.36L1053.51 1112.19L1054.5 1112.86L1055.5 1113.41L1056.5 1113.85L1057.5 1114.19L1058.49 1114.46L1059.49 1114.67L1060.49 1114.83L1061.49 1114.96L1062.48 1115.05L1063.48 1115.12L1064.48 1115.17L1065.48 1115.21L1066.48 1115.23L1067.47 1115.25L1068.47 1115.27L1069.47 1115.28L1070.47 1115.29L1071.46 1115.29L1072.46 1115.29L1073.46 1115.3L1074.46 1115.3L1075.45 1115.3L1076.45 1115.3L1077.45 1115.3L1078.45 1115.3L1079.45 1115.3L1080.44 1115.3L1081.44 1115.3L1082.44 1115.3L1083.44 1115.3L1084.43 1115.3L1085.43 1115.3L1086.43 1115.3L1087.43 1115.3L1088.42 1115.3L1089.42 1115.3L1090.42 1115.3L1091.42 1115.3L1092.41 1115.3L1093.41 1115.3L1094.41 1115.3L1095.41 1115.3L1096.41 1115.3L1097.4 1115.3L1098.4 1115.3L1099.4 1115.3L1100.4 1115.3L1101.39 1115.3L1102.39 1115.3L1103.39 1115.3L1104.39 1115.3L1105.38 1115.3L1106.38 1115.3L1107.38 1115.3L1108.38 1115.3L1109.37 1115.3L1110.37 1115.3L1111.37 1115.3L1112.37 1115.3L1113.37 1115.3L1114.36 1115.3L1115.36 1115.3L1116.36 1115.3L1117.36 1115.3L1118.35 1115.3L1119.35 1115.3L1120.35 1115.3L1121.35 1115.3L1122.34 1115.3L1123.34 1115.3L1124.34 1115.3L1125.34 1115.3L1126.34 1115.3L1127.33 1115.3L1128.33 1115.3L1129.33 1115.3L1130.33 1115.3L1131.32 1115.3L1132.32 1115.3L1133.32 1115.3L1134.32 1115.3L1135.31 1115.3L1136.31 1115.3L1137.31 1115.3L1138.31 1115.3L1139.3 1115.3L1140.3 1115.3L1141.3 1115.3L1142.3 1115.3L1143.3 1115.3L1144.29 1115.3L1145.29 1115.3L1146.29 1115.3L1147.29 1115.3L1148.28 1115.3L1149.28 1115.3L1150.28 1115.3L1151.28 1115.3L1152.27 1115.3L1153.27 1115.3L1154.27 1115.3L1155.27 1115.3L1156.27 1115.3L1157.26 1115.3L1158.26 1115.3L1159.26 1115.3L1160.26 1115.3L1161.25 1115.3L1162.25 1115.3L1163.25 1115.3L1164.25 1115.3L1165.24 1115.3L1166.24 1115.3L1167.24 1115.3L1168.24 1115.3L1169.23 1115.3L1170.23 1115.3L1171.23 1115.3L1172.23 1115.3L1173.23 1115.3L1174.22 1115.3L1175.22 1115.3L1176.22 1115.3L1177.22 1115.3L1178.21 1115.3L1179.21 1115.3L1180.21 1115.3L1181.21 1115.3L1182.2 1115.3L1183.2 1115.3L1184.2 1115.3L1185.2 1115.3L1186.19 1115.3L1187.19 1115.3L1188.19 1115.3L1189.19 1115.3L1190.19 1115.3L1191.18 1115.3L1192.18 1115.3L1193.18 1115.3L1194.18 1115.3L1195.17 1115.3L1196.17 1115.3L1197.17 1115.3L1198.17 1115.3L1199.16 1115.3L1200.16 1115.3L1201.16 1115.3L1202.16 1115.3L1203.16 1115.3L1204.15 1115.3L1205.15 1115.3L1206.15 1115.3L1207.15 1115.3L1208.14 1115.3L1209.14 1115.3L1210.14 1115.3L1211.14 1115.3L1212.13 1115.3L1213.13 1115.3L1214.13 1115.3L1215.13 1115.3L1216.12 1115.3L1217.12 1115.3L1218.12 1115.3L1219.12 1115.3L1220.12 1115.3L1221.11 1115.3L1222.11 1115.3L1223.11 1115.3L1224.11 1115.3L1225.1 1115.3L1226.1 1115.3L1227.1 1115.3L1228.1 1115.3L1229.09 1115.3L1230.09 1115.3L1231.09 1115.3L1232.09 1115.3L1233.08 1115.3L1234.08 1115.3L1235.08 1115.3L1236.08 1115.3L1237.08 1115.3L1238.07 1115.3L1239.07 1115.3L1240.07 1115.3L1241.07 1115.3L1242.06 1115.3L1243.06 1115.3L1244.06 1115.3L1245.06 1115.3L1246.05 1115.3L1247.05 1115.3L1248.05 1115.3L1249.05 1115.3L1250.05 1115.3L1251.04 1115.3L1252.04 1115.3L1253.04 1115.3L1254.04 1115.3L1255.03 1115.3L1256.03 1115.3L1257.03 1115.3L1258.03 1115.3L1259.02 1115.3L1260.02 1115.3L1261.02 1115.3L1262.02 1115.3L1263.01 1115.3L1264.01 1115.3L1265.01 1115.3L1266.01 1115.3L1267.01 1115.3L1268 1115.3L1269 1115.3L1270 1115.3L1271 1115.3L1271.99 1115.3L1272.99 1115.3L1273.99 1115.3L1274.99 1115.3L1275.98 1115.3L1276.98 1115.3L1277.98 1115.3L1278.98 1115.3L1279.98 1115.3L1280.97 1115.3L1281.97 1115.3L1282.97 1115.3L1283.97 1115.3L1284.96 1115.3L1285.96 1115.3L1286.96 1115.3L1287.96 1115.3L1288.95 1115.3L1289.95 1115.3L1290.95 1115.3L1291.95 1115.3L1292.94 1115.3L1293.94 1115.3L1294.94 1115.3L1295.94 1115.3L1296.94 1115.3L1297.93 1115.3L1298.93 1115.3L1299.93 1115.3L1300.93 1115.3L1301.92 1115.3L1302.92 1115.3L1303.92 1115.3L1304.92 1115.3L1305.91 1115.3L1306.91 1115.3L1307.91 1115.3L1308.91 1115.3L1309.9 1115.3L1310.9 1115.3L1311.9 1115.3L1312.9 1115.3L1313.9 1115.3L1314.89 1115.3L1315.89 1115.3L1316.89 1115.3L1317.89 1115.3L1318.88 1115.3L1319.88 1115.3L1320.88 1115.3L1321.88 1115.3L1322.87 1115.3L1323.87 1115.3L1324.87 1115.3L1325.87 1115.3L1326.87 1115.3L1327.86 1115.3L1328.86 1115.3L1329.86 1115.3L1330.86 1115.3L1331.85 1115.3L1332.85 1115.3L1333.85 1115.3L1334.85 1115.3L1335.84 1115.3L1336.84 1115.3L1337.84 1115.3L1338.84 1115.3L1339.83 1115.3L1340.83 1115.3L1341.83 1115.3L1342.83 1115.3L1343.83 1115.3L1344.82 1115.3L1345.82 1115.3L1346.82 1115.3L1347.82 1115.3L1348.81 1115.3L1349.81 1115.3L1350.81 1115.3L1351.81 1115.3L1352.8 1115.3L1353.8 1115.3L1354.8 1115.3L1355.8 1115.3L1356.79 1115.3L1357.79 1115.3L1358.79 1115.3L1359.79 1115.3L1360.79 1115.3L1361.78 1115.3L1362.78 1115.3L1363.78 1115.3L1364.78 1115.3L1365.77 1115.3L1366.77 1115.3L1367.77 1115.3L1368.77 1115.3L1369.76 1115.3L1370.76 1115.3L1371.76 1115.3L1372.76 1115.3L1373.76 1115.3L1374.75 1115.3L1375.75 1115.3L1376.75 1115.3L1377.75 1115.3L1378.74 1115.3L1379.74 1115.3L1380.74 1115.3L1381.74 1115.3L1382.73 1115.3L1383.73 1115.3L1384.73 1115.3L1385.73 1115.3L1386.72 1115.3L1387.72 1115.3L1388.72 1115.3L1389.72 1115.3L1390.72 1115.3L1391.71 1115.3L1392.71 1115.3L1393.71 1115.3L1394.71 1115.3L1395.7 1115.3L1396.7 1115.3L1397.7 1115.3L1398.7 1115.3L1399.69 1115.3L1400.69 1115.3L1401.69 1115.3L1402.69 1115.3L1403.69 1115.3L1404.68 1115.3L1405.68 1115.3L1406.68 1115.3L1407.68 1115.3L1408.67 1115.3L1409.67 1115.3L1410.67 1115.3L1411.67 1115.3L1412.66 1115.3L1413.66 1115.3L1414.66 1115.3L1415.66 1115.3L1416.65 1115.3L1417.65 1115.3L1418.65 1115.3L1419.65 1115.3L1420.65 1115.3L1421.64 1115.3L1422.64 1115.3L1423.64 1115.3L1424.64 1115.3L1425.63 1115.3L1426.63 1115.3L1427.63 1115.3L1428.63 1115.3L1429.62 1115.3L1430.62 1115.3L1431.62 1115.3L1432.62 1115.3L1433.61 1115.3L1434.61 1115.3L1435.61 1115.3L1436.61 1115.3L1437.61 1115.3L1438.6 1115.3L1439.6 1115.3L1440.6 1115.3L1441.6 1115.3L1442.59 1115.3L1443.59 1115.3L1444.59 1115.3L1445.59 1115.3L1446.58 1115.3" fill="none" stroke="#000" stroke-width="3.3" stroke-linejoin="round" stroke-linecap="butt"/>
</g>
<rect x="1471.9" y="878.1" width="55.9" height="247.6" fill="#D9D9D9"/>
<text transform="translate(1499.85 1001.9) rotate(90)" x="0" y="11.17" text-anchor="middle" font-size="31.2" fill="#1A1A1A">2</text>
<text x="895.2" y="1126.77" text-anchor="end" font-size="31.2" fill="#4D4D4D">0</text>
<text x="895.2" y="1051.52" text-anchor="end" font-size="31.2" fill="#4D4D4D">5</text>
<text x="895.2" y="976.27" text-anchor="end" font-size="31.2" fill="#4D4D4D">10</text>
<text x="895.2" y="901.02" text-anchor="end" font-size="31.2" fill="#4D4D4D">15</text>
<path d="M902.2 1115.3H911M902.2 1040.05H911M902.2 964.8H911M902.2 889.55H911" stroke="#333333" stroke-width="3.4" fill="none"/>
</g>
<g>
<rect x="911" y="1144.2" width="560.9" height="248.6" fill="#EBEBEB"/>
<g clip-path="url(#cp14)">
<path d="M911 1354.77H1471.9M911 1301.12H1471.9M911 1247.47H1471.9M911 1193.82H1471.9M975.67 1144.2V1392.8M1103.81 1144.2V1392.8M1231.95 1144.2V1392.8M1360.09 1144.2V1392.8" stroke="#fff" stroke-width="1.7" fill="none"/>
<path d="M911 1381.6H1471.9M911 1327.95H1471.9M911 1274.3H1471.9M911 1220.65H1471.9M911 1167H1471.9M911.6 1144.2V1392.8M1039.74 1144.2V1392.8M1167.88 1144.2V1392.8M1296.02 1144.2V1392.8M1424.16 1144.2V1392.8" stroke="#fff" stroke-width="3.4" fill="none"/>
<path d="M936.78 1259.98L937.78 1252.26L938.77 1244.49L939.77 1236.73L940.77 1229.01L941.77 1221.39L942.77 1213.94L943.76 1206.7L944.76 1199.73L945.76 1193.08L946.76 1186.82L947.75 1181L948.75 1175.66L949.75 1170.86L950.75 1166.64L951.74 1163.03L952.74 1160.08L953.74 1157.8L954.74 1156.23L955.74 1155.37L956.73 1155.23L957.73 1155.82L958.73 1157.13L959.73 1159.14L960.72 1161.85L961.72 1165.21L962.72 1169.21L963.72 1173.79L964.71 1178.93L965.71 1184.58L966.71 1190.68L967.71 1197.19L968.7 1204.04L969.7 1211.19L970.7 1218.57L971.7 1226.13L972.7 1233.81L973.69 1241.57L974.69 1249.34L975.69 1257.08L976.69 1264.74L977.68 1272.29L978.68 1279.67L979.68 1286.86L980.68 1293.82L981.67 1300.53L982.67 1306.96L983.67 1313.1L984.67 1318.94L985.66 1324.46L986.66 1329.65L987.66 1334.52L988.66 1339.07L989.66 1343.29L990.65 1347.19L991.65 1350.78L992.65 1354.07L993.65 1357.06L994.64 1359.78L995.64 1362.23L996.64 1364.42L997.64 1366.37L998.63 1368.09L999.63 1369.59L1000.63 1370.88L1001.63 1371.97L1002.63 1372.88L1003.62 1373.6L1004.62 1374.15L1005.62 1374.54L1006.62 1374.76L1007.61 1374.82L1008.61 1374.73L1009.61 1374.48L1010.61 1374.07L1011.6 1373.5L1012.6 1372.78L1013.6 1371.9L1014.6 1370.85L1015.59 1369.63L1016.59 1368.24L1017.59 1366.69L1018.59 1364.95L1019.59 1363.05L1020.58 1360.96L1021.58 1358.71L1022.58 1356.29L1023.58 1353.7L1024.57 1350.95L1025.57 1348.07L1026.57 1345.04L1027.57 1341.9L1028.56 1338.67L1029.56 1335.35L1030.56 1331.97L1031.56 1328.57L1032.56 1325.15L1033.55 1321.77L1034.55 1318.44L1035.55 1315.19L1036.55 1312.07L1037.54 1309.09L1038.54 1306.3L1039.54 1303.72L1040.54 1301.38L1041.53 1299.31L1042.53 1297.53L1043.53 1296.06L1044.53 1294.93L1045.52 1294.14L1046.52 1293.7L1047.52 1293.63L1048.52 1293.91L1049.52 1294.56L1050.51 1295.55L1051.51 1296.88L1052.51 1298.53L1053.51 1300.48L1054.5 1302.71L1055.5 1305.19L1056.5 1307.9L1057.5 1310.81L1058.49 1313.87L1059.49 1317.07L1060.49 1320.38L1061.49 1323.75L1062.48 1327.16L1063.48 1330.57L1064.48 1333.97L1065.48 1337.33L1066.48 1340.62L1067.47 1343.81L1068.47 1346.91L1069.47 1349.88L1070.47 1352.71L1071.46 1355.4L1072.46 1357.93L1073.46 1360.31L1074.46 1362.53L1075.45 1364.59L1076.45 1366.48L1077.45 1368.22L1078.45 1369.81L1079.45 1371.26L1080.44 1372.56L1081.44 1373.73L1082.44 1374.78L1083.44 1375.71L1084.43 1376.54L1085.43 1377.26L1086.43 1377.9L1087.43 1378.46L1088.42 1378.94L1089.42 1379.36L1090.42 1379.72L1091.42 1380.03L1092.41 1380.3L1093.41 1380.52L1094.41 1380.71L1095.41 1380.87L1096.41 1381L1097.4 1381.11L1098.4 1381.2L1099.4 1381.28L1100.4 1381.34L1101.39 1381.39L1102.39 1381.43L1103.39 1381.47L1104.39 1381.5L1105.38 1381.52L1106.38 1381.54L1107.38 1381.55L1108.38 1381.56L1109.37 1381.57L1110.37 1381.58L1111.37 1381.58L1112.37 1381.59L1113.37 1381.59L1114.36 1381.59L1115.36 1381.59L1116.36 1381.6L1117.36 1381.6L1118.35 1381.6L1119.35 1381.6L1120.35 1381.6L1121.35 1381.6L1122.34 1381.6L1123.34 1381.6L1124.34 1381.6L1125.34 1381.6L1126.34 1381.6L1127.33 1381.6L1128.33 1381.6L1129.33 1381.6L1130.33 1381.6L1131.32 1381.6L1132.32 1381.6L1133.32 1381.6L1134.32 1381.6L1135.31 1381.6L1136.31 1381.6L1137.31 1381.6L1138.31 1381.6L1139.3 1381.6L1140.3 1381.6L1141.3 1381.6L1142.3 1381.6L1143.3 1381.6L1144.29 1381.6L1145.29 1381.6L1146.29 1381.6L1147.29 1381.6L1148.28 1381.6L1149.28 1381.6L1150.28 1381.6L1151.28 1381.6L1152.27 1381.6L1153.27 1381.6L1154.27 1381.6L1155.27 1381.6L1156.27 1381.6L1157.26 1381.6L1158.26 1381.6L1159.26 1381.6L1160.26 1381.6L1161.25 1381.6L1162.25 1381.6L1163.25 1381.6L1164.25 1381.6L1165.24 1381.6L1166.24 1381.6L1167.24 1381.6L1168.24 1381.6L1169.23 1381.6L1170.23 1381.6L1171.23 1381.6L1172.23 1381.6L1173.23 1381.6L1174.22 1381.6L1175.22 1381.6L1176.22 1381.6L1177.22 1381.6L1178.21 1381.6L1179.21 1381.6L1180.21 1381.6L1181.21 1381.6L1182.2 1381.6L1183.2 1381.6L1184.2 1381.6L1185.2 1381.6L1186.19 1381.6L1187.19 1381.6L1188.19 1381.6L1189.19 1381.6L1190.19 1381.6L1191.18 1381.6L1192.18 1381.6L1193.18 1381.6L1194.18 1381.6L1195.17 1381.6L1196.17 1381.6L1197.17 1381.6L1198.17 1381.6L1199.16 1381.6L1200.16 1381.6L1201.16 1381.6L1202.16 1381.6L1203.16 1381.6L1204.15 1381.6L1205.15 1381.6L1206.15 1381.6L1207.15 1381.6L1208.14 1381.6L1209.14 1381.6L1210.14 1381.6L1211.14 1381.6L1212.13 1381.6L1213.13 1381.6L1214.13 1381.6L1215.13 1381.6L1216.12 1381.6L1217.12 1381.6L1218.12 1381.6L1219.12 1381.6L1220.12 1381.6L1221.11 1381.6L1222.11 1381.6L1223.11 1381.6L1224.11 1381.6L1225.1 1381.6L1226.1 1381.6L1227.1 1381.6L1228.1 1381.6L1229.09 1381.6L1230.09 1381.6L1231.09 1381.6L1232.09 1381.6L1233.08 1381.6L1234.08 1381.6L1235.08 1381.6L1236.08 1381.6L1237.08 1381.6L1238.07 1381.6L1239.07 1381.6L1240.07 1381.6L1241.07 1381.6L1242.06 1381.6L1243.06 1381.6L1244.06 1381.6L1245.06 1381.6L1246.05 1381.6L1247.05 1381.6L1248.05 1381.6L1249.05 1381.6L1250.05 1381.6L1251.04 1381.6L1252.04 1381.6L1253.04 1381.6L1254.04 1381.6L1255.03 1381.6L1256.03 1381.6L1257.03 1381.6L1258.03 1381.6L1259.02 1381.6L1260.02 1381.6L1261.02 1381.6L1262.02 1381.6L1263.01 1381.6L1264.01 1381.6L1265.01 1381.6L1266.01 1381.6L1267.01 1381.6L1268 1381.6L1269 1381.6L1270 1381.6L1271 1381.6L1271.99 1381.6L1272.99 1381.6L1273.99 1381.6L1274.99 1381.6L1275.98 1381.6L1276.98 1381.6L1277.98 1381.6L1278.98 1381.6L1279.98 1381.6L1280.97 1381.6L1281.97 1381.6L1282.97 1381.6L1283.97 1381.6L1284.96 1381.6L1285.96 1381.6L1286.96 1381.6L1287.96 1381.6L1288.95 1381.6L1289.95 1381.6L1290.95 1381.6L1291.95 1381.6L1292.94 1381.6L1293.94 1381.6L1294.94 1381.6L1295.94 1381.6L1296.94 1381.6L1297.93 1381.6L1298.93 1381.6L1299.93 1381.6L1300.93 1381.6L1301.92 1381.6L1302.92 1381.6L1303.92 1381.6L1304.92 1381.6L1305.91 1381.6L1306.91 1381.6L1307.91 1381.6L1308.91 1381.6L1309.9 1381.6L1310.9 1381.6L1311.9 1381.6L1312.9 1381.6L1313.9 1381.6L1314.89 1381.6L1315.89 1381.6L1316.89 1381.6L1317.89 1381.6L1318.88 1381.6L1319.88 1381.6L1320.88 1381.6L1321.88 1381.6L1322.87 1381.6L1323.87 1381.6L1324.87 1381.6L1325.87 1381.6L1326.87 1381.6L1327.86 1381.6L1328.86 1381.6L1329.86 1381.6L1330.86 1381.6L1331.85 1381.6L1332.85 1381.6L1333.85 1381.6L1334.85 1381.6L1335.84 1381.6L1336.84 1381.6L1337.84 1381.6L1338.84 1381.6L1339.83 1381.6L1340.83 1381.6L1341.83 1381.6L1342.83 1381.6L1343.83 1381.6L1344.82 1381.6L1345.82 1381.6L1346.82 1381.6L1347.82 1381.6L1348.81 1381.6L1349.81 1381.6L1350.81 1381.6L1351.81 1381.6L1352.8 1381.6L1353.8 1381.6L1354.8 1381.6L1355.8 1381.6L1356.79 1381.6L1357.79 1381.6L1358.79 1381.6L1359.79 1381.6L1360.79 1381.6L1361.78 1381.6L1362.78 1381.6L1363.78 1381.6L1364.78 1381.6L1365.77 1381.6L1366.77 1381.6L1367.77 1381.6L1368.77 1381.6L1369.76 1381.6L1370.76 1381.6L1371.76 1381.6L1372.76 1381.6L1373.76 1381.6L1374.75 1381.6L1375.75 1381.6L1376.75 1381.6L1377.75 1381.6L1378.74 1381.6L1379.74 1381.6L1380.74 1381.6L1381.74 1381.6L1382.73 1381.6L1383.73 1381.6L1384.73 1381.6L1385.73 1381.6L1386.72 1381.6L1387.72 1381.6L1388.72 1381.6L1389.72 1381.6L1390.72 1381.6L1391.71 1381.6L1392.71 1381.6L1393.71 1381.6L1394.71 1381.6L1395.7 1381.6L1396.7 1381.6L1397.7 1381.6L1398.7 1381.6L1399.69 1381.6L1400.69 1381.6L1401.69 1381.6L1402.69 1381.6L1403.69 1381.6L1404.68 1381.6L1405.68 1381.6L1406.68 1381.6L1407.68 1381.6L1408.67 1381.6L1409.67 1381.6L1410.67 1381.6L1411.67 1381.6L1412.66 1381.6L1413.66 1381.6L1414.66 1381.6L1415.66 1381.6L1416.65 1381.6L1417.65 1381.6L1418.65 1381.6L1419.65 1381.6L1420.65 1381.6L1421.64 1381.6L1422.64 1381.6L1423.64 1381.6L1424.64 1381.6L1425.63 1381.6L1426.63 1381.6L1427.63 1381.6L1428.63 1381.6L1429.62 1381.6L1430.62 1381.6L1431.62 1381.6L1432.62 1381.6L1433.61 1381.6L1434.61 1381.6L1435.61 1381.6L1436.61 1381.6L1437.61 1381.6L1438.6 1381.6L1439.6 1381.6L1440.6 1381.6L1441.6 1381.6L1442.59 1381.6L1443.59 1381.6L1444.59 1381.6L1445.59 1381.6L1446.58 1381.6L1446.58 1381.6L936.78 1381.6Z" fill="#F96B6E" fill-opacity="0.4" stroke="none"/>
<path d="M936.78 1259.98L937.78 1252.26L938.77 1244.49L939.77 1236.73L940.77 1229.01L941.77 1221.39L942.77 1213.94L943.76 1206.7L944.76 1199.73L945.76 1193.08L946.76 1186.82L947.75 1181L948.75 1175.66L949.75 1170.86L950.75 1166.64L951.74 1163.03L952.74 1160.08L953.74 1157.8L954.74 1156.23L955.74 1155.37L956.73 1155.23L957.73 1155.82L958.73 1157.13L959.73 1159.14L960.72 1161.85L961.72 1165.21L962.72 1169.21L963.72 1173.79L964.71 1178.93L965.71 1184.58L966.71 1190.68L967.71 1197.19L968.7 1204.04L969.7 1211.19L970.7 1218.57L971.7 1226.13L972.7 1233.81L973.69 1241.57L974.69 1249.34L975.69 1257.08L976.69 1264.74L977.68 1272.29L978.68 1279.67L979.68 1286.86L980.68 1293.82L981.67 1300.53L982.67 1306.96L983.67 1313.1L984.67 1318.94L985.66 1324.46L986.66 1329.65L987.66 1334.52L988.66 1339.07L989.66 1343.29L990.65 1347.19L991.65 1350.78L992.65 1354.07L993.65 1357.06L994.64 1359.78L995.64 1362.23L996.64 1364.42L997.64 1366.37L998.63 1368.09L999.63 1369.59L1000.63 1370.88L1001.63 1371.97L1002.63 1372.88L1003.62 1373.6L1004.62 1374.15L1005.62 1374.54L1006.62 1374.76L1007.61 1374.82L1008.61 1374.73L1009.61 1374.48L1010.61 1374.07L1011.6 1373.5L1012.6 1372.78L1013.6 1371.9L1014.6 1370.85L1015.59 1369.63L1016.59 1368.24L1017.59 1366.69L1018.59 1364.95L1019.59 1363.05L1020.58 1360.96L1021.58 1358.71L1022.58 1356.29L1023.58 1353.7L1024.57 1350.95L1025.57 1348.07L1026.57 1345.04L1027.57 1341.9L1028.56 1338.67L1029.56 1335.35L1030.56 1331.97L1031.56 1328.57L1032.56 1325.15L1033.55 1321.77L1034.55 1318.44L1035.55 1315.19L1036.55 1312.07L1037.54 1309.09L1038.54 1306.3L1039.54 1303.72L1040.54 1301.38L1041.53 1299.31L1042.53 1297.53L1043.53 1296.06L1044.53 1294.93L1045.52 1294.14L1046.52 1293.7L1047.52 1293.63L1048.52 1293.91L1049.52 1294.56L1050.51 1295.55L1051.51 1296.88L1052.51 1298.53L1053.51 1300.48L1054.5 1302.71L1055.5 1305.19L1056.5 1307.9L1057.5 1310.81L1058.49 1313.87L1059.49 1317.07L1060.49 1320.38L1061.49 1323.75L1062.48 1327.16L1063.48 1330.57L1064.48 1333.97L1065.48 1337.33L1066.48 1340.62L1067.47 1343.81L1068.47 1346.91L1069.47 1349.88L1070.47 1352.71L1071.46 1355.4L1072.46 1357.93L1073.46 1360.31L1074.46 1362.53L1075.45 1364.59L1076.45 1366.48L1077.45 1368.22L1078.45 1369.81L1079.45 1371.26L1080.44 1372.56L1081.44 1373.73L1082.44 1374.78L1083.44 1375.71L1084.43 1376.54L1085.43 1377.26L1086.43 1377.9L1087.43 1378.46L1088.42 1378.94L1089.42 1379.36L1090.42 1379.72L1091.42 1380.03L1092.41 1380.3L1093.41 1380.52L1094.41 1380.71L1095.41 1380.87L1096.41 1381L1097.4 1381.11L1098.4 1381.2L1099.4 1381.28L1100.4 1381.34L1101.39 1381.39L1102.39 1381.43L1103.39 1381.47L1104.39 1381.5L1105.38 1381.52L1106.38 1381.54L1107.38 1381.55L1108.38 1381.56L1109.37 1381.57L1110.37 1381.58L1111.37 1381.58L1112.37 1381.59L1113.37 1381.59L1114.36 1381.59L1115.36 1381.59L1116.36 1381.6L1117.36 1381.6L1118.35 1381.6L1119.35 1381.6L1120.35 1381.6L1121.35 1381.6L1122.34 1381.6L1123.34 1381.6L1124.34 1381.6L1125.34 1381.6L1126.34 1381.6L1127.33 1381.6L1128.33 1381.6L1129.33 1381.6L1130.33 1381.6L1131.32 1381.6L1132.32 1381.6L1133.32 1381.6L1134.32 1381.6L1135.31 1381.6L1136.31 1381.6L1137.31 1381.6L1138.31 1381.6L1139.3 1381.6L1140.3 1381.6L1141.3 1381.6L1142.3 1381.6L1143.3 1381.6L1144.29 1381.6L1145.29 1381.6L1146.29 1381.6L1147.29 1381.6L1148.28 1381.6L1149.28 1381.6L1150.28 1381.6L1151.28 1381.6L1152.27 1381.6L1153.27 1381.6L1154.27 1381.6L1155.27 1381.6L1156.27 1381.6L1157.26 1381.6L1158.26 1381.6L1159.26 1381.6L1160.26 1381.6L1161.25 1381.6L1162.25 1381.6L1163.25 1381.6L1164.25 1381.6L1165.24 1381.6L1166.24 1381.6L1167.24 1381.6L1168.24 1381.6L1169.23 1381.6L1170.23 1381.6L1171.23 1381.6L1172.23 1381.6L1173.23 1381.6L1174.22 1381.6L1175.22 1381.6L1176.22 1381.6L1177.22 1381.6L1178.21 1381.6L1179.21 1381.6L1180.21 1381.6L1181.21 1381.6L1182.2 1381.6L1183.2 1381.6L1184.2 1381.6L1185.2 1381.6L1186.19 1381.6L1187.19 1381.6L1188.19 1381.6L1189.19 1381.6L1190.19 1381.6L1191.18 1381.6L1192.18 1381.6L1193.18 1381.6L1194.18 1381.6L1195.17 1381.6L1196.17 1381.6L1197.17 1381.6L1198.17 1381.6L1199.16 1381.6L1200.16 1381.6L1201.16 1381.6L1202.16 1381.6L1203.16 1381.6L1204.15 1381.6L1205.15 1381.6L1206.15 1381.6L1207.15 1381.6L1208.14 1381.6L1209.14 1381.6L1210.14 1381.6L1211.14 1381.6L1212.13 1381.6L1213.13 1381.6L1214.13 1381.6L1215.13 1381.6L1216.12 1381.6L1217.12 1381.6L1218.12 1381.6L1219.12 1381.6L1220.12 1381.6L1221.11 1381.6L1222.11 1381.6L1223.11 1381.6L1224.11 1381.6L1225.1 1381.6L1226.1 1381.6L1227.1 1381.6L1228.1 1381.6L1229.09 1381.6L1230.09 1381.6L1231.09 1381.6L1232.09 1381.6L1233.08 1381.6L1234.08 1381.6L1235.08 1381.6L1236.08 1381.6L1237.08 1381.6L1238.07 1381.6L1239.07 1381.6L1240.07 1381.6L1241.07 1381.6L1242.06 1381.6L1243.06 1381.6L1244.06 1381.6L1245.06 1381.6L1246.05 1381.6L1247.05 1381.6L1248.05 1381.6L1249.05 1381.6L1250.05 1381.6L1251.04 1381.6L1252.04 1381.6L1253.04 1381.6L1254.04 1381.6L1255.03 1381.6L1256.03 1381.6L1257.03 1381.6L1258.03 1381.6L1259.02 1381.6L1260.02 1381.6L1261.02 1381.6L1262.02 1381.6L1263.01 1381.6L1264.01 1381.6L1265.01 1381.6L1266.01 1381.6L1267.01 1381.6L1268 1381.6L1269 1381.6L1270 1381.6L1271 1381.6L1271.99 1381.6L1272.99 1381.6L1273.99 1381.6L1274.99 1381.6L1275.98 1381.6L1276.98 1381.6L1277.98 1381.6L1278.98 1381.6L1279.98 1381.6L1280.97 1381.6L1281.97 1381.6L1282.97 1381.6L1283.97 1381.6L1284.96 1381.6L1285.96 1381.6L1286.96 1381.6L1287.96 1381.6L1288.95 1381.6L1289.95 1381.6L1290.95 1381.6L1291.95 1381.6L1292.94 1381.6L1293.94 1381.6L1294.94 1381.6L1295.94 1381.6L1296.94 1381.6L1297.93 1381.6L1298.93 1381.6L1299.93 1381.6L1300.93 1381.6L1301.92 1381.6L1302.92 1381.6L1303.92 1381.6L1304.92 1381.6L1305.91 1381.6L1306.91 1381.6L1307.91 1381.6L1308.91 1381.6L1309.9 1381.6L1310.9 1381.6L1311.9 1381.6L1312.9 1381.6L1313.9 1381.6L1314.89 1381.6L1315.89 1381.6L1316.89 1381.6L1317.89 1381.6L1318.88 1381.6L1319.88 1381.6L1320.88 1381.6L1321.88 1381.6L1322.87 1381.6L1323.87 1381.6L1324.87 1381.6L1325.87 1381.6L1326.87 1381.6L1327.86 1381.6L1328.86 1381.6L1329.86 1381.6L1330.86 1381.6L1331.85 1381.6L1332.85 1381.6L1333.85 1381.6L1334.85 1381.6L1335.84 1381.6L1336.84 1381.6L1337.84 1381.6L1338.84 1381.6L1339.83 1381.6L1340.83 1381.6L1341.83 1381.6L1342.83 1381.6L1343.83 1381.6L1344.82 1381.6L1345.82 1381.6L1346.82 1381.6L1347.82 1381.6L1348.81 1381.6L1349.81 1381.6L1350.81 1381.6L1351.81 1381.6L1352.8 1381.6L1353.8 1381.6L1354.8 1381.6L1355.8 1381.6L1356.79 1381.6L1357.79 1381.6L1358.79 1381.6L1359.79 1381.6L1360.79 1381.6L1361.78 1381.6L1362.78 1381.6L1363.78 1381.6L1364.78 1381.6L1365.77 1381.6L1366.77 1381.6L1367.77 1381.6L1368.77 1381.6L1369.76 1381.6L1370.76 1381.6L1371.76 1381.6L1372.76 1381.6L1373.76 1381.6L1374.75 1381.6L1375.75 1381.6L1376.75 1381.6L1377.75 1381.6L1378.74 1381.6L1379.74 1381.6L1380.74 1381.6L1381.74 1381.6L1382.73 1381.6L1383.73 1381.6L1384.73 1381.6L1385.73 1381.6L1386.72 1381.6L1387.72 1381.6L1388.72 1381.6L1389.72 1381.6L1390.72 1381.6L1391.71 1381.6L1392.71 1381.6L1393.71 1381.6L1394.71 1381.6L1395.7 1381.6L1396.7 1381.6L1397.7 1381.6L1398.7 1381.6L1399.69 1381.6L1400.69 1381.6L1401.69 1381.6L1402.69 1381.6L1403.69 1381.6L1404.68 1381.6L1405.68 1381.6L1406.68 1381.6L1407.68 1381.6L1408.67 1381.6L1409.67 1381.6L1410.67 1381.6L1411.67 1381.6L1412.66 1381.6L1413.66 1381.6L1414.66 1381.6L1415.66 1381.6L1416.65 1381.6L1417.65 1381.6L1418.65 1381.6L1419.65 1381.6L1420.65 1381.6L1421.64 1381.6L1422.64 1381.6L1423.64 1381.6L1424.64 1381.6L1425.63 1381.6L1426.63 1381.6L1427.63 1381.6L1428.63 1381.6L1429.62 1381.6L1430.62 1381.6L1431.62 1381.6L1432.62 1381.6L1433.61 1381.6L1434.61 1381.6L1435.61 1381.6L1436.61 1381.6L1437.61 1381.6L1438.6 1381.6L1439.6 1381.6L1440.6 1381.6L1441.6 1381.6L1442.59 1381.6L1443.59 1381.6L1444.59 1381.6L1445.59 1381.6L1446.58 1381.6" fill="none" stroke="#000" stroke-width="3.3" stroke-linejoin="round" stroke-linecap="butt"/>
</g>
<rect x="1471.9" y="1144.2" width="55.9" height="248.6" fill="#D9D9D9"/>
<text transform="translate(1499.85 1268.5) rotate(90)" x="0" y="11.17" text-anchor="middle" font-size="31.2" fill="#1A1A1A">5</text>
<text x="895.2" y="1393.07" text-anchor="end" font-size="31.2" fill="#4D4D4D">0.0</text>
<text x="895.2" y="1339.42" text-anchor="end" font-size="31.2" fill="#4D4D4D">2.5</text>
<text x="895.2" y="1285.77" text-anchor="end" font-size="31.2" fill="#4D4D4D">5.0</text>
<text x="895.2" y="1232.12" text-anchor="end" font-size="31.2" fill="#4D4D4D">7.5</text>
<text x="895.2" y="1178.47" text-anchor="end" font-size="31.2" fill="#4D4D4D">10.0</text>
<path d="M902.2 1381.6H911M902.2 1327.95H911M902.2 1274.3H911M902.2 1220.65H911M902.2 1167H911" stroke="#333333" stroke-width="3.4" fill="none"/>
</g>
<text x="911.6" y="1431.8" text-anchor="middle" font-size="31.2" fill="#4D4D4D">0.0</text>
<text x="1039.74" y="1431.8" text-anchor="middle" font-size="31.2" fill="#4D4D4D">0.2</text>
<text x="1167.88" y="1431.8" text-anchor="middle" font-size="31.2" fill="#4D4D4D">0.4</text>
<text x="1296.02" y="1431.8" text-anchor="middle" font-size="31.2" fill="#4D4D4D">0.6</text>
<text x="1424.16" y="1431.8" text-anchor="middle" font-size="31.2" fill="#4D4D4D">0.8</text>
<path d="M911.6 1392.8V1401.6M1039.74 1392.8V1401.6M1167.88 1392.8V1401.6M1296.02 1392.8V1401.6M1424.16 1392.8V1401.6" stroke="#333333" stroke-width="3.4" fill="none"/>
<text x="1191.45" y="1475.1" text-anchor="middle" font-size="40.0" fill="#000">First-Order Hellinger</text>
<text transform="translate(817.1 735.4) rotate(-90)" text-anchor="middle" font-size="40.0" fill="#000">Density</text>
<text x="1683" y="51.6" font-size="47.9" fill="#000">Representative Marginal Distributions</text>
<g>
<rect x="1684.8" y="78.3" width="641" height="249.5" fill="#EBEBEB"/>
<g clip-path="url(#cp20)">
<path d="M1684.8 288.15H2325.8M1684.8 231.55H2325.8M1684.8 174.95H2325.8M1684.8 118.35H2325.8M1868.05 78.3V327.8M2063.15 78.3V327.8M2258.25 78.3V327.8" stroke="#fff" stroke-width="1.7" fill="none"/>
<path d="M1684.8 316.45H2325.8M1684.8 259.85H2325.8M1684.8 203.25H2325.8M1684.8 146.65H2325.8M1684.8 90.05H2325.8M1770.5 78.3V327.8M1965.6 78.3V327.8M2160.7 78.3V327.8" stroke="#fff" stroke-width="3.4" fill="none"/>
<path d="M1714.8 309.3L1717.08 308.85L1719.36 308.38L1721.64 307.88L1723.92 307.35L1726.2 306.8L1728.48 306.22L1730.76 305.61L1733.04 304.97L1735.32 304.3L1737.6 303.6L1739.88 302.86L1742.16 302.09L1744.44 301.29L1746.72 300.44L1749 299.56L1751.28 298.65L1753.57 297.69L1755.85 296.69L1758.13 295.65L1760.41 294.56L1762.69 293.44L1764.97 292.26L1767.25 291.05L1769.53 289.78L1771.81 288.47L1774.09 287.11L1776.37 285.7L1778.65 284.24L1780.93 282.72L1783.21 281.16L1785.49 279.55L1787.77 277.88L1790.05 276.16L1792.33 274.38L1794.61 272.55L1796.89 270.66L1799.17 268.73L1801.45 266.73L1803.73 264.68L1806.01 262.58L1808.29 260.42L1810.57 258.2L1812.86 255.93L1815.14 253.61L1817.42 251.24L1819.7 248.81L1821.98 246.33L1824.26 243.79L1826.54 241.21L1828.82 238.58L1831.1 235.9L1833.38 233.17L1835.66 230.4L1837.94 227.58L1840.22 224.73L1842.5 221.83L1844.78 218.89L1847.06 215.92L1849.34 212.91L1851.62 209.88L1853.9 206.81L1856.18 203.72L1858.46 200.6L1860.74 197.46L1863.02 194.3L1865.3 191.13L1867.58 187.94L1869.86 184.75L1872.14 181.55L1874.43 178.35L1876.71 175.15L1878.99 171.96L1881.27 168.77L1883.55 165.59L1885.83 162.44L1888.11 159.3L1890.39 156.18L1892.67 153.09L1894.95 150.04L1897.23 147.02L1899.51 144.03L1901.79 141.1L1904.07 138.21L1906.35 135.37L1908.63 132.58L1910.91 129.86L1913.19 127.2L1915.47 124.6L1917.75 122.08L1920.03 119.63L1922.31 117.25L1924.59 114.96L1926.87 112.76L1929.15 110.64L1931.43 108.62L1933.71 106.69L1936 104.85L1938.28 103.12L1940.56 101.49L1942.84 99.97L1945.12 98.55L1947.4 97.25L1949.68 96.06L1951.96 94.98L1954.24 94.02L1956.52 93.18L1958.8 92.45L1961.08 91.85L1963.36 91.37L1965.64 91.01L1967.92 90.77L1970.2 90.66L1972.48 90.67L1974.76 90.8L1977.04 91.06L1979.32 91.44L1981.6 91.94L1983.88 92.56L1986.16 93.3L1988.44 94.17L1990.72 95.14L1993 96.24L1995.29 97.45L1997.57 98.77L1999.85 100.2L2002.13 101.74L2004.41 103.39L2006.69 105.14L2008.97 106.99L2011.25 108.93L2013.53 110.97L2015.81 113.1L2018.09 115.32L2020.37 117.63L2022.65 120.01L2024.93 122.47L2027.21 125.01L2029.49 127.61L2031.77 130.29L2034.05 133.02L2036.33 135.81L2038.61 138.66L2040.89 141.56L2043.17 144.5L2045.45 147.49L2047.73 150.52L2050.01 153.58L2052.29 156.67L2054.57 159.79L2056.86 162.93L2059.14 166.1L2061.42 169.27L2063.7 172.46L2065.98 175.66L2068.26 178.86L2070.54 182.06L2072.82 185.26L2075.1 188.45L2077.38 191.63L2079.66 194.8L2081.94 197.96L2084.22 201.09L2086.5 204.21L2088.78 207.3L2091.06 210.36L2093.34 213.39L2095.62 216.39L2097.9 219.36L2100.18 222.29L2102.46 225.18L2104.74 228.03L2107.02 230.84L2109.3 233.61L2111.58 236.33L2113.86 239L2116.14 241.62L2118.43 244.2L2120.71 246.72L2122.99 249.2L2125.27 251.62L2127.55 253.98L2129.83 256.3L2132.11 258.56L2134.39 260.76L2136.67 262.91L2138.95 265.01L2141.23 267.05L2143.51 269.04L2145.79 270.97L2148.07 272.84L2150.35 274.66L2152.63 276.43L2154.91 278.15L2157.19 279.81L2159.47 281.41L2161.75 282.97L2164.03 284.47L2166.31 285.92L2168.59 287.33L2170.87 288.68L2173.15 289.99L2175.43 291.24L2177.72 292.45L2180 293.62L2182.28 294.74L2184.56 295.82L2186.84 296.85L2189.12 297.84L2191.4 298.79L2193.68 299.71L2195.96 300.58L2198.24 301.42L2200.52 302.22L2202.8 302.98L2205.08 303.71L2207.36 304.41L2209.64 305.08L2211.92 305.71L2214.2 306.31L2216.48 306.89L2218.76 307.44L2221.04 307.96L2223.32 308.46L2225.6 308.93L2227.88 309.37L2230.16 309.8L2232.44 310.2L2234.72 310.58L2237 310.94L2239.29 311.28L2241.57 311.61L2243.85 311.91L2246.13 312.2L2248.41 312.47L2250.69 312.73L2252.97 312.97L2255.25 313.2L2257.53 313.41L2259.81 313.62L2262.09 313.81L2264.37 313.98L2266.65 314.15L2268.93 314.31L2271.21 314.46L2273.49 314.6L2275.77 314.73L2278.05 314.85L2280.33 314.96L2282.61 315.07L2284.89 315.17L2287.17 315.26L2289.45 315.35L2291.73 315.43L2294.01 315.51L2296.29 315.58L2296.29 316.45L1714.8 316.45Z" fill="#F8766D" fill-opacity="0.4" stroke="none"/>
<path d="M1714.8 306.94L1717.08 306.37L1719.36 305.77L1721.64 305.14L1723.92 304.47L1726.2 303.78L1728.48 303.05L1730.76 302.29L1733.04 301.49L1735.32 300.66L1737.6 299.79L1739.88 298.88L1742.16 297.93L1744.44 296.94L1746.72 295.91L1749 294.84L1751.28 293.72L1753.57 292.56L1755.85 291.36L1758.13 290.1L1760.41 288.8L1762.69 287.45L1764.97 286.06L1767.25 284.61L1769.53 283.11L1771.81 281.56L1774.09 279.96L1776.37 278.3L1778.65 276.59L1780.93 274.83L1783.21 273.02L1785.49 271.14L1787.77 269.22L1790.05 267.24L1792.33 265.2L1794.61 263.11L1796.89 260.97L1799.17 258.77L1801.45 256.51L1803.73 254.2L1806.01 251.84L1808.29 249.42L1810.57 246.96L1812.86 244.44L1815.14 241.87L1817.42 239.25L1819.7 236.58L1821.98 233.86L1824.26 231.1L1826.54 228.3L1828.82 225.45L1831.1 222.56L1833.38 219.63L1835.66 216.67L1837.94 213.67L1840.22 210.64L1842.5 207.58L1844.78 204.5L1847.06 201.38L1849.34 198.25L1851.62 195.1L1853.9 191.93L1856.18 188.75L1858.46 185.56L1860.74 182.36L1863.02 179.16L1865.3 175.96L1867.58 172.76L1869.86 169.57L1872.14 166.39L1874.43 163.23L1876.71 160.08L1878.99 156.96L1881.27 153.87L1883.55 150.8L1885.83 147.77L1888.11 144.78L1890.39 141.83L1892.67 138.93L1894.95 136.08L1897.23 133.28L1899.51 130.54L1901.79 127.86L1904.07 125.25L1906.35 122.71L1908.63 120.24L1910.91 117.84L1913.19 115.53L1915.47 113.31L1917.75 111.17L1920.03 109.12L1922.31 107.16L1924.59 105.31L1926.87 103.55L1929.15 101.89L1931.43 100.34L1933.71 98.9L1936 97.57L1938.28 96.35L1940.56 95.24L1942.84 94.25L1945.12 93.38L1947.4 92.63L1949.68 91.99L1951.96 91.48L1954.24 91.09L1956.52 90.82L1958.8 90.68L1961.08 90.66L1963.36 90.76L1965.64 90.98L1967.92 91.33L1970.2 91.8L1972.48 92.39L1974.76 93.11L1977.04 93.94L1979.32 94.89L1981.6 95.95L1983.88 97.13L1986.16 98.43L1988.44 99.83L1990.72 101.35L1993 102.96L1995.29 104.69L1997.57 106.51L1999.85 108.43L2002.13 110.45L2004.41 112.56L2006.69 114.76L2008.97 117.04L2011.25 119.4L2013.53 121.85L2015.81 124.36L2018.09 126.95L2020.37 129.61L2022.65 132.33L2024.93 135.11L2027.21 137.94L2029.49 140.83L2031.77 143.76L2034.05 146.74L2036.33 149.75L2038.61 152.81L2040.89 155.89L2043.17 159.01L2045.45 162.14L2047.73 165.3L2050.01 168.47L2052.29 171.66L2054.57 174.85L2056.86 178.05L2059.14 181.25L2061.42 184.45L2063.7 187.65L2065.98 190.83L2068.26 194.01L2070.54 197.17L2072.82 200.31L2075.1 203.43L2077.38 206.52L2079.66 209.59L2081.94 212.63L2084.22 215.64L2086.5 218.62L2088.78 221.56L2091.06 224.46L2093.34 227.32L2095.62 230.14L2097.9 232.92L2100.18 235.65L2102.46 238.33L2104.74 240.97L2107.02 243.56L2109.3 246.09L2111.58 248.58L2113.86 251.01L2116.14 253.39L2118.43 255.72L2120.71 257.99L2122.99 260.21L2125.27 262.38L2127.55 264.49L2129.83 266.54L2132.11 268.54L2134.39 270.49L2136.67 272.38L2138.95 274.21L2141.23 275.99L2143.51 277.72L2145.79 279.39L2148.07 281.01L2150.35 282.58L2152.63 284.1L2154.91 285.56L2157.19 286.98L2159.47 288.34L2161.75 289.66L2164.03 290.93L2166.31 292.15L2168.59 293.33L2170.87 294.46L2173.15 295.55L2175.43 296.59L2177.72 297.6L2180 298.56L2182.28 299.48L2184.56 300.36L2186.84 301.21L2189.12 302.02L2191.4 302.79L2193.68 303.53L2195.96 304.24L2198.24 304.91L2200.52 305.55L2202.8 306.17L2205.08 306.75L2207.36 307.3L2209.64 307.83L2211.92 308.33L2214.2 308.81L2216.48 309.26L2218.76 309.69L2221.04 310.1L2223.32 310.49L2225.6 310.85L2227.88 311.2L2230.16 311.53L2232.44 311.84L2234.72 312.13L2237 312.4L2239.29 312.67L2241.57 312.91L2243.85 313.14L2246.13 313.36L2248.41 313.57L2250.69 313.76L2252.97 313.94L2255.25 314.11L2257.53 314.27L2259.81 314.42L2262.09 314.56L2264.37 314.69L2266.65 314.82L2268.93 314.93L2271.21 315.04L2273.49 315.14L2275.77 315.24L2278.05 315.33L2280.33 315.41L2282.61 315.49L2284.89 315.56L2287.17 315.63L2289.45 315.69L2291.73 315.75L2294.01 315.8L2296.29 315.85L2296.29 316.45L1714.8 316.45Z" fill="#22C3C8" fill-opacity="0.4" stroke="none"/>
</g>
<rect x="2325.8" y="78.3" width="56.1" height="249.5" fill="#D9D9D9"/>
<text transform="translate(2353.85 203.05) rotate(90)" x="0" y="11.17" text-anchor="middle" font-size="31.2" fill="#1A1A1A">4</text>
<text x="1669" y="327.92" text-anchor="end" font-size="31.2" fill="#4D4D4D">0.0</text>
<text x="1669" y="271.32" text-anchor="end" font-size="31.2" fill="#4D4D4D">0.1</text>
<text x="1669" y="214.72" text-anchor="end" font-size="31.2" fill="#4D4D4D">0.2</text>
<text x="1669" y="158.12" text-anchor="end" font-size="31.2" fill="#4D4D4D">0.3</text>
<text x="1669" y="101.52" text-anchor="end" font-size="31.2" fill="#4D4D4D">0.4</text>
<path d="M1676 316.45H1684.8M1676 259.85H1684.8M1676 203.25H1684.8M1676 146.65H1684.8M1676 90.05H1684.8" stroke="#333333" stroke-width="3.4" fill="none"/>
</g>
<g>
<rect x="1684.8" y="345" width="641" height="248.8" fill="#EBEBEB"/>
<g clip-path="url(#cp21)">
<path d="M1684.8 554.1H2325.8M1684.8 497.5H2325.8M1684.8 440.9H2325.8M1684.8 384.3H2325.8M1868.05 345V593.8M2063.15 345V593.8M2258.25 345V593.8" stroke="#fff" stroke-width="1.7" fill="none"/>
<path d="M1684.8 582.4H2325.8M1684.8 525.8H2325.8M1684.8 469.2H2325.8M1684.8 412.6H2325.8M1684.8 356H2325.8M1770.5 345V593.8M1965.6 345V593.8M2160.7 345V593.8" stroke="#fff" stroke-width="3.4" fill="none"/>
<path d="M1714.8 575.02L1717.08 574.55L1719.36 574.07L1721.64 573.55L1723.92 573.01L1726.2 572.44L1728.48 571.85L1730.76 571.22L1733.04 570.57L1735.32 569.88L1737.6 569.16L1739.88 568.4L1742.16 567.62L1744.44 566.79L1746.72 565.93L1749 565.03L1751.28 564.09L1753.57 563.11L1755.85 562.09L1758.13 561.02L1760.41 559.92L1762.69 558.77L1764.97 557.57L1767.25 556.33L1769.53 555.04L1771.81 553.7L1774.09 552.31L1776.37 550.87L1778.65 549.38L1780.93 547.85L1783.21 546.25L1785.49 544.61L1787.77 542.91L1790.05 541.16L1792.33 539.36L1794.61 537.5L1796.89 535.58L1799.17 533.62L1801.45 531.59L1803.73 529.51L1806.01 527.38L1808.29 525.19L1810.57 522.95L1812.86 520.65L1815.14 518.3L1817.42 515.89L1819.7 513.44L1821.98 510.93L1824.26 508.37L1826.54 505.76L1828.82 503.1L1831.1 500.4L1833.38 497.65L1835.66 494.85L1837.94 492.01L1840.22 489.13L1842.5 486.21L1844.78 483.26L1847.06 480.27L1849.34 477.24L1851.62 474.19L1853.9 471.11L1856.18 468L1858.46 464.87L1860.74 461.72L1863.02 458.56L1865.3 455.38L1867.58 452.19L1869.86 448.99L1872.14 445.79L1874.43 442.59L1876.71 439.39L1878.99 436.2L1881.27 433.02L1883.55 429.85L1885.83 426.7L1888.11 423.58L1890.39 420.48L1892.67 417.4L1894.95 414.37L1897.23 411.37L1899.51 408.41L1901.79 405.49L1904.07 402.63L1906.35 399.82L1908.63 397.07L1910.91 394.38L1913.19 391.75L1915.47 389.19L1917.75 386.71L1920.03 384.3L1922.31 381.97L1924.59 379.72L1926.87 377.57L1929.15 375.5L1931.43 373.52L1933.71 371.64L1936 369.86L1938.28 368.19L1940.56 366.61L1942.84 365.15L1945.12 363.79L1947.4 362.55L1949.68 361.42L1951.96 360.4L1954.24 359.51L1956.52 358.73L1958.8 358.07L1961.08 357.53L1963.36 357.11L1965.64 356.82L1967.92 356.65L1970.2 356.6L1972.48 356.68L1974.76 356.87L1977.04 357.2L1979.32 357.64L1981.6 358.21L1983.88 358.89L1986.16 359.7L1988.44 360.62L1990.72 361.67L1993 362.82L1995.29 364.09L1997.57 365.47L1999.85 366.96L2002.13 368.56L2004.41 370.26L2006.69 372.06L2008.97 373.96L2011.25 375.96L2013.53 378.05L2015.81 380.23L2018.09 382.49L2020.37 384.84L2022.65 387.27L2024.93 389.77L2027.21 392.34L2029.49 394.98L2031.77 397.69L2034.05 400.46L2036.33 403.28L2038.61 406.15L2040.89 409.08L2043.17 412.05L2045.45 415.06L2047.73 418.1L2050.01 421.18L2052.29 424.29L2054.57 427.42L2056.86 430.57L2059.14 433.74L2061.42 436.93L2063.7 440.12L2065.98 443.32L2068.26 446.52L2070.54 449.72L2072.82 452.92L2075.1 456.1L2077.38 459.28L2079.66 462.44L2081.94 465.59L2084.22 468.71L2086.5 471.81L2088.78 474.89L2091.06 477.94L2093.34 480.95L2095.62 483.93L2097.9 486.88L2100.18 489.79L2102.46 492.66L2104.74 495.49L2107.02 498.28L2109.3 501.02L2111.58 503.71L2113.86 506.36L2116.14 508.96L2118.43 511.5L2120.71 514L2122.99 516.45L2125.27 518.84L2127.55 521.18L2129.83 523.46L2132.11 525.69L2134.39 527.87L2136.67 529.99L2138.95 532.06L2141.23 534.07L2143.51 536.03L2145.79 537.93L2148.07 539.77L2150.35 541.57L2152.63 543.3L2154.91 544.99L2157.19 546.62L2159.47 548.2L2161.75 549.73L2164.03 551.2L2166.31 552.63L2168.59 554.01L2170.87 555.33L2173.15 556.61L2175.43 557.85L2177.72 559.03L2180 560.17L2182.28 561.27L2184.56 562.32L2186.84 563.34L2189.12 564.31L2191.4 565.24L2193.68 566.13L2195.96 566.98L2198.24 567.8L2200.52 568.58L2202.8 569.33L2205.08 570.04L2207.36 570.72L2209.64 571.37L2211.92 571.99L2214.2 572.58L2216.48 573.14L2218.76 573.67L2221.04 574.18L2223.32 574.66L2225.6 575.12L2227.88 575.55L2230.16 575.97L2232.44 576.36L2234.72 576.73L2237 577.08L2239.29 577.41L2241.57 577.72L2243.85 578.02L2246.13 578.3L2248.41 578.56L2250.69 578.81L2252.97 579.04L2255.25 579.26L2257.53 579.47L2259.81 579.67L2262.09 579.85L2264.37 580.03L2266.65 580.19L2268.93 580.34L2271.21 580.48L2273.49 580.62L2275.77 580.74L2278.05 580.86L2280.33 580.97L2282.61 581.07L2284.89 581.17L2287.17 581.26L2289.45 581.34L2291.73 581.42L2294.01 581.49L2296.29 581.56L2296.29 582.4L1714.8 582.4Z" fill="#F8766D" fill-opacity="0.4" stroke="none"/>
<path d="M1714.8 573.52L1717.08 572.98L1719.36 572.41L1721.64 571.81L1723.92 571.19L1726.2 570.53L1728.48 569.84L1730.76 569.12L1733.04 568.36L1735.32 567.57L1737.6 566.74L1739.88 565.88L1742.16 564.97L1744.44 564.03L1746.72 563.05L1749 562.03L1751.28 560.96L1753.57 559.85L1755.85 558.7L1758.13 557.5L1760.41 556.25L1762.69 554.96L1764.97 553.62L1767.25 552.23L1769.53 550.79L1771.81 549.3L1774.09 547.75L1776.37 546.16L1778.65 544.51L1780.93 542.81L1783.21 541.06L1785.49 539.25L1787.77 537.39L1790.05 535.47L1792.33 533.5L1794.61 531.47L1796.89 529.39L1799.17 527.25L1801.45 525.06L1803.73 522.81L1806.01 520.51L1808.29 518.16L1810.57 515.75L1812.86 513.29L1815.14 510.78L1817.42 508.22L1819.7 505.6L1821.98 502.94L1824.26 500.24L1826.54 497.48L1828.82 494.68L1831.1 491.84L1833.38 488.96L1835.66 486.04L1837.94 483.08L1840.22 480.09L1842.5 477.07L1844.78 474.01L1847.06 470.93L1849.34 467.82L1851.62 464.69L1853.9 461.54L1856.18 458.37L1858.46 455.19L1860.74 452L1863.02 448.8L1865.3 445.6L1867.58 442.4L1869.86 439.2L1872.14 436.01L1874.43 432.83L1876.71 429.67L1878.99 426.52L1881.27 423.39L1883.55 420.3L1885.83 417.23L1888.11 414.19L1890.39 411.19L1892.67 408.24L1894.95 405.33L1897.23 402.46L1899.51 399.66L1901.79 396.91L1904.07 394.22L1906.35 391.6L1908.63 389.04L1910.91 386.56L1913.19 384.16L1915.47 381.84L1917.75 379.6L1920.03 377.44L1922.31 375.38L1924.59 373.41L1926.87 371.54L1929.15 369.76L1931.43 368.09L1933.71 366.53L1936 365.07L1938.28 363.72L1940.56 362.48L1942.84 361.36L1945.12 360.35L1947.4 359.46L1949.68 358.68L1951.96 358.03L1954.24 357.5L1956.52 357.09L1958.8 356.8L1961.08 356.64L1963.36 356.6L1965.64 356.68L1967.92 356.89L1970.2 357.22L1972.48 357.67L1974.76 358.24L1977.04 358.94L1979.32 359.75L1981.6 360.68L1983.88 361.73L1986.16 362.89L1988.44 364.17L1990.72 365.56L1993 367.05L1995.29 368.66L1997.57 370.36L1999.85 372.17L2002.13 374.08L2004.41 376.08L2006.69 378.18L2008.97 380.36L2011.25 382.63L2013.53 384.98L2015.81 387.41L2018.09 389.92L2020.37 392.5L2022.65 395.14L2024.93 397.85L2027.21 400.62L2029.49 403.45L2031.77 406.32L2034.05 409.25L2036.33 412.22L2038.61 415.23L2040.89 418.28L2043.17 421.36L2045.45 424.47L2047.73 427.6L2050.01 430.76L2052.29 433.93L2054.57 437.11L2056.86 440.31L2059.14 443.51L2061.42 446.71L2063.7 449.91L2065.98 453.1L2068.26 456.29L2070.54 459.47L2072.82 462.63L2075.1 465.77L2077.38 468.89L2079.66 471.99L2081.94 475.07L2084.22 478.11L2086.5 481.13L2088.78 484.11L2091.06 487.05L2093.34 489.96L2095.62 492.83L2097.9 495.66L2100.18 498.44L2102.46 501.18L2104.74 503.87L2107.02 506.51L2109.3 509.11L2111.58 511.65L2113.86 514.15L2116.14 516.59L2118.43 518.98L2120.71 521.31L2122.99 523.6L2125.27 525.82L2127.55 528L2129.83 530.11L2132.11 532.18L2134.39 534.19L2136.67 536.14L2138.95 538.04L2141.23 539.88L2143.51 541.67L2145.79 543.41L2148.07 545.09L2150.35 546.72L2152.63 548.29L2154.91 549.82L2157.19 551.29L2159.47 552.71L2161.75 554.09L2164.03 555.41L2166.31 556.69L2168.59 557.92L2170.87 559.1L2173.15 560.24L2175.43 561.33L2177.72 562.38L2180 563.39L2182.28 564.36L2184.56 565.29L2186.84 566.18L2189.12 567.03L2191.4 567.85L2193.68 568.62L2195.96 569.37L2198.24 570.08L2200.52 570.76L2202.8 571.41L2205.08 572.02L2207.36 572.61L2209.64 573.17L2211.92 573.7L2214.2 574.21L2216.48 574.69L2218.76 575.15L2221.04 575.58L2223.32 575.99L2225.6 576.38L2227.88 576.75L2230.16 577.1L2232.44 577.43L2234.72 577.74L2237 578.03L2239.29 578.31L2241.57 578.58L2243.85 578.82L2246.13 579.06L2248.41 579.28L2250.69 579.48L2252.97 579.68L2255.25 579.86L2257.53 580.04L2259.81 580.2L2262.09 580.35L2264.37 580.49L2266.65 580.62L2268.93 580.75L2271.21 580.87L2273.49 580.98L2275.77 581.08L2278.05 581.17L2280.33 581.26L2282.61 581.35L2284.89 581.43L2287.17 581.5L2289.45 581.57L2291.73 581.63L2294.01 581.69L2296.29 581.74L2296.29 582.4L1714.8 582.4Z" fill="#22C3C8" fill-opacity="0.4" stroke="none"/>
</g>
<rect x="2325.8" y="345" width="56.1" height="248.8" fill="#D9D9D9"/>
<text transform="translate(2353.85 469.4) rotate(90)" x="0" y="11.17" text-anchor="middle" font-size="31.2" fill="#1A1A1A">3</text>
<text x="1669" y="593.87" text-anchor="end" font-size="31.2" fill="#4D4D4D">0.0</text>
<text x="1669" y="537.27" text-anchor="end" font-size="31.2" fill="#4D4D4D">0.1</text>
<text x="1669" y="480.67" text-anchor="end" font-size="31.2" fill="#4D4D4D">0.2</text>
<text x="1669" y="424.07" text-anchor="end" font-size="31.2" fill="#4D4D4D">0.3</text>
<text x="1669" y="367.47" text-anchor="end" font-size="31.2" fill="#4D4D4D">0.4</text>
<path d="M1676 582.4H1684.8M1676 525.8H1684.8M1676 469.2H1684.8M1676 412.6H1684.8M1676 356H1684.8" stroke="#333333" stroke-width="3.4" fill="none"/>
</g>
<g>
<rect x="1684.8" y="612" width="641" height="247.8" fill="#EBEBEB"/>
<g clip-path="url(#cp22)">
<path d="M1684.8 816.2H2325.8M1684.8 750.5H2325.8M1684.8 684.8H2325.8M1684.8 619.1H2325.8M1868.05 612V859.8M2063.15 612V859.8M2258.25 612V859.8" stroke="#fff" stroke-width="1.7" fill="none"/>
<path d="M1684.8 849.05H2325.8M1684.8 783.35H2325.8M1684.8 717.65H2325.8M1684.8 651.95H2325.8M1770.5 612V859.8M1965.6 612V859.8M2160.7 612V859.8" stroke="#fff" stroke-width="3.4" fill="none"/>
<path d="M1714.8 849.05L1717.08 849.05L1719.36 849.05L1721.64 849.05L1723.92 849.05L1726.2 849.05L1728.48 849.05L1730.76 849.05L1733.04 849.05L1735.32 849.05L1737.6 849.05L1739.88 849.05L1742.16 849.05L1744.44 849.05L1746.72 849.05L1749 849.05L1751.28 849.05L1753.57 849.05L1755.85 849.05L1758.13 849.05L1760.41 849.05L1762.69 849.05L1764.97 849.05L1767.25 849.05L1769.53 849.05L1771.81 849.05L1774.09 849.05L1776.37 849.05L1778.65 849.05L1780.93 849.05L1783.21 849.05L1785.49 849.05L1787.77 849.05L1790.05 849.05L1792.33 849.05L1794.61 849.05L1796.89 849.05L1799.17 849.05L1801.45 849.05L1803.73 849.05L1806.01 849.05L1808.29 849.05L1810.57 849.05L1812.86 849.05L1815.14 849.05L1817.42 849.05L1819.7 849.05L1821.98 849.05L1824.26 849.04L1826.54 849.04L1828.82 849.04L1831.1 849.04L1833.38 849.04L1835.66 849.03L1837.94 849.03L1840.22 849.03L1842.5 849.02L1844.78 849.01L1847.06 849L1849.34 848.99L1851.62 848.98L1853.9 848.96L1856.18 848.95L1858.46 848.92L1860.74 848.89L1863.02 848.86L1865.3 848.82L1867.58 848.78L1869.86 848.72L1872.14 848.65L1874.43 848.58L1876.71 848.49L1878.99 848.38L1881.27 848.25L1883.55 848.1L1885.83 847.93L1888.11 847.73L1890.39 847.5L1892.67 847.24L1894.95 846.93L1897.23 846.58L1899.51 846.18L1901.79 845.72L1904.07 845.2L1906.35 844.6L1908.63 843.93L1910.91 843.17L1913.19 842.32L1915.47 841.36L1917.75 840.28L1920.03 839.09L1922.31 837.76L1924.59 836.28L1926.87 834.65L1929.15 832.85L1931.43 830.88L1933.71 828.71L1936 826.34L1938.28 823.77L1940.56 820.97L1942.84 817.95L1945.12 814.69L1947.4 811.18L1949.68 807.43L1951.96 803.41L1954.24 799.14L1956.52 794.61L1958.8 789.82L1961.08 784.77L1963.36 779.47L1965.64 773.93L1967.92 768.16L1970.2 762.16L1972.48 755.96L1974.76 749.57L1977.04 743.01L1979.32 736.32L1981.6 729.5L1983.88 722.6L1986.16 715.65L1988.44 708.67L1990.72 701.71L1993 694.79L1995.29 687.97L1997.57 681.27L1999.85 674.75L2002.13 668.43L2004.41 662.37L2006.69 656.6L2008.97 651.15L2011.25 646.08L2013.53 641.4L2015.81 637.17L2018.09 633.4L2020.37 630.13L2022.65 627.37L2024.93 625.16L2027.21 623.51L2029.49 622.42L2031.77 621.91L2034.05 621.99L2036.33 622.65L2038.61 623.88L2040.89 625.68L2043.17 628.03L2045.45 630.92L2047.73 634.33L2050.01 638.22L2052.29 642.57L2054.57 647.35L2056.86 652.52L2059.14 658.06L2061.42 663.91L2063.7 670.04L2065.98 676.42L2068.26 682.99L2070.54 689.72L2072.82 696.57L2075.1 703.5L2077.38 710.47L2079.66 717.45L2081.94 724.39L2084.22 731.27L2086.5 738.06L2088.78 744.72L2091.06 751.24L2093.34 757.58L2095.62 763.73L2097.9 769.67L2100.18 775.39L2102.46 780.87L2104.74 786.1L2107.02 791.08L2109.3 795.8L2111.58 800.27L2113.86 804.47L2116.14 808.42L2118.43 812.11L2120.71 815.55L2122.99 818.75L2125.27 821.72L2127.55 824.46L2129.83 826.98L2132.11 829.29L2134.39 831.4L2136.67 833.33L2138.95 835.09L2141.23 836.68L2143.51 838.11L2145.79 839.41L2148.07 840.57L2150.35 841.62L2152.63 842.55L2154.91 843.37L2157.19 844.11L2159.47 844.76L2161.75 845.34L2164.03 845.84L2166.31 846.29L2168.59 846.68L2170.87 847.02L2173.15 847.31L2175.43 847.57L2177.72 847.79L2180 847.98L2182.28 848.15L2184.56 848.29L2186.84 848.41L2189.12 848.51L2191.4 848.6L2193.68 848.67L2195.96 848.74L2198.24 848.79L2200.52 848.83L2202.8 848.87L2205.08 848.9L2207.36 848.93L2209.64 848.95L2211.92 848.97L2214.2 848.98L2216.48 849L2218.76 849.01L2221.04 849.01L2223.32 849.02L2225.6 849.03L2227.88 849.03L2230.16 849.04L2232.44 849.04L2234.72 849.04L2237 849.04L2239.29 849.04L2241.57 849.05L2243.85 849.05L2246.13 849.05L2248.41 849.05L2250.69 849.05L2252.97 849.05L2255.25 849.05L2257.53 849.05L2259.81 849.05L2262.09 849.05L2264.37 849.05L2266.65 849.05L2268.93 849.05L2271.21 849.05L2273.49 849.05L2275.77 849.05L2278.05 849.05L2280.33 849.05L2282.61 849.05L2284.89 849.05L2287.17 849.05L2289.45 849.05L2291.73 849.05L2294.01 849.05L2296.29 849.05L2296.29 849.05L1714.8 849.05Z" fill="#F8766D" fill-opacity="0.4" stroke="none"/>
<path d="M1714.8 849.05L1717.08 849.05L1719.36 849.05L1721.64 849.05L1723.92 849.05L1726.2 849.05L1728.48 849.05L1730.76 849.05L1733.04 849.05L1735.32 849.05L1737.6 849.05L1739.88 849.05L1742.16 849.05L1744.44 849.05L1746.72 849.05L1749 849.05L1751.28 849.05L1753.57 849.05L1755.85 849.05L1758.13 849.05L1760.41 849.05L1762.69 849.05L1764.97 849.05L1767.25 849.05L1769.53 849.05L1771.81 849.05L1774.09 849.05L1776.37 849.05L1778.65 849.05L1780.93 849.05L1783.21 849.05L1785.49 849.05L1787.77 849.05L1790.05 849.05L1792.33 849.05L1794.61 849.05L1796.89 849.05L1799.17 849.05L1801.45 849.05L1803.73 849.05L1806.01 849.05L1808.29 849.05L1810.57 849.05L1812.86 849.05L1815.14 849.05L1817.42 849.05L1819.7 849.05L1821.98 849.05L1824.26 849.04L1826.54 849.04L1828.82 849.04L1831.1 849.04L1833.38 849.04L1835.66 849.03L1837.94 849.03L1840.22 849.02L1842.5 849.02L1844.78 849.01L1847.06 849L1849.34 848.99L1851.62 848.97L1853.9 848.96L1856.18 848.93L1858.46 848.91L1860.74 848.88L1863.02 848.84L1865.3 848.8L1867.58 848.75L1869.86 848.69L1872.14 848.62L1874.43 848.54L1876.71 848.44L1878.99 848.33L1881.27 848.2L1883.55 848.04L1885.83 847.86L1888.11 847.65L1890.39 847.41L1892.67 847.13L1894.95 846.81L1897.23 846.45L1899.51 846.03L1901.79 845.55L1904.07 845.01L1906.35 844.39L1908.63 843.7L1910.91 842.92L1913.19 842.04L1915.47 841.06L1917.75 839.96L1920.03 838.73L1922.31 837.38L1924.59 835.87L1926.87 834.21L1929.15 832.38L1931.43 830.38L1933.71 828.19L1936 825.79L1938.28 823.19L1940.56 820.38L1942.84 817.33L1945.12 814.05L1947.4 810.53L1949.68 806.76L1951.96 802.74L1954.24 798.47L1956.52 793.94L1958.8 789.15L1961.08 784.12L1963.36 778.84L1965.64 773.33L1967.92 767.59L1970.2 761.63L1972.48 755.48L1974.76 749.14L1977.04 742.65L1979.32 736.02L1981.6 729.28L1983.88 722.46L1986.16 715.6L1988.44 708.71L1990.72 701.84L1993 695.03L1995.29 688.31L1997.57 681.72L1999.85 675.3L2002.13 669.09L2004.41 663.13L2006.69 657.46L2008.97 652.11L2011.25 647.13L2013.53 642.54L2015.81 638.39L2018.09 634.69L2020.37 631.48L2022.65 628.78L2024.93 626.61L2027.21 624.99L2029.49 623.93L2031.77 623.43L2034.05 623.5L2036.33 624.15L2038.61 625.35L2040.89 627.12L2043.17 629.43L2045.45 632.26L2047.73 635.6L2050.01 639.42L2052.29 643.69L2054.57 648.38L2056.86 653.46L2059.14 658.89L2061.42 664.64L2063.7 670.67L2065.98 676.94L2068.26 683.41L2070.54 690.03L2072.82 696.78L2075.1 703.61L2077.38 710.49L2079.66 717.37L2081.94 724.23L2084.22 731.03L2086.5 737.74L2088.78 744.34L2091.06 750.79L2093.34 757.08L2095.62 763.19L2097.9 769.09L2100.18 774.77L2102.46 780.23L2104.74 785.44L2107.02 790.41L2109.3 795.13L2111.58 799.59L2113.86 803.8L2116.14 807.76L2118.43 811.46L2120.71 814.92L2122.99 818.14L2125.27 821.12L2127.55 823.89L2129.83 826.43L2132.11 828.77L2134.39 830.92L2136.67 832.87L2138.95 834.66L2141.23 836.27L2143.51 837.74L2145.79 839.06L2148.07 840.25L2150.35 841.32L2152.63 842.28L2154.91 843.13L2157.19 843.89L2159.47 844.56L2161.75 845.15L2164.03 845.68L2166.31 846.14L2168.59 846.55L2170.87 846.9L2173.15 847.21L2175.43 847.48L2177.72 847.71L2180 847.91L2182.28 848.08L2184.56 848.23L2186.84 848.36L2189.12 848.47L2191.4 848.56L2193.68 848.64L2195.96 848.71L2198.24 848.77L2200.52 848.81L2202.8 848.85L2205.08 848.89L2207.36 848.92L2209.64 848.94L2211.92 848.96L2214.2 848.98L2216.48 848.99L2218.76 849L2221.04 849.01L2223.32 849.02L2225.6 849.02L2227.88 849.03L2230.16 849.03L2232.44 849.04L2234.72 849.04L2237 849.04L2239.29 849.04L2241.57 849.04L2243.85 849.05L2246.13 849.05L2248.41 849.05L2250.69 849.05L2252.97 849.05L2255.25 849.05L2257.53 849.05L2259.81 849.05L2262.09 849.05L2264.37 849.05L2266.65 849.05L2268.93 849.05L2271.21 849.05L2273.49 849.05L2275.77 849.05L2278.05 849.05L2280.33 849.05L2282.61 849.05L2284.89 849.05L2287.17 849.05L2289.45 849.05L2291.73 849.05L2294.01 849.05L2296.29 849.05L2296.29 849.05L1714.8 849.05Z" fill="#22C3C8" fill-opacity="0.4" stroke="none"/>
</g>
<rect x="2325.8" y="612" width="56.1" height="247.8" fill="#D9D9D9"/>
<text transform="translate(2353.85 735.9) rotate(90)" x="0" y="11.17" text-anchor="middle" font-size="31.2" fill="#1A1A1A">1</text>
<text x="1669" y="860.52" text-anchor="end" font-size="31.2" fill="#4D4D4D">0.00</text>
<text x="1669" y="794.82" text-anchor="end" font-size="31.2" fill="#4D4D4D">0.25</text>
<text x="1669" y="729.12" text-anchor="end" font-size="31.2" fill="#4D4D4D">0.50</text>
<text x="1669" y="663.42" text-anchor="end" font-size="31.2" fill="#4D4D4D">0.75</text>
<path d="M1676 849.05H1684.8M1676 783.35H1684.8M1676 717.65H1684.8M1676 651.95H1684.8" stroke="#333333" stroke-width="3.4" fill="none"/>
</g>
<g>
<rect x="1684.8" y="878.1" width="641" height="247.6" fill="#EBEBEB"/>
<g clip-path="url(#cp23)">
<path d="M1684.8 1087H2325.8M1684.8 1030.4H2325.8M1684.8 973.8H2325.8M1684.8 917.2H2325.8M1868.05 878.1V1125.7M2063.15 878.1V1125.7M2258.25 878.1V1125.7" stroke="#fff" stroke-width="1.7" fill="none"/>
<path d="M1684.8 1115.3H2325.8M1684.8 1058.7H2325.8M1684.8 1002.1H2325.8M1684.8 945.5H2325.8M1684.8 888.9H2325.8M1770.5 878.1V1125.7M1965.6 878.1V1125.7M2160.7 878.1V1125.7" stroke="#fff" stroke-width="3.4" fill="none"/>
<path d="M1714.8 1107.01L1717.08 1106.5L1719.36 1105.97L1721.64 1105.4L1723.92 1104.81L1726.2 1104.18L1728.48 1103.53L1730.76 1102.85L1733.04 1102.13L1735.32 1101.38L1737.6 1100.59L1739.88 1099.77L1742.16 1098.91L1744.44 1098.02L1746.72 1097.08L1749 1096.1L1751.28 1095.09L1753.57 1094.03L1755.85 1092.93L1758.13 1091.78L1760.41 1090.59L1762.69 1089.35L1764.97 1088.06L1767.25 1086.73L1769.53 1085.35L1771.81 1083.91L1774.09 1082.43L1776.37 1080.9L1778.65 1079.31L1780.93 1077.67L1783.21 1075.98L1785.49 1074.23L1787.77 1072.43L1790.05 1070.58L1792.33 1068.67L1794.61 1066.71L1796.89 1064.69L1799.17 1062.62L1801.45 1060.49L1803.73 1058.3L1806.01 1056.07L1808.29 1053.77L1810.57 1051.43L1812.86 1049.03L1815.14 1046.58L1817.42 1044.07L1819.7 1041.52L1821.98 1038.91L1824.26 1036.26L1826.54 1033.56L1828.82 1030.81L1831.1 1028.02L1833.38 1025.19L1835.66 1022.31L1837.94 1019.4L1840.22 1016.44L1842.5 1013.46L1844.78 1010.44L1847.06 1007.39L1849.34 1004.31L1851.62 1001.2L1853.9 998.07L1856.18 994.93L1858.46 991.76L1860.74 988.58L1863.02 985.4L1865.3 982.2L1867.58 979L1869.86 975.8L1872.14 972.6L1874.43 969.41L1876.71 966.23L1878.99 963.06L1881.27 959.91L1883.55 956.78L1885.83 953.67L1888.11 950.6L1890.39 947.56L1892.67 944.55L1894.95 941.59L1897.23 938.67L1899.51 935.8L1901.79 932.99L1904.07 930.23L1906.35 927.53L1908.63 924.9L1910.91 922.34L1913.19 919.84L1915.47 917.43L1917.75 915.09L1920.03 912.84L1922.31 910.67L1924.59 908.59L1926.87 906.61L1929.15 904.72L1931.43 902.93L1933.71 901.24L1936 899.66L1938.28 898.19L1940.56 896.82L1942.84 895.56L1945.12 894.42L1947.4 893.4L1949.68 892.49L1951.96 891.7L1954.24 891.03L1956.52 890.48L1958.8 890.05L1961.08 889.74L1963.36 889.56L1965.64 889.5L1967.92 889.56L1970.2 889.75L1972.48 890.06L1974.76 890.49L1977.04 891.05L1979.32 891.72L1981.6 892.52L1983.88 893.43L1986.16 894.46L1988.44 895.61L1990.72 896.86L1993 898.24L1995.29 899.72L1997.57 901.3L1999.85 902.99L2002.13 904.79L2004.41 906.68L2006.69 908.66L2008.97 910.75L2011.25 912.92L2013.53 915.17L2015.81 917.51L2018.09 919.93L2020.37 922.42L2022.65 924.99L2024.93 927.63L2027.21 930.33L2029.49 933.09L2031.77 935.9L2034.05 938.78L2036.33 941.69L2038.61 944.66L2040.89 947.66L2043.17 950.71L2045.45 953.78L2047.73 956.89L2050.01 960.02L2052.29 963.17L2054.57 966.34L2056.86 969.52L2059.14 972.71L2061.42 975.91L2063.7 979.11L2065.98 982.31L2068.26 985.51L2070.54 988.7L2072.82 991.87L2075.1 995.04L2077.38 998.18L2079.66 1001.31L2081.94 1004.41L2084.22 1007.49L2086.5 1010.54L2088.78 1013.56L2091.06 1016.55L2093.34 1019.5L2095.62 1022.41L2097.9 1025.29L2100.18 1028.12L2102.46 1030.91L2104.74 1033.65L2107.02 1036.35L2109.3 1039.01L2111.58 1041.61L2113.86 1044.16L2116.14 1046.66L2118.43 1049.11L2120.71 1051.51L2122.99 1053.85L2125.27 1056.15L2127.55 1058.38L2129.83 1060.56L2132.11 1062.69L2134.39 1064.76L2136.67 1066.78L2138.95 1068.74L2141.23 1070.65L2143.51 1072.5L2145.79 1074.3L2148.07 1076.04L2150.35 1077.73L2152.63 1079.37L2154.91 1080.95L2157.19 1082.48L2159.47 1083.96L2161.75 1085.4L2164.03 1086.78L2166.31 1088.11L2168.59 1089.39L2170.87 1090.63L2173.15 1091.82L2175.43 1092.97L2177.72 1094.07L2180 1095.12L2182.28 1096.14L2184.56 1097.11L2186.84 1098.05L2189.12 1098.94L2191.4 1099.8L2193.68 1100.62L2195.96 1101.41L2198.24 1102.16L2200.52 1102.87L2202.8 1103.56L2205.08 1104.21L2207.36 1104.83L2209.64 1105.42L2211.92 1105.98L2214.2 1106.52L2216.48 1107.03L2218.76 1107.52L2221.04 1107.98L2223.32 1108.41L2225.6 1108.83L2227.88 1109.22L2230.16 1109.59L2232.44 1109.94L2234.72 1110.28L2237 1110.59L2239.29 1110.89L2241.57 1111.17L2243.85 1111.44L2246.13 1111.69L2248.41 1111.92L2250.69 1112.14L2252.97 1112.35L2255.25 1112.55L2257.53 1112.74L2259.81 1112.91L2262.09 1113.07L2264.37 1113.23L2266.65 1113.37L2268.93 1113.5L2271.21 1113.63L2273.49 1113.75L2275.77 1113.86L2278.05 1113.96L2280.33 1114.06L2282.61 1114.15L2284.89 1114.23L2287.17 1114.31L2289.45 1114.39L2291.73 1114.46L2294.01 1114.52L2296.29 1114.58L2296.29 1115.3L1714.8 1115.3Z" fill="#F8766D" fill-opacity="0.4" stroke="none"/>
<path d="M1714.8 1107.01L1717.08 1106.5L1719.36 1105.97L1721.64 1105.4L1723.92 1104.81L1726.2 1104.18L1728.48 1103.53L1730.76 1102.85L1733.04 1102.13L1735.32 1101.38L1737.6 1100.59L1739.88 1099.77L1742.16 1098.91L1744.44 1098.02L1746.72 1097.08L1749 1096.1L1751.28 1095.09L1753.57 1094.03L1755.85 1092.93L1758.13 1091.78L1760.41 1090.59L1762.69 1089.35L1764.97 1088.06L1767.25 1086.73L1769.53 1085.35L1771.81 1083.91L1774.09 1082.43L1776.37 1080.9L1778.65 1079.31L1780.93 1077.67L1783.21 1075.98L1785.49 1074.23L1787.77 1072.43L1790.05 1070.58L1792.33 1068.67L1794.61 1066.71L1796.89 1064.69L1799.17 1062.62L1801.45 1060.49L1803.73 1058.3L1806.01 1056.07L1808.29 1053.77L1810.57 1051.43L1812.86 1049.03L1815.14 1046.58L1817.42 1044.07L1819.7 1041.52L1821.98 1038.91L1824.26 1036.26L1826.54 1033.56L1828.82 1030.81L1831.1 1028.02L1833.38 1025.19L1835.66 1022.31L1837.94 1019.4L1840.22 1016.44L1842.5 1013.46L1844.78 1010.44L1847.06 1007.39L1849.34 1004.31L1851.62 1001.2L1853.9 998.07L1856.18 994.93L1858.46 991.76L1860.74 988.58L1863.02 985.4L1865.3 982.2L1867.58 979L1869.86 975.8L1872.14 972.6L1874.43 969.41L1876.71 966.23L1878.99 963.06L1881.27 959.91L1883.55 956.78L1885.83 953.67L1888.11 950.6L1890.39 947.56L1892.67 944.55L1894.95 941.59L1897.23 938.67L1899.51 935.8L1901.79 932.99L1904.07 930.23L1906.35 927.53L1908.63 924.9L1910.91 922.34L1913.19 919.84L1915.47 917.43L1917.75 915.09L1920.03 912.84L1922.31 910.67L1924.59 908.59L1926.87 906.61L1929.15 904.72L1931.43 902.93L1933.71 901.24L1936 899.66L1938.28 898.19L1940.56 896.82L1942.84 895.56L1945.12 894.42L1947.4 893.4L1949.68 892.49L1951.96 891.7L1954.24 891.03L1956.52 890.48L1958.8 890.05L1961.08 889.74L1963.36 889.56L1965.64 889.5L1967.92 889.56L1970.2 889.75L1972.48 890.06L1974.76 890.49L1977.04 891.05L1979.32 891.72L1981.6 892.52L1983.88 893.43L1986.16 894.46L1988.44 895.61L1990.72 896.86L1993 898.24L1995.29 899.72L1997.57 901.3L1999.85 902.99L2002.13 904.79L2004.41 906.68L2006.69 908.66L2008.97 910.75L2011.25 912.92L2013.53 915.17L2015.81 917.51L2018.09 919.93L2020.37 922.42L2022.65 924.99L2024.93 927.63L2027.21 930.33L2029.49 933.09L2031.77 935.9L2034.05 938.78L2036.33 941.69L2038.61 944.66L2040.89 947.66L2043.17 950.71L2045.45 953.78L2047.73 956.89L2050.01 960.02L2052.29 963.17L2054.57 966.34L2056.86 969.52L2059.14 972.71L2061.42 975.91L2063.7 979.11L2065.98 982.31L2068.26 985.51L2070.54 988.7L2072.82 991.87L2075.1 995.04L2077.38 998.18L2079.66 1001.31L2081.94 1004.41L2084.22 1007.49L2086.5 1010.54L2088.78 1013.56L2091.06 1016.55L2093.34 1019.5L2095.62 1022.41L2097.9 1025.29L2100.18 1028.12L2102.46 1030.91L2104.74 1033.65L2107.02 1036.35L2109.3 1039.01L2111.58 1041.61L2113.86 1044.16L2116.14 1046.66L2118.43 1049.11L2120.71 1051.51L2122.99 1053.85L2125.27 1056.15L2127.55 1058.38L2129.83 1060.56L2132.11 1062.69L2134.39 1064.76L2136.67 1066.78L2138.95 1068.74L2141.23 1070.65L2143.51 1072.5L2145.79 1074.3L2148.07 1076.04L2150.35 1077.73L2152.63 1079.37L2154.91 1080.95L2157.19 1082.48L2159.47 1083.96L2161.75 1085.4L2164.03 1086.78L2166.31 1088.11L2168.59 1089.39L2170.87 1090.63L2173.15 1091.82L2175.43 1092.97L2177.72 1094.07L2180 1095.12L2182.28 1096.14L2184.56 1097.11L2186.84 1098.05L2189.12 1098.94L2191.4 1099.8L2193.68 1100.62L2195.96 1101.41L2198.24 1102.16L2200.52 1102.87L2202.8 1103.56L2205.08 1104.21L2207.36 1104.83L2209.64 1105.42L2211.92 1105.98L2214.2 1106.52L2216.48 1107.03L2218.76 1107.52L2221.04 1107.98L2223.32 1108.41L2225.6 1108.83L2227.88 1109.22L2230.16 1109.59L2232.44 1109.94L2234.72 1110.28L2237 1110.59L2239.29 1110.89L2241.57 1111.17L2243.85 1111.44L2246.13 1111.69L2248.41 1111.92L2250.69 1112.14L2252.97 1112.35L2255.25 1112.55L2257.53 1112.74L2259.81 1112.91L2262.09 1113.07L2264.37 1113.23L2266.65 1113.37L2268.93 1113.5L2271.21 1113.63L2273.49 1113.75L2275.77 1113.86L2278.05 1113.96L2280.33 1114.06L2282.61 1114.15L2284.89 1114.23L2287.17 1114.31L2289.45 1114.39L2291.73 1114.46L2294.01 1114.52L2296.29 1114.58L2296.29 1115.3L1714.8 1115.3Z" fill="#22C3C8" fill-opacity="0.4" stroke="none"/>
</g>
<rect x="2325.8" y="878.1" width="56.1" height="247.6" fill="#D9D9D9"/>
<text transform="translate(2353.85 1001.9) rotate(90)" x="0" y="11.17" text-anchor="middle" font-size="31.2" fill="#1A1A1A">2</text>
<text x="1669" y="1126.77" text-anchor="end" font-size="31.2" fill="#4D4D4D">0.0</text>
<text x="1669" y="1070.17" text-anchor="end" font-size="31.2" fill="#4D4D4D">0.1</text>
<text x="1669" y="1013.57" text-anchor="end" font-size="31.2" fill="#4D4D4D">0.2</text>
<text x="1669" y="956.97" text-anchor="end" font-size="31.2" fill="#4D4D4D">0.3</text>
<text x="1669" y="900.37" text-anchor="end" font-size="31.2" fill="#4D4D4D">0.4</text>
<path d="M1676 1115.3H1684.8M1676 1058.7H1684.8M1676 1002.1H1684.8M1676 945.5H1684.8M1676 888.9H1684.8" stroke="#333333" stroke-width="3.4" fill="none"/>
</g>
<g>
<rect x="1684.8" y="1144.2" width="641" height="248.6" fill="#EBEBEB"/>
<g clip-path="url(#cp24)">
<path d="M1684.8 1351.82H2325.8M1684.8 1292.27H2325.8M1684.8 1232.72H2325.8M1684.8 1173.17H2325.8M1868.05 1144.2V1392.8M2063.15 1144.2V1392.8M2258.25 1144.2V1392.8" stroke="#fff" stroke-width="1.7" fill="none"/>
<path d="M1684.8 1381.6H2325.8M1684.8 1322.05H2325.8M1684.8 1262.5H2325.8M1684.8 1202.95H2325.8M1684.8 1143.4H2325.8M1770.5 1144.2V1392.8M1965.6 1144.2V1392.8M2160.7 1144.2V1392.8" stroke="#fff" stroke-width="3.4" fill="none"/>
<path d="M1714.8 1381.6L1717.08 1381.6L1719.36 1381.6L1721.64 1381.6L1723.92 1381.6L1726.2 1381.6L1728.48 1381.6L1730.76 1381.6L1733.04 1381.6L1735.32 1381.6L1737.6 1381.6L1739.88 1381.6L1742.16 1381.6L1744.44 1381.6L1746.72 1381.6L1749 1381.6L1751.28 1381.6L1753.57 1381.6L1755.85 1381.6L1758.13 1381.6L1760.41 1381.6L1762.69 1381.6L1764.97 1381.6L1767.25 1381.6L1769.53 1381.6L1771.81 1381.6L1774.09 1381.6L1776.37 1381.6L1778.65 1381.6L1780.93 1381.6L1783.21 1381.6L1785.49 1381.6L1787.77 1381.6L1790.05 1381.6L1792.33 1381.6L1794.61 1381.6L1796.89 1381.6L1799.17 1381.6L1801.45 1381.6L1803.73 1381.6L1806.01 1381.6L1808.29 1381.6L1810.57 1381.6L1812.86 1381.6L1815.14 1381.6L1817.42 1381.6L1819.7 1381.6L1821.98 1381.6L1824.26 1381.6L1826.54 1381.6L1828.82 1381.6L1831.1 1381.6L1833.38 1381.6L1835.66 1381.6L1837.94 1381.6L1840.22 1381.6L1842.5 1381.6L1844.78 1381.6L1847.06 1381.6L1849.34 1381.6L1851.62 1381.6L1853.9 1381.6L1856.18 1381.6L1858.46 1381.6L1860.74 1381.6L1863.02 1381.6L1865.3 1381.6L1867.58 1381.6L1869.86 1381.6L1872.14 1381.6L1874.43 1381.6L1876.71 1381.6L1878.99 1381.6L1881.27 1381.6L1883.55 1381.6L1885.83 1381.6L1888.11 1381.6L1890.39 1381.6L1892.67 1381.59L1894.95 1381.59L1897.23 1381.59L1899.51 1381.59L1901.79 1381.58L1904.07 1381.58L1906.35 1381.57L1908.63 1381.56L1910.91 1381.54L1913.19 1381.53L1915.47 1381.5L1917.75 1381.48L1920.03 1381.44L1922.31 1381.39L1924.59 1381.33L1926.87 1381.26L1929.15 1381.17L1931.43 1381.06L1933.71 1380.91L1936 1380.74L1938.28 1380.53L1940.56 1380.27L1942.84 1379.95L1945.12 1379.57L1947.4 1379.11L1949.68 1378.57L1951.96 1377.91L1954.24 1377.14L1956.52 1376.24L1958.8 1375.17L1961.08 1373.93L1963.36 1372.49L1965.64 1370.83L1967.92 1368.92L1970.2 1366.74L1972.48 1364.26L1974.76 1361.46L1977.04 1358.31L1979.32 1354.79L1981.6 1350.88L1983.88 1346.56L1986.16 1341.81L1988.44 1336.61L1990.72 1330.96L1993 1324.86L1995.29 1318.31L1997.57 1311.31L1999.85 1303.9L2002.13 1296.09L2004.41 1287.91L2006.69 1279.41L2008.97 1270.63L2011.25 1261.65L2013.53 1252.51L2015.81 1243.31L2018.09 1234.11L2020.37 1225L2022.65 1216.07L2024.93 1207.42L2027.21 1199.13L2029.49 1191.31L2031.77 1184.04L2034.05 1177.41L2036.33 1171.5L2038.61 1166.39L2040.89 1162.14L2043.17 1158.81L2045.45 1156.44L2047.73 1155.07L2050.01 1154.7L2052.29 1155.36L2054.57 1157.02L2056.86 1159.67L2059.14 1163.26L2061.42 1167.77L2063.7 1173.11L2065.98 1179.23L2068.26 1186.06L2070.54 1193.49L2072.82 1201.46L2075.1 1209.86L2077.38 1218.6L2079.66 1227.59L2081.94 1236.73L2084.22 1245.94L2086.5 1255.14L2088.78 1264.24L2091.06 1273.17L2093.34 1281.87L2095.62 1290.28L2097.9 1298.36L2100.18 1306.06L2102.46 1313.36L2104.74 1320.23L2107.02 1326.65L2109.3 1332.62L2111.58 1338.14L2113.86 1343.21L2116.14 1347.84L2118.43 1352.04L2120.71 1355.84L2122.99 1359.25L2125.27 1362.29L2127.55 1365L2129.83 1367.39L2132.11 1369.49L2134.39 1371.32L2136.67 1372.92L2138.95 1374.3L2141.23 1375.49L2143.51 1376.51L2145.79 1377.38L2148.07 1378.11L2150.35 1378.73L2152.63 1379.25L2154.91 1379.69L2157.19 1380.05L2159.47 1380.35L2161.75 1380.59L2164.03 1380.79L2166.31 1380.96L2168.59 1381.09L2170.87 1381.2L2173.15 1381.28L2175.43 1381.35L2177.72 1381.41L2180 1381.45L2182.28 1381.48L2184.56 1381.51L2186.84 1381.53L2189.12 1381.55L2191.4 1381.56L2193.68 1381.57L2195.96 1381.58L2198.24 1381.58L2200.52 1381.59L2202.8 1381.59L2205.08 1381.59L2207.36 1381.6L2209.64 1381.6L2211.92 1381.6L2214.2 1381.6L2216.48 1381.6L2218.76 1381.6L2221.04 1381.6L2223.32 1381.6L2225.6 1381.6L2227.88 1381.6L2230.16 1381.6L2232.44 1381.6L2234.72 1381.6L2237 1381.6L2239.29 1381.6L2241.57 1381.6L2243.85 1381.6L2246.13 1381.6L2248.41 1381.6L2250.69 1381.6L2252.97 1381.6L2255.25 1381.6L2257.53 1381.6L2259.81 1381.6L2262.09 1381.6L2264.37 1381.6L2266.65 1381.6L2268.93 1381.6L2271.21 1381.6L2273.49 1381.6L2275.77 1381.6L2278.05 1381.6L2280.33 1381.6L2282.61 1381.6L2284.89 1381.6L2287.17 1381.6L2289.45 1381.6L2291.73 1381.6L2294.01 1381.6L2296.29 1381.6L2296.29 1381.6L1714.8 1381.6Z" fill="#F8766D" fill-opacity="0.4" stroke="none"/>
<path d="M1714.8 1381.6L1717.08 1381.6L1719.36 1381.6L1721.64 1381.6L1723.92 1381.6L1726.2 1381.6L1728.48 1381.6L1730.76 1381.6L1733.04 1381.6L1735.32 1381.6L1737.6 1381.6L1739.88 1381.6L1742.16 1381.6L1744.44 1381.6L1746.72 1381.6L1749 1381.6L1751.28 1381.6L1753.57 1381.6L1755.85 1381.6L1758.13 1381.6L1760.41 1381.6L1762.69 1381.6L1764.97 1381.6L1767.25 1381.6L1769.53 1381.6L1771.81 1381.6L1774.09 1381.6L1776.37 1381.6L1778.65 1381.6L1780.93 1381.6L1783.21 1381.6L1785.49 1381.6L1787.77 1381.6L1790.05 1381.6L1792.33 1381.6L1794.61 1381.6L1796.89 1381.6L1799.17 1381.6L1801.45 1381.6L1803.73 1381.6L1806.01 1381.6L1808.29 1381.6L1810.57 1381.6L1812.86 1381.6L1815.14 1381.6L1817.42 1381.6L1819.7 1381.6L1821.98 1381.6L1824.26 1381.6L1826.54 1381.6L1828.82 1381.6L1831.1 1381.6L1833.38 1381.6L1835.66 1381.6L1837.94 1381.6L1840.22 1381.6L1842.5 1381.6L1844.78 1381.6L1847.06 1381.6L1849.34 1381.6L1851.62 1381.6L1853.9 1381.6L1856.18 1381.6L1858.46 1381.6L1860.74 1381.6L1863.02 1381.6L1865.3 1381.6L1867.58 1381.6L1869.86 1381.6L1872.14 1381.6L1874.43 1381.6L1876.71 1381.6L1878.99 1381.6L1881.27 1381.6L1883.55 1381.6L1885.83 1381.6L1888.11 1381.6L1890.39 1381.6L1892.67 1381.59L1894.95 1381.59L1897.23 1381.59L1899.51 1381.59L1901.79 1381.58L1904.07 1381.57L1906.35 1381.57L1908.63 1381.56L1910.91 1381.54L1913.19 1381.52L1915.47 1381.5L1917.75 1381.47L1920.03 1381.43L1922.31 1381.39L1924.59 1381.32L1926.87 1381.25L1929.15 1381.16L1931.43 1381.04L1933.71 1380.89L1936 1380.72L1938.28 1380.5L1940.56 1380.23L1942.84 1379.91L1945.12 1379.52L1947.4 1379.06L1949.68 1378.5L1951.96 1377.84L1954.24 1377.06L1956.52 1376.13L1958.8 1375.06L1961.08 1373.8L1963.36 1372.35L1965.64 1370.67L1967.92 1368.74L1970.2 1366.55L1972.48 1364.05L1974.76 1361.24L1977.04 1358.08L1979.32 1354.54L1981.6 1350.62L1983.88 1346.28L1986.16 1341.52L1988.44 1336.32L1990.72 1330.67L1993 1324.57L1995.29 1318.03L1997.57 1311.05L1999.85 1303.65L2002.13 1295.85L2004.41 1287.7L2006.69 1279.23L2008.97 1270.5L2011.25 1261.55L2013.53 1252.47L2015.81 1243.31L2018.09 1234.17L2020.37 1225.11L2022.65 1216.25L2024.93 1207.65L2027.21 1199.43L2029.49 1191.66L2031.77 1184.45L2034.05 1177.87L2036.33 1172.01L2038.61 1166.94L2040.89 1162.73L2043.17 1159.42L2045.45 1157.08L2047.73 1155.71L2050.01 1155.35L2052.29 1156L2054.57 1157.65L2056.86 1160.27L2059.14 1163.84L2061.42 1168.3L2063.7 1173.61L2065.98 1179.68L2068.26 1186.45L2070.54 1193.83L2072.82 1201.73L2075.1 1210.07L2077.38 1218.76L2079.66 1227.69L2081.94 1236.77L2084.22 1245.93L2086.5 1255.08L2088.78 1264.13L2091.06 1273.02L2093.34 1281.68L2095.62 1290.07L2097.9 1298.12L2100.18 1305.8L2102.46 1313.08L2104.74 1319.94L2107.02 1326.36L2109.3 1332.33L2111.58 1337.85L2113.86 1342.93L2116.14 1347.57L2118.43 1351.78L2120.71 1355.59L2122.99 1359.02L2125.27 1362.08L2127.55 1364.8L2129.83 1367.2L2132.11 1369.32L2134.39 1371.17L2136.67 1372.78L2138.95 1374.18L2141.23 1375.38L2143.51 1376.41L2145.79 1377.29L2148.07 1378.04L2150.35 1378.67L2152.63 1379.2L2154.91 1379.64L2157.19 1380.01L2159.47 1380.31L2161.75 1380.56L2164.03 1380.77L2166.31 1380.94L2168.59 1381.07L2170.87 1381.18L2173.15 1381.27L2175.43 1381.34L2177.72 1381.4L2180 1381.44L2182.28 1381.48L2184.56 1381.51L2186.84 1381.53L2189.12 1381.55L2191.4 1381.56L2193.68 1381.57L2195.96 1381.58L2198.24 1381.58L2200.52 1381.59L2202.8 1381.59L2205.08 1381.59L2207.36 1381.59L2209.64 1381.6L2211.92 1381.6L2214.2 1381.6L2216.48 1381.6L2218.76 1381.6L2221.04 1381.6L2223.32 1381.6L2225.6 1381.6L2227.88 1381.6L2230.16 1381.6L2232.44 1381.6L2234.72 1381.6L2237 1381.6L2239.29 1381.6L2241.57 1381.6L2243.85 1381.6L2246.13 1381.6L2248.41 1381.6L2250.69 1381.6L2252.97 1381.6L2255.25 1381.6L2257.53 1381.6L2259.81 1381.6L2262.09 1381.6L2264.37 1381.6L2266.65 1381.6L2268.93 1381.6L2271.21 1381.6L2273.49 1381.6L2275.77 1381.6L2278.05 1381.6L2280.33 1381.6L2282.61 1381.6L2284.89 1381.6L2287.17 1381.6L2289.45 1381.6L2291.73 1381.6L2294.01 1381.6L2296.29 1381.6L2296.29 1381.6L1714.8 1381.6Z" fill="#22C3C8" fill-opacity="0.4" stroke="none"/>
</g>
<rect x="2325.8" y="1144.2" width="56.1" height="248.6" fill="#D9D9D9"/>
<text transform="translate(2353.85 1268.5) rotate(90)" x="0" y="11.17" text-anchor="middle" font-size="31.2" fill="#1A1A1A">5</text>
<text x="1669" y="1393.07" text-anchor="end" font-size="31.2" fill="#4D4D4D">0.0</text>
<text x="1669" y="1333.52" text-anchor="end" font-size="31.2" fill="#4D4D4D">0.3</text>
<text x="1669" y="1273.97" text-anchor="end" font-size="31.2" fill="#4D4D4D">0.6</text>
<text x="1669" y="1214.42" text-anchor="end" font-size="31.2" fill="#4D4D4D">0.9</text>
<text x="1669" y="1154.87" text-anchor="end" font-size="31.2" fill="#4D4D4D">1.2</text>
<path d="M1676 1381.6H1684.8M1676 1322.05H1684.8M1676 1262.5H1684.8M1676 1202.95H1684.8M1676 1143.4H1684.8" stroke="#333333" stroke-width="3.4" fill="none"/>
</g>
<text x="1770.5" y="1431.8" text-anchor="middle" font-size="31.2" fill="#4D4D4D">-2</text>
<text x="1965.6" y="1431.8" text-anchor="middle" font-size="31.2" fill="#4D4D4D">0</text>
<text x="2160.7" y="1431.8" text-anchor="middle" font-size="31.2" fill="#4D4D4D">2</text>
<path d="M1770.5 1392.8V1401.6M1965.6 1392.8V1401.6M2160.7 1392.8V1401.6" stroke="#333333" stroke-width="3.4" fill="none"/>
<text x="2005.3" y="1475.1" text-anchor="middle" font-size="40.0" fill="#000">Variable Value</text>
<text transform="translate(1590.4 735.4) rotate(-90)" text-anchor="middle" font-size="40.0" fill="#000">Density</text>
<text x="2431.7" y="666" font-size="40.0" fill="#000">Change-point</text>
<text x="2431.7" y="708.5" font-size="40.0" fill="#000">Occurs</text>
<rect x="2432.2" y="732.4" width="53.5" height="53.1" fill="#F2F2F2"/>
<rect x="2434.1" y="734.3" width="49.7" height="49.3" fill="#F8766D" fill-opacity="0.4"/>
<text x="2505.8" y="771" font-size="31.2" fill="#000">After</text>
<rect x="2432.2" y="785.5" width="53.5" height="53.1" fill="#F2F2F2"/>
<rect x="2434.1" y="787.4" width="49.7" height="49.3" fill="#22C3C8" fill-opacity="0.4"/>
<text x="2505.8" y="823.3" font-size="31.2" fill="#000">Before</text>
<rect x="0" y="1438" width="2686" height="54" fill="url(#shade)"/>
<path d="M0 1492V1488.5Q0.6 1490.8 2.6 1492Z" fill="#222"/>
</svg>
</body></html>
